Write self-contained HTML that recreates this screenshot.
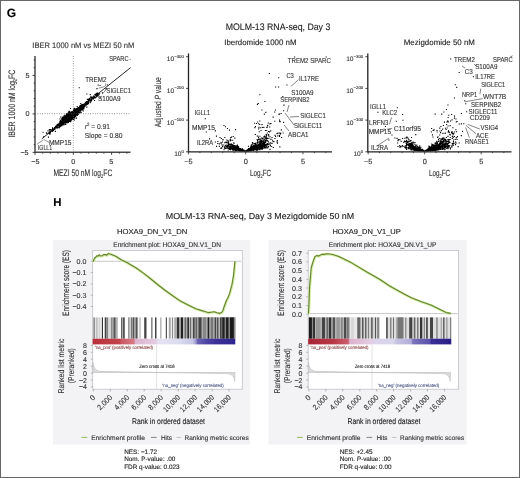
<!DOCTYPE html><html><head><meta charset="utf-8"><style>html,body{margin:0;padding:0;background:#fff;}svg{display:block;will-change:transform;text-rendering:geometricPrecision;font-family:"Liberation Sans",sans-serif;}</style></head><body><svg width="520" height="478" viewBox="0 0 520 478">
<rect x="0" y="0" width="520" height="478" fill="#fff"/>
<text x="6.70" y="16.90" font-size="12" fill="#000" font-weight="bold"  stroke="#000" stroke-width="0.12">G</text>
<text x="32.30" y="48.20" font-size="8" fill="#333" textLength="102.00" lengthAdjust="spacingAndGlyphs"  stroke="#333" stroke-width="0.12">IBER 1000 nM vs MEZI 50 nM</text>
<path d="M71.0 116.3h1.1v1.1h-1.1zM72.1 113.7h1.1v1.1h-1.1zM65.9 113.1h1.1v1.1h-1.1zM65.3 119.3h1.1v1.1h-1.1zM66.6 116.0h1.1v1.1h-1.1zM64.3 119.3h1.1v1.1h-1.1zM72.3 117.2h1.1v1.1h-1.1zM78.1 107.3h1.1v1.1h-1.1zM66.4 116.2h1.1v1.1h-1.1zM68.3 120.0h1.1v1.1h-1.1zM73.6 113.0h1.1v1.1h-1.1zM74.2 115.6h1.1v1.1h-1.1zM71.3 115.3h1.1v1.1h-1.1zM64.3 118.5h1.1v1.1h-1.1zM70.0 115.4h1.1v1.1h-1.1zM76.0 113.3h1.1v1.1h-1.1zM63.6 122.4h1.1v1.1h-1.1zM67.7 117.4h1.1v1.1h-1.1zM59.8 123.9h1.1v1.1h-1.1zM63.0 121.0h1.1v1.1h-1.1zM59.7 123.0h1.1v1.1h-1.1zM71.0 119.1h1.1v1.1h-1.1zM63.3 121.0h1.1v1.1h-1.1zM70.8 112.5h1.1v1.1h-1.1zM70.8 113.9h1.1v1.1h-1.1zM70.0 117.2h1.1v1.1h-1.1zM56.7 127.0h1.1v1.1h-1.1zM67.1 117.6h1.1v1.1h-1.1zM69.3 114.7h1.1v1.1h-1.1zM71.0 114.9h1.1v1.1h-1.1zM60.4 120.5h1.1v1.1h-1.1zM66.2 115.8h1.1v1.1h-1.1zM65.6 120.7h1.1v1.1h-1.1zM65.3 118.4h1.1v1.1h-1.1zM77.5 110.3h1.1v1.1h-1.1zM67.0 120.5h1.1v1.1h-1.1zM70.8 116.4h1.1v1.1h-1.1zM76.0 110.8h1.1v1.1h-1.1zM69.2 120.8h1.1v1.1h-1.1zM70.4 116.8h1.1v1.1h-1.1zM70.6 114.4h1.1v1.1h-1.1zM71.5 116.1h1.1v1.1h-1.1zM63.8 121.3h1.1v1.1h-1.1zM69.8 113.8h1.1v1.1h-1.1zM79.1 108.4h1.1v1.1h-1.1zM61.6 122.1h1.1v1.1h-1.1zM74.0 108.6h1.1v1.1h-1.1zM70.8 114.6h1.1v1.1h-1.1zM66.4 117.9h1.1v1.1h-1.1zM83.0 104.7h1.1v1.1h-1.1zM73.6 109.4h1.1v1.1h-1.1zM63.3 120.3h1.1v1.1h-1.1zM70.7 115.0h1.1v1.1h-1.1zM74.1 112.5h1.1v1.1h-1.1zM68.0 114.7h1.1v1.1h-1.1zM75.3 112.6h1.1v1.1h-1.1zM68.6 114.0h1.1v1.1h-1.1zM74.4 111.7h1.1v1.1h-1.1zM80.6 109.2h1.1v1.1h-1.1zM65.8 117.5h1.1v1.1h-1.1zM71.0 113.7h1.1v1.1h-1.1zM68.8 118.9h1.1v1.1h-1.1zM70.7 114.2h1.1v1.1h-1.1zM63.4 120.3h1.1v1.1h-1.1zM67.3 118.3h1.1v1.1h-1.1zM70.3 117.7h1.1v1.1h-1.1zM74.0 108.2h1.1v1.1h-1.1zM77.0 108.6h1.1v1.1h-1.1zM62.1 120.2h1.1v1.1h-1.1zM64.8 117.6h1.1v1.1h-1.1zM73.6 111.0h1.1v1.1h-1.1zM58.7 123.5h1.1v1.1h-1.1zM68.0 117.9h1.1v1.1h-1.1zM68.7 114.6h1.1v1.1h-1.1zM78.5 109.0h1.1v1.1h-1.1zM75.1 112.3h1.1v1.1h-1.1zM67.7 115.9h1.1v1.1h-1.1zM68.4 117.2h1.1v1.1h-1.1zM70.6 118.7h1.1v1.1h-1.1zM80.4 107.8h1.1v1.1h-1.1zM67.2 116.5h1.1v1.1h-1.1zM68.5 116.7h1.1v1.1h-1.1zM71.6 112.4h1.1v1.1h-1.1zM69.9 116.3h1.1v1.1h-1.1zM70.1 117.4h1.1v1.1h-1.1zM63.3 119.4h1.1v1.1h-1.1zM70.0 115.2h1.1v1.1h-1.1zM69.0 118.8h1.1v1.1h-1.1zM77.4 108.8h1.1v1.1h-1.1zM74.7 112.2h1.1v1.1h-1.1zM69.0 114.1h1.1v1.1h-1.1zM73.8 110.9h1.1v1.1h-1.1zM67.8 116.2h1.1v1.1h-1.1zM79.0 112.3h1.1v1.1h-1.1zM69.8 114.9h1.1v1.1h-1.1zM73.5 111.7h1.1v1.1h-1.1zM62.6 120.5h1.1v1.1h-1.1zM72.3 113.4h1.1v1.1h-1.1zM61.4 123.5h1.1v1.1h-1.1zM59.1 124.6h1.1v1.1h-1.1zM70.7 119.5h1.1v1.1h-1.1zM65.5 119.6h1.1v1.1h-1.1zM72.8 116.5h1.1v1.1h-1.1zM85.0 103.9h1.1v1.1h-1.1zM66.2 119.8h1.1v1.1h-1.1zM65.3 116.4h1.1v1.1h-1.1zM71.5 114.2h1.1v1.1h-1.1zM73.4 112.8h1.1v1.1h-1.1zM69.0 115.9h1.1v1.1h-1.1zM66.8 113.5h1.1v1.1h-1.1zM75.7 112.8h1.1v1.1h-1.1zM73.2 112.2h1.1v1.1h-1.1zM64.1 119.5h1.1v1.1h-1.1zM69.5 115.4h1.1v1.1h-1.1zM70.2 114.9h1.1v1.1h-1.1zM64.8 120.5h1.1v1.1h-1.1zM70.6 112.4h1.1v1.1h-1.1zM64.6 118.1h1.1v1.1h-1.1zM76.8 110.7h1.1v1.1h-1.1zM71.7 114.6h1.1v1.1h-1.1zM70.4 114.4h1.1v1.1h-1.1zM66.4 117.3h1.1v1.1h-1.1zM68.7 114.8h1.1v1.1h-1.1zM59.2 124.2h1.1v1.1h-1.1zM65.1 121.7h1.1v1.1h-1.1zM71.5 112.2h1.1v1.1h-1.1zM59.4 126.0h1.1v1.1h-1.1zM76.5 112.0h1.1v1.1h-1.1zM60.3 122.7h1.1v1.1h-1.1zM75.9 112.4h1.1v1.1h-1.1zM64.2 117.4h1.1v1.1h-1.1zM73.7 109.3h1.1v1.1h-1.1zM69.7 113.0h1.1v1.1h-1.1zM61.4 121.8h1.1v1.1h-1.1zM78.1 108.6h1.1v1.1h-1.1zM79.2 107.4h1.1v1.1h-1.1zM70.0 115.8h1.1v1.1h-1.1zM66.5 113.8h1.1v1.1h-1.1zM69.9 116.8h1.1v1.1h-1.1zM63.5 118.1h1.1v1.1h-1.1zM76.8 109.0h1.1v1.1h-1.1zM66.8 117.3h1.1v1.1h-1.1zM68.7 114.1h1.1v1.1h-1.1zM64.5 117.2h1.1v1.1h-1.1zM65.8 116.9h1.1v1.1h-1.1zM63.2 121.0h1.1v1.1h-1.1zM78.9 109.5h1.1v1.1h-1.1zM70.0 116.8h1.1v1.1h-1.1zM75.6 109.3h1.1v1.1h-1.1zM69.5 114.3h1.1v1.1h-1.1zM65.5 117.3h1.1v1.1h-1.1zM68.9 117.4h1.1v1.1h-1.1zM65.1 115.3h1.1v1.1h-1.1zM71.6 117.0h1.1v1.1h-1.1zM67.7 116.4h1.1v1.1h-1.1zM67.8 115.7h1.1v1.1h-1.1zM62.9 121.9h1.1v1.1h-1.1zM66.8 120.2h1.1v1.1h-1.1zM81.2 107.1h1.1v1.1h-1.1zM67.6 119.7h1.1v1.1h-1.1zM64.5 120.2h1.1v1.1h-1.1zM73.7 115.3h1.1v1.1h-1.1zM80.3 109.3h1.1v1.1h-1.1zM62.1 121.7h1.1v1.1h-1.1zM70.6 118.2h1.1v1.1h-1.1zM66.9 118.4h1.1v1.1h-1.1zM60.6 123.3h1.1v1.1h-1.1zM74.1 110.5h1.1v1.1h-1.1zM69.8 115.1h1.1v1.1h-1.1zM71.5 116.1h1.1v1.1h-1.1zM64.8 117.1h1.1v1.1h-1.1zM73.9 113.9h1.1v1.1h-1.1zM67.6 118.2h1.1v1.1h-1.1zM69.8 116.4h1.1v1.1h-1.1zM62.1 117.8h1.1v1.1h-1.1zM63.4 120.7h1.1v1.1h-1.1zM79.4 109.1h1.1v1.1h-1.1zM66.7 116.7h1.1v1.1h-1.1zM72.2 114.0h1.1v1.1h-1.1zM67.5 112.4h1.1v1.1h-1.1zM68.5 118.2h1.1v1.1h-1.1zM66.8 116.8h1.1v1.1h-1.1zM75.2 113.2h1.1v1.1h-1.1zM66.6 114.3h1.1v1.1h-1.1zM70.1 117.0h1.1v1.1h-1.1zM70.1 115.0h1.1v1.1h-1.1zM78.6 110.1h1.1v1.1h-1.1zM73.8 110.7h1.1v1.1h-1.1zM72.1 112.6h1.1v1.1h-1.1zM69.4 120.8h1.1v1.1h-1.1zM61.9 120.7h1.1v1.1h-1.1zM75.8 109.7h1.1v1.1h-1.1zM76.3 110.1h1.1v1.1h-1.1zM68.4 114.7h1.1v1.1h-1.1zM75.0 114.1h1.1v1.1h-1.1zM77.0 113.4h1.1v1.1h-1.1zM75.0 110.3h1.1v1.1h-1.1zM74.7 108.7h1.1v1.1h-1.1zM68.9 118.9h1.1v1.1h-1.1zM80.9 108.5h1.1v1.1h-1.1zM64.1 121.8h1.1v1.1h-1.1zM76.9 112.3h1.1v1.1h-1.1zM72.6 111.7h1.1v1.1h-1.1zM75.8 110.7h1.1v1.1h-1.1zM81.7 104.6h1.1v1.1h-1.1zM78.9 106.4h1.1v1.1h-1.1zM64.8 121.6h1.1v1.1h-1.1zM60.4 122.3h1.1v1.1h-1.1zM77.7 113.8h1.1v1.1h-1.1zM64.7 120.0h1.1v1.1h-1.1zM69.5 114.6h1.1v1.1h-1.1zM76.5 112.0h1.1v1.1h-1.1zM62.5 124.4h1.1v1.1h-1.1zM58.9 125.1h1.1v1.1h-1.1zM70.7 112.5h1.1v1.1h-1.1zM70.9 115.7h1.1v1.1h-1.1zM70.3 118.3h1.1v1.1h-1.1zM70.0 114.6h1.1v1.1h-1.1zM64.8 118.3h1.1v1.1h-1.1zM62.7 123.1h1.1v1.1h-1.1zM69.5 116.3h1.1v1.1h-1.1zM63.9 118.4h1.1v1.1h-1.1zM60.9 122.3h1.1v1.1h-1.1zM72.8 111.8h1.1v1.1h-1.1zM70.2 116.1h1.1v1.1h-1.1zM73.0 113.4h1.1v1.1h-1.1zM65.9 121.1h1.1v1.1h-1.1zM67.3 119.2h1.1v1.1h-1.1zM63.3 118.0h1.1v1.1h-1.1zM65.7 119.8h1.1v1.1h-1.1zM72.5 115.6h1.1v1.1h-1.1zM66.4 119.4h1.1v1.1h-1.1zM73.6 114.9h1.1v1.1h-1.1zM71.9 112.9h1.1v1.1h-1.1zM82.9 104.2h1.1v1.1h-1.1zM63.3 122.5h1.1v1.1h-1.1zM75.0 109.6h1.1v1.1h-1.1zM67.5 112.9h1.1v1.1h-1.1zM71.3 116.8h1.1v1.1h-1.1zM61.7 121.1h1.1v1.1h-1.1zM67.4 117.0h1.1v1.1h-1.1zM73.7 109.9h1.1v1.1h-1.1zM68.4 114.0h1.1v1.1h-1.1zM69.5 113.5h1.1v1.1h-1.1zM68.3 116.2h1.1v1.1h-1.1zM78.1 109.8h1.1v1.1h-1.1zM67.7 112.5h1.1v1.1h-1.1zM58.5 125.7h1.1v1.1h-1.1zM65.3 117.0h1.1v1.1h-1.1zM58.7 123.2h1.1v1.1h-1.1zM52.5 130.1h1.1v1.1h-1.1zM67.2 117.7h1.1v1.1h-1.1zM77.7 107.0h1.1v1.1h-1.1zM72.5 117.6h1.1v1.1h-1.1zM63.0 119.6h1.1v1.1h-1.1zM65.3 119.9h1.1v1.1h-1.1zM77.8 109.7h1.1v1.1h-1.1zM72.8 116.5h1.1v1.1h-1.1zM70.1 114.6h1.1v1.1h-1.1zM71.0 117.0h1.1v1.1h-1.1zM69.7 114.2h1.1v1.1h-1.1zM76.5 112.5h1.1v1.1h-1.1zM73.1 111.6h1.1v1.1h-1.1zM71.3 113.8h1.1v1.1h-1.1zM66.2 122.2h1.1v1.1h-1.1zM73.9 113.2h1.1v1.1h-1.1zM66.6 118.6h1.1v1.1h-1.1zM79.3 112.1h1.1v1.1h-1.1zM63.5 121.4h1.1v1.1h-1.1zM68.6 114.9h1.1v1.1h-1.1zM71.0 116.4h1.1v1.1h-1.1zM61.9 120.0h1.1v1.1h-1.1zM82.2 107.4h1.1v1.1h-1.1zM80.6 108.9h1.1v1.1h-1.1zM67.1 116.7h1.1v1.1h-1.1zM74.7 110.7h1.1v1.1h-1.1zM72.9 113.7h1.1v1.1h-1.1zM55.8 127.0h1.1v1.1h-1.1zM70.9 112.8h1.1v1.1h-1.1zM70.5 116.4h1.1v1.1h-1.1zM68.6 112.3h1.1v1.1h-1.1zM63.9 119.7h1.1v1.1h-1.1zM68.3 116.1h1.1v1.1h-1.1zM69.0 115.8h1.1v1.1h-1.1zM78.2 109.5h1.1v1.1h-1.1zM71.1 112.1h1.1v1.1h-1.1zM70.8 116.2h1.1v1.1h-1.1zM80.1 107.3h1.1v1.1h-1.1zM66.5 117.0h1.1v1.1h-1.1zM66.7 115.4h1.1v1.1h-1.1zM59.4 122.4h1.1v1.1h-1.1zM80.7 107.6h1.1v1.1h-1.1zM75.7 109.3h1.1v1.1h-1.1zM76.3 110.7h1.1v1.1h-1.1zM75.6 113.2h1.1v1.1h-1.1zM72.1 116.2h1.1v1.1h-1.1zM73.3 116.3h1.1v1.1h-1.1zM68.5 116.1h1.1v1.1h-1.1zM68.0 114.9h1.1v1.1h-1.1zM71.7 116.5h1.1v1.1h-1.1zM80.3 107.8h1.1v1.1h-1.1zM75.0 113.9h1.1v1.1h-1.1zM69.9 115.7h1.1v1.1h-1.1zM68.3 119.5h1.1v1.1h-1.1zM67.6 119.3h1.1v1.1h-1.1zM81.2 107.7h1.1v1.1h-1.1zM74.1 113.4h1.1v1.1h-1.1zM71.1 115.6h1.1v1.1h-1.1zM68.6 117.2h1.1v1.1h-1.1zM64.3 120.6h1.1v1.1h-1.1zM70.9 117.0h1.1v1.1h-1.1zM75.5 110.3h1.1v1.1h-1.1zM69.9 119.4h1.1v1.1h-1.1zM68.9 116.3h1.1v1.1h-1.1zM70.1 117.7h1.1v1.1h-1.1zM70.9 114.7h1.1v1.1h-1.1zM61.3 122.2h1.1v1.1h-1.1zM71.1 119.1h1.1v1.1h-1.1zM65.2 118.8h1.1v1.1h-1.1zM74.8 109.3h1.1v1.1h-1.1zM65.3 117.9h1.1v1.1h-1.1zM73.7 112.0h1.1v1.1h-1.1zM81.7 109.4h1.1v1.1h-1.1zM68.7 117.1h1.1v1.1h-1.1zM67.9 119.2h1.1v1.1h-1.1zM70.4 113.1h1.1v1.1h-1.1zM70.6 115.9h1.1v1.1h-1.1zM65.4 120.6h1.1v1.1h-1.1zM75.1 115.3h1.1v1.1h-1.1zM83.0 104.5h1.1v1.1h-1.1zM69.5 117.3h1.1v1.1h-1.1zM69.4 116.7h1.1v1.1h-1.1zM63.5 118.9h1.1v1.1h-1.1zM72.3 113.7h1.1v1.1h-1.1zM63.1 120.6h1.1v1.1h-1.1zM62.0 117.7h1.1v1.1h-1.1zM79.0 109.3h1.1v1.1h-1.1zM65.8 120.1h1.1v1.1h-1.1zM76.9 109.3h1.1v1.1h-1.1zM79.2 106.3h1.1v1.1h-1.1zM73.5 116.0h1.1v1.1h-1.1zM74.1 112.9h1.1v1.1h-1.1zM83.5 106.0h1.1v1.1h-1.1zM70.7 118.1h1.1v1.1h-1.1zM66.4 117.4h1.1v1.1h-1.1zM63.5 122.2h1.1v1.1h-1.1zM70.3 114.9h1.1v1.1h-1.1zM79.8 107.7h1.1v1.1h-1.1zM76.4 110.3h1.1v1.1h-1.1zM65.0 119.6h1.1v1.1h-1.1zM66.6 120.5h1.1v1.1h-1.1zM67.6 117.8h1.1v1.1h-1.1zM72.0 113.7h1.1v1.1h-1.1zM68.8 116.0h1.1v1.1h-1.1zM72.0 114.7h1.1v1.1h-1.1zM71.2 112.7h1.1v1.1h-1.1zM68.1 116.1h1.1v1.1h-1.1zM70.0 115.5h1.1v1.1h-1.1zM71.0 113.6h1.1v1.1h-1.1zM69.7 115.6h1.1v1.1h-1.1zM72.9 112.0h1.1v1.1h-1.1zM83.6 107.2h1.1v1.1h-1.1zM75.4 114.0h1.1v1.1h-1.1zM71.1 115.7h1.1v1.1h-1.1zM60.9 122.8h1.1v1.1h-1.1zM75.0 116.2h1.1v1.1h-1.1zM59.7 124.3h1.1v1.1h-1.1zM62.4 121.5h1.1v1.1h-1.1zM76.1 111.3h1.1v1.1h-1.1zM75.1 112.1h1.1v1.1h-1.1zM70.9 117.9h1.1v1.1h-1.1zM60.8 123.0h1.1v1.1h-1.1zM70.4 119.8h1.1v1.1h-1.1zM65.6 117.3h1.1v1.1h-1.1zM75.1 113.0h1.1v1.1h-1.1zM84.4 103.1h1.1v1.1h-1.1zM73.6 116.7h1.1v1.1h-1.1zM65.6 118.5h1.1v1.1h-1.1zM63.7 120.5h1.1v1.1h-1.1zM70.9 116.9h1.1v1.1h-1.1zM70.6 117.9h1.1v1.1h-1.1zM62.9 119.3h1.1v1.1h-1.1zM70.6 114.3h1.1v1.1h-1.1zM62.7 118.9h1.1v1.1h-1.1zM77.6 109.8h1.1v1.1h-1.1zM77.1 109.8h1.1v1.1h-1.1zM77.0 109.4h1.1v1.1h-1.1zM66.9 116.6h1.1v1.1h-1.1zM73.2 112.2h1.1v1.1h-1.1zM68.7 115.0h1.1v1.1h-1.1zM68.7 117.8h1.1v1.1h-1.1zM70.0 118.9h1.1v1.1h-1.1zM61.4 119.1h1.1v1.1h-1.1zM62.2 121.7h1.1v1.1h-1.1zM75.0 110.8h1.1v1.1h-1.1zM69.7 116.9h1.1v1.1h-1.1zM70.7 113.0h1.1v1.1h-1.1zM76.6 110.0h1.1v1.1h-1.1zM59.9 122.1h1.1v1.1h-1.1zM66.6 119.7h1.1v1.1h-1.1zM71.5 114.6h1.1v1.1h-1.1zM72.6 113.2h1.1v1.1h-1.1zM68.6 117.6h1.1v1.1h-1.1zM76.7 109.8h1.1v1.1h-1.1zM70.0 112.3h1.1v1.1h-1.1zM64.1 121.4h1.1v1.1h-1.1zM65.4 119.9h1.1v1.1h-1.1zM75.3 111.0h1.1v1.1h-1.1zM74.3 114.3h1.1v1.1h-1.1zM60.6 124.8h1.1v1.1h-1.1zM78.2 107.4h1.1v1.1h-1.1zM73.4 111.3h1.1v1.1h-1.1zM80.2 109.9h1.1v1.1h-1.1zM69.6 119.0h1.1v1.1h-1.1zM67.8 115.7h1.1v1.1h-1.1zM63.0 119.1h1.1v1.1h-1.1zM86.5 101.9h1.1v1.1h-1.1zM68.8 115.5h1.1v1.1h-1.1zM79.5 105.8h1.1v1.1h-1.1zM66.7 118.3h1.1v1.1h-1.1zM70.0 112.9h1.1v1.1h-1.1zM60.1 121.7h1.1v1.1h-1.1zM69.1 118.3h1.1v1.1h-1.1zM76.0 109.5h1.1v1.1h-1.1zM63.3 120.9h1.1v1.1h-1.1zM77.8 110.5h1.1v1.1h-1.1zM73.3 114.7h1.1v1.1h-1.1zM64.2 119.6h1.1v1.1h-1.1zM67.5 117.7h1.1v1.1h-1.1zM66.9 116.4h1.1v1.1h-1.1zM71.8 117.9h1.1v1.1h-1.1zM68.0 118.6h1.1v1.1h-1.1zM64.6 117.7h1.1v1.1h-1.1zM68.6 116.8h1.1v1.1h-1.1zM65.2 120.8h1.1v1.1h-1.1zM63.5 121.6h1.1v1.1h-1.1zM71.9 118.1h1.1v1.1h-1.1zM77.2 112.4h1.1v1.1h-1.1zM61.4 121.6h1.1v1.1h-1.1zM70.2 115.3h1.1v1.1h-1.1zM65.4 116.7h1.1v1.1h-1.1zM65.1 120.0h1.1v1.1h-1.1zM75.9 111.1h1.1v1.1h-1.1zM70.2 121.2h1.1v1.1h-1.1zM80.1 107.7h1.1v1.1h-1.1zM63.9 116.3h1.1v1.1h-1.1zM72.1 112.5h1.1v1.1h-1.1zM69.1 116.6h1.1v1.1h-1.1zM64.8 117.2h1.1v1.1h-1.1zM73.2 111.3h1.1v1.1h-1.1zM69.0 115.6h1.1v1.1h-1.1zM74.5 112.7h1.1v1.1h-1.1zM69.8 115.4h1.1v1.1h-1.1zM63.4 119.2h1.1v1.1h-1.1zM70.5 116.9h1.1v1.1h-1.1zM70.0 114.4h1.1v1.1h-1.1zM76.0 109.9h1.1v1.1h-1.1zM63.9 117.8h1.1v1.1h-1.1zM69.2 114.5h1.1v1.1h-1.1zM61.2 123.6h1.1v1.1h-1.1zM72.9 110.0h1.1v1.1h-1.1zM64.2 120.1h1.1v1.1h-1.1zM60.8 124.0h1.1v1.1h-1.1zM69.5 115.2h1.1v1.1h-1.1zM77.6 109.9h1.1v1.1h-1.1zM61.0 121.1h1.1v1.1h-1.1zM65.4 121.7h1.1v1.1h-1.1zM67.2 120.1h1.1v1.1h-1.1zM64.2 120.7h1.1v1.1h-1.1zM70.9 111.2h1.1v1.1h-1.1zM64.8 117.7h1.1v1.1h-1.1zM67.2 119.8h1.1v1.1h-1.1zM75.7 114.5h1.1v1.1h-1.1zM66.4 119.1h1.1v1.1h-1.1zM74.3 114.8h1.1v1.1h-1.1zM64.3 119.0h1.1v1.1h-1.1zM63.4 120.6h1.1v1.1h-1.1zM60.1 123.5h1.1v1.1h-1.1zM82.6 106.0h1.1v1.1h-1.1zM66.9 114.8h1.1v1.1h-1.1zM72.8 115.4h1.1v1.1h-1.1zM71.5 117.3h1.1v1.1h-1.1zM70.1 113.1h1.1v1.1h-1.1zM69.1 113.4h1.1v1.1h-1.1zM82.9 105.7h1.1v1.1h-1.1zM63.9 119.3h1.1v1.1h-1.1zM59.8 120.0h1.1v1.1h-1.1zM65.4 120.8h1.1v1.1h-1.1zM63.0 121.5h1.1v1.1h-1.1zM74.6 111.0h1.1v1.1h-1.1zM77.6 113.6h1.1v1.1h-1.1zM65.1 119.8h1.1v1.1h-1.1zM61.9 120.8h1.1v1.1h-1.1zM68.4 117.1h1.1v1.1h-1.1zM78.5 107.2h1.1v1.1h-1.1zM54.3 127.5h1.1v1.1h-1.1zM74.1 113.2h1.1v1.1h-1.1zM63.8 119.5h1.1v1.1h-1.1zM76.6 109.5h1.1v1.1h-1.1zM65.8 122.1h1.1v1.1h-1.1zM69.6 117.8h1.1v1.1h-1.1zM62.6 122.9h1.1v1.1h-1.1zM65.3 120.3h1.1v1.1h-1.1zM79.6 108.7h1.1v1.1h-1.1zM76.9 112.8h1.1v1.1h-1.1zM68.0 117.2h1.1v1.1h-1.1zM67.2 121.5h1.1v1.1h-1.1zM59.1 123.0h1.1v1.1h-1.1zM67.8 116.8h1.1v1.1h-1.1zM68.6 113.7h1.1v1.1h-1.1zM69.4 115.3h1.1v1.1h-1.1zM70.3 116.5h1.1v1.1h-1.1zM65.4 122.0h1.1v1.1h-1.1zM69.2 114.8h1.1v1.1h-1.1zM70.0 115.6h1.1v1.1h-1.1zM78.4 108.3h1.1v1.1h-1.1zM81.9 105.2h1.1v1.1h-1.1zM68.2 114.4h1.1v1.1h-1.1zM66.1 118.9h1.1v1.1h-1.1zM68.1 113.4h1.1v1.1h-1.1zM67.0 118.2h1.1v1.1h-1.1zM66.2 118.7h1.1v1.1h-1.1zM69.2 114.8h1.1v1.1h-1.1zM63.6 118.9h1.1v1.1h-1.1zM72.8 110.5h1.1v1.1h-1.1zM71.7 118.4h1.1v1.1h-1.1zM70.5 112.3h1.1v1.1h-1.1zM70.9 118.3h1.1v1.1h-1.1zM66.8 119.4h1.1v1.1h-1.1zM64.7 119.2h1.1v1.1h-1.1zM67.7 114.9h1.1v1.1h-1.1zM68.3 119.2h1.1v1.1h-1.1zM73.6 116.5h1.1v1.1h-1.1zM69.2 114.2h1.1v1.1h-1.1zM62.5 121.1h1.1v1.1h-1.1zM71.8 116.5h1.1v1.1h-1.1zM63.1 121.7h1.1v1.1h-1.1zM68.9 120.7h1.1v1.1h-1.1zM68.0 116.0h1.1v1.1h-1.1zM59.1 125.0h1.1v1.1h-1.1zM69.5 113.3h1.1v1.1h-1.1zM73.4 117.4h1.1v1.1h-1.1zM68.6 115.1h1.1v1.1h-1.1zM65.6 114.4h1.1v1.1h-1.1zM68.1 116.9h1.1v1.1h-1.1zM64.7 119.6h1.1v1.1h-1.1zM70.8 119.1h1.1v1.1h-1.1zM66.9 117.4h1.1v1.1h-1.1zM70.8 114.9h1.1v1.1h-1.1zM64.1 121.4h1.1v1.1h-1.1zM73.4 116.3h1.1v1.1h-1.1zM71.1 114.6h1.1v1.1h-1.1zM70.6 117.4h1.1v1.1h-1.1zM68.4 118.0h1.1v1.1h-1.1zM73.5 112.2h1.1v1.1h-1.1zM61.1 122.8h1.1v1.1h-1.1zM73.3 113.1h1.1v1.1h-1.1zM70.9 112.9h1.1v1.1h-1.1zM73.4 115.5h1.1v1.1h-1.1zM71.3 111.6h1.1v1.1h-1.1zM67.8 119.8h1.1v1.1h-1.1zM69.8 117.8h1.1v1.1h-1.1zM74.3 112.0h1.1v1.1h-1.1zM72.3 112.2h1.1v1.1h-1.1zM71.4 114.0h1.1v1.1h-1.1zM62.3 122.6h1.1v1.1h-1.1zM74.5 113.5h1.1v1.1h-1.1zM78.1 109.6h1.1v1.1h-1.1zM77.7 111.3h1.1v1.1h-1.1zM71.2 113.5h1.1v1.1h-1.1zM61.8 122.5h1.1v1.1h-1.1zM75.0 108.7h1.1v1.1h-1.1zM70.2 117.1h1.1v1.1h-1.1zM56.3 126.7h1.1v1.1h-1.1zM72.3 112.9h1.1v1.1h-1.1zM62.9 123.2h1.1v1.1h-1.1zM63.7 121.9h1.1v1.1h-1.1zM63.9 114.7h1.1v1.1h-1.1zM78.6 108.8h1.1v1.1h-1.1zM66.7 115.2h1.1v1.1h-1.1zM73.1 115.4h1.1v1.1h-1.1zM83.2 108.3h1.1v1.1h-1.1zM80.3 106.7h1.1v1.1h-1.1zM69.8 116.0h1.1v1.1h-1.1zM68.7 116.1h1.1v1.1h-1.1zM63.6 121.4h1.1v1.1h-1.1zM67.1 119.3h1.1v1.1h-1.1zM74.3 114.8h1.1v1.1h-1.1zM71.8 112.1h1.1v1.1h-1.1zM72.6 116.9h1.1v1.1h-1.1zM75.9 109.2h1.1v1.1h-1.1zM66.3 119.2h1.1v1.1h-1.1zM71.2 117.2h1.1v1.1h-1.1zM75.7 112.5h1.1v1.1h-1.1zM73.1 111.2h1.1v1.1h-1.1zM76.6 109.1h1.1v1.1h-1.1zM72.4 112.7h1.1v1.1h-1.1zM68.5 116.7h1.1v1.1h-1.1zM73.8 115.0h1.1v1.1h-1.1zM63.5 118.3h1.1v1.1h-1.1zM61.5 123.1h1.1v1.1h-1.1zM74.6 113.2h1.1v1.1h-1.1zM70.5 116.4h1.1v1.1h-1.1zM72.7 114.4h1.1v1.1h-1.1zM62.0 124.3h1.1v1.1h-1.1zM68.7 117.7h1.1v1.1h-1.1zM67.8 119.1h1.1v1.1h-1.1zM66.0 119.9h1.1v1.1h-1.1zM58.8 126.7h1.1v1.1h-1.1zM66.4 114.4h1.1v1.1h-1.1zM77.3 112.2h1.1v1.1h-1.1zM72.5 113.1h1.1v1.1h-1.1zM66.6 117.7h1.1v1.1h-1.1zM69.1 114.2h1.1v1.1h-1.1zM73.4 109.2h1.1v1.1h-1.1zM54.8 127.4h1.1v1.1h-1.1zM68.8 115.0h1.1v1.1h-1.1zM74.3 113.2h1.1v1.1h-1.1zM73.3 110.1h1.1v1.1h-1.1zM82.2 107.7h1.1v1.1h-1.1zM77.9 109.8h1.1v1.1h-1.1zM72.0 113.5h1.1v1.1h-1.1zM71.5 112.9h1.1v1.1h-1.1zM74.6 110.4h1.1v1.1h-1.1zM66.1 116.4h1.1v1.1h-1.1zM69.4 114.9h1.1v1.1h-1.1zM76.1 110.7h1.1v1.1h-1.1zM82.9 105.1h1.1v1.1h-1.1zM67.9 114.2h1.1v1.1h-1.1zM69.7 115.3h1.1v1.1h-1.1zM70.6 113.2h1.1v1.1h-1.1zM79.1 108.6h1.1v1.1h-1.1zM72.1 118.0h1.1v1.1h-1.1zM80.3 108.3h1.1v1.1h-1.1zM64.6 119.3h1.1v1.1h-1.1zM67.5 114.1h1.1v1.1h-1.1zM67.7 114.4h1.1v1.1h-1.1zM73.8 109.3h1.1v1.1h-1.1zM77.7 110.8h1.1v1.1h-1.1zM61.3 121.3h1.1v1.1h-1.1zM65.3 119.5h1.1v1.1h-1.1zM71.8 112.9h1.1v1.1h-1.1zM66.7 118.4h1.1v1.1h-1.1zM62.9 123.5h1.1v1.1h-1.1zM76.4 109.3h1.1v1.1h-1.1zM73.1 112.4h1.1v1.1h-1.1zM72.6 111.8h1.1v1.1h-1.1zM68.5 118.6h1.1v1.1h-1.1zM76.0 108.9h1.1v1.1h-1.1zM67.7 115.0h1.1v1.1h-1.1zM76.2 108.2h1.1v1.1h-1.1zM63.9 117.8h1.1v1.1h-1.1zM66.0 119.8h1.1v1.1h-1.1zM74.3 117.7h1.1v1.1h-1.1zM65.4 117.3h1.1v1.1h-1.1zM75.6 113.1h1.1v1.1h-1.1zM72.2 114.4h1.1v1.1h-1.1zM64.1 118.2h1.1v1.1h-1.1zM70.4 114.7h1.1v1.1h-1.1zM68.1 116.7h1.1v1.1h-1.1zM75.6 109.9h1.1v1.1h-1.1zM68.7 120.6h1.1v1.1h-1.1zM65.9 114.9h1.1v1.1h-1.1zM78.4 109.5h1.1v1.1h-1.1zM85.0 104.0h1.1v1.1h-1.1zM82.9 104.6h1.1v1.1h-1.1zM70.8 115.3h1.1v1.1h-1.1zM72.6 115.4h1.1v1.1h-1.1zM80.3 107.6h1.1v1.1h-1.1zM70.0 116.5h1.1v1.1h-1.1zM65.5 120.5h1.1v1.1h-1.1zM68.9 112.1h1.1v1.1h-1.1zM74.7 115.0h1.1v1.1h-1.1zM67.9 121.8h1.1v1.1h-1.1zM61.9 123.6h1.1v1.1h-1.1zM63.1 122.8h1.1v1.1h-1.1zM73.2 110.2h1.1v1.1h-1.1zM65.9 118.6h1.1v1.1h-1.1zM68.6 115.0h1.1v1.1h-1.1zM71.0 113.5h1.1v1.1h-1.1zM75.2 113.4h1.1v1.1h-1.1zM67.6 115.8h1.1v1.1h-1.1zM73.4 112.7h1.1v1.1h-1.1zM63.5 117.1h1.1v1.1h-1.1zM68.1 116.8h1.1v1.1h-1.1zM64.7 120.0h1.1v1.1h-1.1zM77.0 108.8h1.1v1.1h-1.1zM69.3 114.6h1.1v1.1h-1.1zM68.0 121.0h1.1v1.1h-1.1zM67.0 115.4h1.1v1.1h-1.1zM67.9 115.0h1.1v1.1h-1.1zM74.0 110.8h1.1v1.1h-1.1zM62.3 123.6h1.1v1.1h-1.1zM66.5 122.4h1.1v1.1h-1.1zM68.5 117.5h1.1v1.1h-1.1zM86.4 101.9h1.1v1.1h-1.1zM76.1 110.0h1.1v1.1h-1.1zM70.8 117.3h1.1v1.1h-1.1zM74.0 110.6h1.1v1.1h-1.1zM84.4 105.7h1.1v1.1h-1.1zM70.5 118.3h1.1v1.1h-1.1zM68.3 117.1h1.1v1.1h-1.1zM78.7 109.8h1.1v1.1h-1.1zM74.2 113.8h1.1v1.1h-1.1zM76.1 113.8h1.1v1.1h-1.1zM66.4 116.3h1.1v1.1h-1.1zM83.4 106.2h1.1v1.1h-1.1zM81.1 106.2h1.1v1.1h-1.1zM73.2 111.5h1.1v1.1h-1.1zM74.8 112.0h1.1v1.1h-1.1zM58.9 124.2h1.1v1.1h-1.1zM73.4 110.9h1.1v1.1h-1.1zM67.5 114.2h1.1v1.1h-1.1zM72.1 111.9h1.1v1.1h-1.1zM76.1 113.6h1.1v1.1h-1.1zM70.4 119.5h1.1v1.1h-1.1zM61.4 123.5h1.1v1.1h-1.1zM73.9 115.0h1.1v1.1h-1.1zM65.6 118.1h1.1v1.1h-1.1zM68.3 116.8h1.1v1.1h-1.1zM67.2 118.4h1.1v1.1h-1.1zM67.2 115.5h1.1v1.1h-1.1zM56.9 124.9h1.1v1.1h-1.1zM78.2 109.2h1.1v1.1h-1.1zM71.6 113.7h1.1v1.1h-1.1zM76.6 108.5h1.1v1.1h-1.1zM83.3 105.4h1.1v1.1h-1.1zM70.1 114.9h1.1v1.1h-1.1zM61.0 124.3h1.1v1.1h-1.1zM65.3 119.4h1.1v1.1h-1.1zM63.3 120.4h1.1v1.1h-1.1zM67.6 117.8h1.1v1.1h-1.1zM70.6 114.8h1.1v1.1h-1.1zM58.8 123.7h1.1v1.1h-1.1zM72.1 113.1h1.1v1.1h-1.1zM62.5 122.8h1.1v1.1h-1.1zM72.9 114.7h1.1v1.1h-1.1zM71.0 117.6h1.1v1.1h-1.1zM66.7 114.6h1.1v1.1h-1.1zM69.4 115.2h1.1v1.1h-1.1zM66.8 117.3h1.1v1.1h-1.1zM67.0 118.3h1.1v1.1h-1.1zM60.6 122.4h1.1v1.1h-1.1zM69.5 114.9h1.1v1.1h-1.1zM82.7 106.4h1.1v1.1h-1.1zM83.2 105.2h1.1v1.1h-1.1zM77.9 107.4h1.1v1.1h-1.1zM76.1 113.4h1.1v1.1h-1.1zM67.5 119.6h1.1v1.1h-1.1zM79.2 107.4h1.1v1.1h-1.1zM70.8 116.8h1.1v1.1h-1.1zM69.1 114.7h1.1v1.1h-1.1zM69.8 118.2h1.1v1.1h-1.1zM70.6 114.6h1.1v1.1h-1.1zM67.0 116.3h1.1v1.1h-1.1zM69.4 115.3h1.1v1.1h-1.1zM63.6 119.3h1.1v1.1h-1.1zM68.4 117.3h1.1v1.1h-1.1zM85.2 103.7h1.1v1.1h-1.1zM69.9 115.8h1.1v1.1h-1.1zM68.3 115.7h1.1v1.1h-1.1zM70.0 108.0h1.1v1.1h-1.1zM74.9 111.8h1.1v1.1h-1.1zM62.4 118.2h1.1v1.1h-1.1zM69.4 116.6h1.1v1.1h-1.1zM77.2 111.9h1.1v1.1h-1.1zM72.3 114.4h1.1v1.1h-1.1zM70.6 114.3h1.1v1.1h-1.1zM80.2 107.2h1.1v1.1h-1.1zM66.4 118.2h1.1v1.1h-1.1zM70.2 114.3h1.1v1.1h-1.1zM66.8 117.0h1.1v1.1h-1.1zM79.3 106.8h1.1v1.1h-1.1zM60.2 125.0h1.1v1.1h-1.1zM66.5 118.4h1.1v1.1h-1.1zM68.3 119.0h1.1v1.1h-1.1zM74.3 111.7h1.1v1.1h-1.1zM74.3 112.3h1.1v1.1h-1.1zM79.2 108.0h1.1v1.1h-1.1zM61.9 122.8h1.1v1.1h-1.1zM75.9 112.5h1.1v1.1h-1.1zM68.9 117.0h1.1v1.1h-1.1zM65.9 117.5h1.1v1.1h-1.1zM73.0 111.6h1.1v1.1h-1.1zM66.7 121.4h1.1v1.1h-1.1zM58.6 124.4h1.1v1.1h-1.1zM67.9 116.7h1.1v1.1h-1.1zM63.1 123.5h1.1v1.1h-1.1zM67.8 119.6h1.1v1.1h-1.1zM73.2 114.2h1.1v1.1h-1.1zM71.9 113.3h1.1v1.1h-1.1zM82.2 109.2h1.1v1.1h-1.1zM69.6 116.8h1.1v1.1h-1.1zM62.2 122.7h1.1v1.1h-1.1zM65.9 118.5h1.1v1.1h-1.1zM63.8 117.8h1.1v1.1h-1.1zM62.4 119.3h1.1v1.1h-1.1zM73.5 113.7h1.1v1.1h-1.1zM67.1 118.8h1.1v1.1h-1.1zM59.2 124.0h1.1v1.1h-1.1zM73.6 110.4h1.1v1.1h-1.1zM68.1 114.0h1.1v1.1h-1.1zM72.2 113.1h1.1v1.1h-1.1zM69.4 112.9h1.1v1.1h-1.1zM75.2 113.2h1.1v1.1h-1.1zM71.7 116.7h1.1v1.1h-1.1zM80.6 111.8h1.1v1.1h-1.1zM73.9 114.3h1.1v1.1h-1.1zM72.2 112.6h1.1v1.1h-1.1zM72.0 112.2h1.1v1.1h-1.1zM59.4 118.4h1.1v1.1h-1.1zM68.7 115.4h1.1v1.1h-1.1zM68.6 116.3h1.1v1.1h-1.1zM72.6 115.6h1.1v1.1h-1.1zM63.3 122.1h1.1v1.1h-1.1zM81.3 107.4h1.1v1.1h-1.1zM71.2 115.2h1.1v1.1h-1.1zM64.1 121.5h1.1v1.1h-1.1zM61.9 124.3h1.1v1.1h-1.1zM67.6 115.3h1.1v1.1h-1.1zM69.3 115.2h1.1v1.1h-1.1zM64.9 116.9h1.1v1.1h-1.1zM72.6 117.1h1.1v1.1h-1.1zM68.0 119.9h1.1v1.1h-1.1zM74.6 113.5h1.1v1.1h-1.1zM65.1 117.1h1.1v1.1h-1.1zM70.2 115.8h1.1v1.1h-1.1zM76.4 110.1h1.1v1.1h-1.1zM87.0 102.1h1.1v1.1h-1.1zM64.5 119.6h1.1v1.1h-1.1zM68.2 118.1h1.1v1.1h-1.1zM65.2 118.6h1.1v1.1h-1.1zM76.2 112.3h1.1v1.1h-1.1zM64.1 120.8h1.1v1.1h-1.1zM67.3 117.2h1.1v1.1h-1.1zM70.0 115.4h1.1v1.1h-1.1zM64.4 119.2h1.1v1.1h-1.1zM65.7 120.6h1.1v1.1h-1.1zM67.3 117.2h1.1v1.1h-1.1zM58.8 124.9h1.1v1.1h-1.1zM61.9 121.4h1.1v1.1h-1.1zM66.4 115.3h1.1v1.1h-1.1zM72.2 115.8h1.1v1.1h-1.1zM68.1 114.8h1.1v1.1h-1.1zM60.9 123.9h1.1v1.1h-1.1zM68.1 118.0h1.1v1.1h-1.1zM73.9 109.3h1.1v1.1h-1.1zM72.9 111.3h1.1v1.1h-1.1zM69.3 115.1h1.1v1.1h-1.1zM64.6 118.4h1.1v1.1h-1.1zM73.2 110.7h1.1v1.1h-1.1zM67.8 118.9h1.1v1.1h-1.1zM63.6 120.3h1.1v1.1h-1.1zM66.2 119.4h1.1v1.1h-1.1zM79.3 107.5h1.1v1.1h-1.1zM72.0 114.7h1.1v1.1h-1.1zM77.2 108.6h1.1v1.1h-1.1zM67.6 117.5h1.1v1.1h-1.1zM76.9 111.2h1.1v1.1h-1.1zM67.0 118.1h1.1v1.1h-1.1zM68.9 115.5h1.1v1.1h-1.1zM86.0 101.9h1.1v1.1h-1.1zM75.4 111.6h1.1v1.1h-1.1zM67.8 118.1h1.1v1.1h-1.1zM69.5 115.4h1.1v1.1h-1.1zM71.6 112.7h1.1v1.1h-1.1zM78.6 109.7h1.1v1.1h-1.1zM70.1 120.8h1.1v1.1h-1.1zM60.4 122.8h1.1v1.1h-1.1zM69.1 117.1h1.1v1.1h-1.1zM70.8 115.8h1.1v1.1h-1.1zM68.2 111.4h1.1v1.1h-1.1zM78.9 108.7h1.1v1.1h-1.1zM71.6 112.8h1.1v1.1h-1.1zM76.8 112.8h1.1v1.1h-1.1zM63.9 120.0h1.1v1.1h-1.1zM75.2 110.0h1.1v1.1h-1.1zM83.8 104.4h1.1v1.1h-1.1zM75.4 111.6h1.1v1.1h-1.1zM71.3 113.4h1.1v1.1h-1.1zM71.2 114.5h1.1v1.1h-1.1zM81.0 105.1h1.1v1.1h-1.1zM64.9 119.2h1.1v1.1h-1.1zM70.5 116.9h1.1v1.1h-1.1zM75.3 115.5h1.1v1.1h-1.1zM75.8 112.4h1.1v1.1h-1.1zM68.1 117.7h1.1v1.1h-1.1zM73.5 115.4h1.1v1.1h-1.1zM69.8 118.0h1.1v1.1h-1.1zM72.8 117.0h1.1v1.1h-1.1zM70.7 117.4h1.1v1.1h-1.1zM63.8 120.3h1.1v1.1h-1.1zM70.4 115.8h1.1v1.1h-1.1zM76.1 111.1h1.1v1.1h-1.1zM65.2 120.0h1.1v1.1h-1.1zM69.1 116.7h1.1v1.1h-1.1zM73.8 111.0h1.1v1.1h-1.1zM62.4 117.7h1.1v1.1h-1.1zM70.7 113.6h1.1v1.1h-1.1zM62.5 117.8h1.1v1.1h-1.1zM77.7 109.6h1.1v1.1h-1.1zM85.3 103.4h1.1v1.1h-1.1zM82.5 103.8h1.1v1.1h-1.1zM69.8 117.3h1.1v1.1h-1.1zM75.9 112.6h1.1v1.1h-1.1zM71.1 114.9h1.1v1.1h-1.1zM72.7 117.1h1.1v1.1h-1.1zM81.6 109.0h1.1v1.1h-1.1zM61.9 120.0h1.1v1.1h-1.1zM78.0 111.0h1.1v1.1h-1.1zM70.4 116.2h1.1v1.1h-1.1zM79.7 108.5h1.1v1.1h-1.1zM72.5 115.7h1.1v1.1h-1.1zM65.8 117.5h1.1v1.1h-1.1zM71.4 113.2h1.1v1.1h-1.1zM74.2 110.6h1.1v1.1h-1.1zM69.7 114.2h1.1v1.1h-1.1zM73.3 112.7h1.1v1.1h-1.1zM65.9 115.9h1.1v1.1h-1.1zM57.8 124.0h1.1v1.1h-1.1zM76.6 111.4h1.1v1.1h-1.1zM74.7 111.7h1.1v1.1h-1.1zM71.6 115.1h1.1v1.1h-1.1zM68.7 112.5h1.1v1.1h-1.1zM76.3 109.2h1.1v1.1h-1.1zM67.2 116.7h1.1v1.1h-1.1zM66.4 118.6h1.1v1.1h-1.1zM68.6 115.5h1.1v1.1h-1.1zM78.7 110.2h1.1v1.1h-1.1zM62.5 121.5h1.1v1.1h-1.1zM78.0 109.2h1.1v1.1h-1.1zM66.7 118.3h1.1v1.1h-1.1zM64.8 121.1h1.1v1.1h-1.1zM78.1 108.4h1.1v1.1h-1.1zM70.9 117.3h1.1v1.1h-1.1zM63.5 121.6h1.1v1.1h-1.1zM68.4 117.2h1.1v1.1h-1.1zM76.3 110.6h1.1v1.1h-1.1zM78.4 109.7h1.1v1.1h-1.1zM68.9 118.6h1.1v1.1h-1.1zM73.9 114.5h1.1v1.1h-1.1zM75.3 112.2h1.1v1.1h-1.1zM67.6 119.4h1.1v1.1h-1.1zM72.7 113.7h1.1v1.1h-1.1zM71.4 117.2h1.1v1.1h-1.1zM67.3 117.7h1.1v1.1h-1.1zM65.4 114.9h1.1v1.1h-1.1zM72.1 116.8h1.1v1.1h-1.1zM70.6 115.4h1.1v1.1h-1.1zM65.9 116.4h1.1v1.1h-1.1zM67.7 117.0h1.1v1.1h-1.1zM76.7 108.7h1.1v1.1h-1.1zM73.9 117.1h1.1v1.1h-1.1zM76.5 111.4h1.1v1.1h-1.1zM76.8 107.6h1.1v1.1h-1.1zM74.6 113.0h1.1v1.1h-1.1zM84.8 103.4h1.1v1.1h-1.1zM67.5 121.4h1.1v1.1h-1.1zM74.5 110.0h1.1v1.1h-1.1zM66.1 113.9h1.1v1.1h-1.1zM82.4 105.8h1.1v1.1h-1.1zM81.1 106.3h1.1v1.1h-1.1zM59.2 123.7h1.1v1.1h-1.1zM62.9 117.2h1.1v1.1h-1.1zM75.0 112.5h1.1v1.1h-1.1zM77.0 113.3h1.1v1.1h-1.1zM73.2 109.3h1.1v1.1h-1.1zM71.1 117.3h1.1v1.1h-1.1zM72.6 112.3h1.1v1.1h-1.1zM76.8 114.9h1.1v1.1h-1.1zM70.3 116.3h1.1v1.1h-1.1zM76.8 109.9h1.1v1.1h-1.1zM58.4 126.2h1.1v1.1h-1.1zM74.9 112.8h1.1v1.1h-1.1zM64.0 119.3h1.1v1.1h-1.1zM77.1 111.2h1.1v1.1h-1.1zM68.4 115.7h1.1v1.1h-1.1zM63.6 117.2h1.1v1.1h-1.1zM74.8 116.1h1.1v1.1h-1.1zM64.9 119.0h1.1v1.1h-1.1zM64.6 118.7h1.1v1.1h-1.1zM61.9 122.7h1.1v1.1h-1.1zM68.4 113.5h1.1v1.1h-1.1zM72.1 111.1h1.1v1.1h-1.1zM76.5 109.5h1.1v1.1h-1.1zM68.9 115.3h1.1v1.1h-1.1zM77.1 110.0h1.1v1.1h-1.1zM71.6 116.8h1.1v1.1h-1.1zM69.2 115.2h1.1v1.1h-1.1zM74.5 113.0h1.1v1.1h-1.1zM77.6 110.6h1.1v1.1h-1.1zM67.2 115.5h1.1v1.1h-1.1zM69.1 116.8h1.1v1.1h-1.1zM68.4 114.9h1.1v1.1h-1.1zM71.9 116.4h1.1v1.1h-1.1zM65.7 119.9h1.1v1.1h-1.1zM76.9 110.1h1.1v1.1h-1.1zM66.6 115.4h1.1v1.1h-1.1zM73.4 113.2h1.1v1.1h-1.1zM64.9 118.1h1.1v1.1h-1.1zM73.3 114.5h1.1v1.1h-1.1zM72.7 113.2h1.1v1.1h-1.1zM67.1 116.2h1.1v1.1h-1.1zM83.9 105.5h1.1v1.1h-1.1zM73.4 114.4h1.1v1.1h-1.1zM81.4 105.7h1.1v1.1h-1.1zM77.5 111.7h1.1v1.1h-1.1zM66.3 118.0h1.1v1.1h-1.1zM67.8 116.7h1.1v1.1h-1.1zM73.2 113.3h1.1v1.1h-1.1zM69.8 114.1h1.1v1.1h-1.1zM70.1 114.6h1.1v1.1h-1.1zM68.5 116.5h1.1v1.1h-1.1zM61.3 124.7h1.1v1.1h-1.1zM70.6 118.4h1.1v1.1h-1.1zM57.8 125.0h1.1v1.1h-1.1zM74.3 115.6h1.1v1.1h-1.1zM66.2 118.6h1.1v1.1h-1.1zM66.7 119.0h1.1v1.1h-1.1zM70.0 117.5h1.1v1.1h-1.1zM72.3 114.4h1.1v1.1h-1.1zM64.3 124.2h1.1v1.1h-1.1zM60.8 123.4h1.1v1.1h-1.1zM63.3 118.8h1.1v1.1h-1.1zM59.8 125.5h1.1v1.1h-1.1zM64.5 119.2h1.1v1.1h-1.1zM80.4 106.9h1.1v1.1h-1.1zM61.7 116.7h1.1v1.1h-1.1zM75.5 113.2h1.1v1.1h-1.1zM63.3 122.3h1.1v1.1h-1.1zM73.0 114.9h1.1v1.1h-1.1zM69.5 118.1h1.1v1.1h-1.1zM71.7 117.9h1.1v1.1h-1.1zM73.9 112.4h1.1v1.1h-1.1zM82.3 107.0h1.1v1.1h-1.1zM70.7 113.4h1.1v1.1h-1.1zM70.7 114.3h1.1v1.1h-1.1zM65.9 120.9h1.1v1.1h-1.1zM74.4 112.9h1.1v1.1h-1.1zM67.5 114.7h1.1v1.1h-1.1zM76.0 111.5h1.1v1.1h-1.1zM69.8 115.4h1.1v1.1h-1.1zM81.0 105.7h1.1v1.1h-1.1zM59.6 124.5h1.1v1.1h-1.1zM68.2 116.2h1.1v1.1h-1.1zM74.5 109.0h1.1v1.1h-1.1zM67.2 115.5h1.1v1.1h-1.1zM67.6 121.1h1.1v1.1h-1.1zM67.2 114.6h1.1v1.1h-1.1zM62.8 121.7h1.1v1.1h-1.1zM71.7 115.6h1.1v1.1h-1.1zM86.4 103.1h1.1v1.1h-1.1zM76.7 108.2h1.1v1.1h-1.1zM63.8 119.9h1.1v1.1h-1.1zM65.6 119.4h1.1v1.1h-1.1zM68.8 118.2h1.1v1.1h-1.1zM76.2 109.5h1.1v1.1h-1.1zM64.6 117.6h1.1v1.1h-1.1zM67.4 119.7h1.1v1.1h-1.1zM77.0 112.1h1.1v1.1h-1.1zM76.2 111.3h1.1v1.1h-1.1zM67.6 116.3h1.1v1.1h-1.1zM64.4 120.8h1.1v1.1h-1.1zM61.8 122.4h1.1v1.1h-1.1zM67.2 119.5h1.1v1.1h-1.1zM57.2 124.4h1.1v1.1h-1.1zM75.2 111.6h1.1v1.1h-1.1zM66.6 118.0h1.1v1.1h-1.1zM72.3 111.5h1.1v1.1h-1.1zM82.5 105.9h1.1v1.1h-1.1zM77.9 109.3h1.1v1.1h-1.1zM63.5 120.0h1.1v1.1h-1.1zM76.3 111.3h1.1v1.1h-1.1zM76.6 107.9h1.1v1.1h-1.1zM66.1 118.6h1.1v1.1h-1.1zM65.4 120.1h1.1v1.1h-1.1zM69.9 116.3h1.1v1.1h-1.1zM62.2 123.5h1.1v1.1h-1.1zM78.9 106.7h1.1v1.1h-1.1zM56.2 125.0h1.1v1.1h-1.1zM64.4 120.6h1.1v1.1h-1.1zM69.2 117.2h1.1v1.1h-1.1zM71.2 119.2h1.1v1.1h-1.1zM72.0 115.4h1.1v1.1h-1.1zM71.1 112.9h1.1v1.1h-1.1zM69.9 117.4h1.1v1.1h-1.1zM76.9 108.6h1.1v1.1h-1.1zM57.5 123.7h1.1v1.1h-1.1zM73.0 118.9h1.1v1.1h-1.1zM66.6 119.0h1.1v1.1h-1.1zM71.9 115.7h1.1v1.1h-1.1zM72.3 115.0h1.1v1.1h-1.1zM66.9 121.6h1.1v1.1h-1.1zM67.0 118.6h1.1v1.1h-1.1zM76.6 112.7h1.1v1.1h-1.1zM71.5 112.3h1.1v1.1h-1.1zM65.1 116.7h1.1v1.1h-1.1zM84.3 105.8h1.1v1.1h-1.1zM85.9 104.3h1.1v1.1h-1.1zM62.6 122.4h1.1v1.1h-1.1zM72.4 114.1h1.1v1.1h-1.1zM86.6 102.5h1.1v1.1h-1.1zM74.7 110.5h1.1v1.1h-1.1zM73.3 116.3h1.1v1.1h-1.1zM69.8 117.2h1.1v1.1h-1.1zM67.8 118.4h1.1v1.1h-1.1zM69.5 116.8h1.1v1.1h-1.1zM68.3 119.2h1.1v1.1h-1.1zM75.6 112.1h1.1v1.1h-1.1zM68.8 118.1h1.1v1.1h-1.1zM66.6 115.8h1.1v1.1h-1.1zM64.1 121.3h1.1v1.1h-1.1zM72.3 118.5h1.1v1.1h-1.1zM64.8 118.7h1.1v1.1h-1.1zM69.1 116.0h1.1v1.1h-1.1zM77.8 111.0h1.1v1.1h-1.1zM73.6 114.7h1.1v1.1h-1.1zM74.2 113.6h1.1v1.1h-1.1zM70.9 111.5h1.1v1.1h-1.1zM71.2 115.8h1.1v1.1h-1.1zM68.3 114.4h1.1v1.1h-1.1zM67.7 115.7h1.1v1.1h-1.1zM75.7 112.1h1.1v1.1h-1.1zM64.0 119.9h1.1v1.1h-1.1zM79.6 109.2h1.1v1.1h-1.1zM73.8 119.4h1.1v1.1h-1.1zM66.9 119.7h1.1v1.1h-1.1zM68.3 118.5h1.1v1.1h-1.1zM65.6 117.3h1.1v1.1h-1.1zM70.6 113.7h1.1v1.1h-1.1zM65.2 117.3h1.1v1.1h-1.1zM77.2 108.9h1.1v1.1h-1.1zM64.9 117.5h1.1v1.1h-1.1zM57.3 125.0h1.1v1.1h-1.1zM66.0 118.4h1.1v1.1h-1.1zM58.5 123.5h1.1v1.1h-1.1zM68.5 113.7h1.1v1.1h-1.1zM76.0 108.4h1.1v1.1h-1.1zM74.9 112.6h1.1v1.1h-1.1zM62.9 121.4h1.1v1.1h-1.1zM67.0 120.0h1.1v1.1h-1.1zM82.5 107.0h1.1v1.1h-1.1zM72.0 113.3h1.1v1.1h-1.1zM71.0 116.3h1.1v1.1h-1.1zM75.9 108.4h1.1v1.1h-1.1zM87.2 103.9h1.1v1.1h-1.1zM79.6 109.8h1.1v1.1h-1.1zM70.9 114.4h1.1v1.1h-1.1zM71.3 112.1h1.1v1.1h-1.1zM74.6 112.7h1.1v1.1h-1.1zM65.0 115.8h1.1v1.1h-1.1zM63.7 119.2h1.1v1.1h-1.1zM71.4 116.1h1.1v1.1h-1.1zM65.1 119.7h1.1v1.1h-1.1zM69.4 115.0h1.1v1.1h-1.1zM71.9 116.2h1.1v1.1h-1.1zM85.0 102.6h1.1v1.1h-1.1zM65.8 119.5h1.1v1.1h-1.1zM69.0 115.3h1.1v1.1h-1.1zM68.4 115.0h1.1v1.1h-1.1zM73.6 113.7h1.1v1.1h-1.1zM76.2 108.9h1.1v1.1h-1.1zM69.5 120.0h1.1v1.1h-1.1zM65.1 118.3h1.1v1.1h-1.1zM62.7 124.5h1.1v1.1h-1.1zM64.1 118.2h1.1v1.1h-1.1zM74.3 113.4h1.1v1.1h-1.1zM69.3 113.6h1.1v1.1h-1.1zM63.4 118.3h1.1v1.1h-1.1zM68.4 117.3h1.1v1.1h-1.1zM71.2 116.1h1.1v1.1h-1.1zM72.2 111.2h1.1v1.1h-1.1zM68.2 119.5h1.1v1.1h-1.1zM68.0 115.5h1.1v1.1h-1.1zM60.3 123.6h1.1v1.1h-1.1zM64.2 120.9h1.1v1.1h-1.1zM81.2 107.5h1.1v1.1h-1.1zM57.1 123.8h1.1v1.1h-1.1zM70.1 119.0h1.1v1.1h-1.1zM72.3 115.0h1.1v1.1h-1.1zM67.7 116.5h1.1v1.1h-1.1zM64.8 117.7h1.1v1.1h-1.1zM68.1 113.4h1.1v1.1h-1.1zM68.8 113.6h1.1v1.1h-1.1zM70.4 116.5h1.1v1.1h-1.1zM59.6 123.4h1.1v1.1h-1.1zM68.2 114.6h1.1v1.1h-1.1zM65.0 118.6h1.1v1.1h-1.1zM68.8 119.8h1.1v1.1h-1.1zM71.4 113.8h1.1v1.1h-1.1zM73.8 111.4h1.1v1.1h-1.1zM77.3 112.3h1.1v1.1h-1.1zM68.0 118.2h1.1v1.1h-1.1zM76.3 110.7h1.1v1.1h-1.1zM77.4 108.7h1.1v1.1h-1.1zM76.3 107.9h1.1v1.1h-1.1zM78.4 107.1h1.1v1.1h-1.1zM68.9 115.4h1.1v1.1h-1.1zM69.1 115.9h1.1v1.1h-1.1zM75.9 111.5h1.1v1.1h-1.1zM63.2 122.0h1.1v1.1h-1.1zM71.8 114.6h1.1v1.1h-1.1zM67.5 118.0h1.1v1.1h-1.1zM67.2 115.7h1.1v1.1h-1.1zM59.1 121.2h1.1v1.1h-1.1zM64.8 118.7h1.1v1.1h-1.1zM69.1 114.2h1.1v1.1h-1.1zM75.4 110.0h1.1v1.1h-1.1zM76.4 110.0h1.1v1.1h-1.1zM68.5 114.1h1.1v1.1h-1.1zM68.0 114.8h1.1v1.1h-1.1zM65.6 119.0h1.1v1.1h-1.1zM73.0 113.5h1.1v1.1h-1.1zM68.2 115.6h1.1v1.1h-1.1zM74.7 112.9h1.1v1.1h-1.1zM81.5 106.1h1.1v1.1h-1.1zM69.0 114.2h1.1v1.1h-1.1zM62.0 122.1h1.1v1.1h-1.1zM67.3 121.5h1.1v1.1h-1.1zM61.7 121.2h1.1v1.1h-1.1zM64.7 122.0h1.1v1.1h-1.1zM79.8 110.0h1.1v1.1h-1.1zM73.3 116.2h1.1v1.1h-1.1zM61.2 121.3h1.1v1.1h-1.1zM76.5 114.5h1.1v1.1h-1.1zM78.5 109.0h1.1v1.1h-1.1zM68.0 116.7h1.1v1.1h-1.1zM66.3 118.1h1.1v1.1h-1.1zM69.0 117.7h1.1v1.1h-1.1zM72.2 114.0h1.1v1.1h-1.1zM74.2 111.9h1.1v1.1h-1.1zM79.0 110.6h1.1v1.1h-1.1zM77.5 108.4h1.1v1.1h-1.1zM77.1 108.2h1.1v1.1h-1.1zM79.7 109.1h1.1v1.1h-1.1zM75.2 112.8h1.1v1.1h-1.1zM62.6 123.2h1.1v1.1h-1.1zM68.4 114.6h1.1v1.1h-1.1zM73.4 115.2h1.1v1.1h-1.1zM68.6 117.7h1.1v1.1h-1.1zM77.8 112.7h1.1v1.1h-1.1zM67.0 115.4h1.1v1.1h-1.1zM65.3 119.8h1.1v1.1h-1.1zM79.4 107.6h1.1v1.1h-1.1zM73.0 110.0h1.1v1.1h-1.1zM70.9 113.3h1.1v1.1h-1.1zM77.3 111.9h1.1v1.1h-1.1zM76.8 109.4h1.1v1.1h-1.1zM71.7 112.7h1.1v1.1h-1.1zM57.1 126.8h1.1v1.1h-1.1zM67.5 119.6h1.1v1.1h-1.1zM68.7 118.7h1.1v1.1h-1.1zM64.1 118.8h1.1v1.1h-1.1zM71.5 114.3h1.1v1.1h-1.1zM78.8 110.3h1.1v1.1h-1.1zM66.9 116.7h1.1v1.1h-1.1zM63.3 119.6h1.1v1.1h-1.1zM83.9 105.4h1.1v1.1h-1.1zM69.4 119.4h1.1v1.1h-1.1zM62.4 119.6h1.1v1.1h-1.1zM69.1 110.8h1.1v1.1h-1.1zM71.5 111.3h1.1v1.1h-1.1zM65.3 117.3h1.1v1.1h-1.1zM75.3 111.1h1.1v1.1h-1.1zM68.2 118.4h1.1v1.1h-1.1zM65.0 119.3h1.1v1.1h-1.1zM70.7 113.6h1.1v1.1h-1.1zM75.4 111.6h1.1v1.1h-1.1zM65.8 117.0h1.1v1.1h-1.1zM72.4 113.6h1.1v1.1h-1.1zM69.1 115.0h1.1v1.1h-1.1zM89.6 101.9h1.1v1.1h-1.1zM67.1 119.6h1.1v1.1h-1.1zM78.6 107.4h1.1v1.1h-1.1zM68.9 114.3h1.1v1.1h-1.1zM69.1 115.4h1.1v1.1h-1.1zM73.4 109.7h1.1v1.1h-1.1zM75.4 109.9h1.1v1.1h-1.1zM77.9 108.1h1.1v1.1h-1.1zM73.3 114.9h1.1v1.1h-1.1zM66.5 117.5h1.1v1.1h-1.1zM66.5 116.8h1.1v1.1h-1.1zM72.2 111.1h1.1v1.1h-1.1zM72.9 110.9h1.1v1.1h-1.1zM79.3 108.1h1.1v1.1h-1.1zM72.7 113.0h1.1v1.1h-1.1zM78.1 111.1h1.1v1.1h-1.1zM79.7 107.0h1.1v1.1h-1.1zM72.4 116.0h1.1v1.1h-1.1zM62.2 122.2h1.1v1.1h-1.1zM63.7 120.6h1.1v1.1h-1.1zM60.7 119.7h1.1v1.1h-1.1zM79.7 106.0h1.1v1.1h-1.1zM66.3 120.0h1.1v1.1h-1.1zM79.4 110.4h1.1v1.1h-1.1zM74.3 112.6h1.1v1.1h-1.1zM81.9 107.1h1.1v1.1h-1.1zM76.4 109.7h1.1v1.1h-1.1zM69.3 115.4h1.1v1.1h-1.1zM68.4 115.4h1.1v1.1h-1.1zM71.8 116.3h1.1v1.1h-1.1zM71.8 115.0h1.1v1.1h-1.1zM67.1 117.5h1.1v1.1h-1.1zM69.7 115.1h1.1v1.1h-1.1zM81.1 107.5h1.1v1.1h-1.1zM61.1 123.2h1.1v1.1h-1.1zM71.1 113.0h1.1v1.1h-1.1zM66.9 121.5h1.1v1.1h-1.1zM71.7 114.8h1.1v1.1h-1.1zM75.7 111.1h1.1v1.1h-1.1zM71.5 117.6h1.1v1.1h-1.1zM76.2 112.6h1.1v1.1h-1.1zM61.4 122.4h1.1v1.1h-1.1zM77.9 110.2h1.1v1.1h-1.1zM65.8 116.7h1.1v1.1h-1.1zM73.7 111.4h1.1v1.1h-1.1zM69.0 111.5h1.1v1.1h-1.1zM56.6 127.6h1.1v1.1h-1.1zM64.2 116.4h1.1v1.1h-1.1zM72.4 115.2h1.1v1.1h-1.1zM79.8 106.6h1.1v1.1h-1.1zM71.1 112.6h1.1v1.1h-1.1zM71.7 113.8h1.1v1.1h-1.1zM62.7 121.9h1.1v1.1h-1.1zM80.0 108.5h1.1v1.1h-1.1zM83.1 107.4h1.1v1.1h-1.1zM70.8 115.7h1.1v1.1h-1.1zM70.0 117.5h1.1v1.1h-1.1zM60.9 122.0h1.1v1.1h-1.1zM76.6 111.6h1.1v1.1h-1.1zM87.9 101.4h1.1v1.1h-1.1zM74.5 111.1h1.1v1.1h-1.1zM78.4 108.7h1.1v1.1h-1.1zM73.7 112.5h1.1v1.1h-1.1zM65.0 120.0h1.1v1.1h-1.1zM79.2 108.8h1.1v1.1h-1.1zM63.0 120.3h1.1v1.1h-1.1zM68.3 115.4h1.1v1.1h-1.1zM72.8 114.9h1.1v1.1h-1.1zM74.4 108.9h1.1v1.1h-1.1zM72.3 112.5h1.1v1.1h-1.1zM74.4 115.4h1.1v1.1h-1.1zM63.4 115.5h1.1v1.1h-1.1zM62.5 120.4h1.1v1.1h-1.1zM71.4 116.0h1.1v1.1h-1.1zM64.7 116.5h1.1v1.1h-1.1zM65.2 123.9h1.1v1.1h-1.1zM61.0 118.2h1.1v1.1h-1.1zM69.0 119.4h1.1v1.1h-1.1zM61.1 124.9h1.1v1.1h-1.1zM63.6 122.3h1.1v1.1h-1.1zM61.0 122.4h1.1v1.1h-1.1zM71.8 114.9h1.1v1.1h-1.1zM72.0 112.1h1.1v1.1h-1.1zM83.7 105.5h1.1v1.1h-1.1zM61.1 120.9h1.1v1.1h-1.1zM66.2 118.1h1.1v1.1h-1.1zM77.1 111.8h1.1v1.1h-1.1zM67.9 114.9h1.1v1.1h-1.1zM68.1 116.4h1.1v1.1h-1.1zM81.5 106.7h1.1v1.1h-1.1zM67.0 115.2h1.1v1.1h-1.1zM64.9 121.8h1.1v1.1h-1.1zM63.3 121.6h1.1v1.1h-1.1zM70.9 111.7h1.1v1.1h-1.1zM72.2 113.8h1.1v1.1h-1.1zM62.0 120.7h1.1v1.1h-1.1zM64.2 119.0h1.1v1.1h-1.1zM73.8 112.7h1.1v1.1h-1.1zM73.3 111.5h1.1v1.1h-1.1zM67.7 119.5h1.1v1.1h-1.1zM73.6 111.3h1.1v1.1h-1.1zM74.9 113.7h1.1v1.1h-1.1zM60.4 123.3h1.1v1.1h-1.1zM69.4 117.9h1.1v1.1h-1.1zM72.4 112.6h1.1v1.1h-1.1zM66.6 117.3h1.1v1.1h-1.1zM57.7 124.0h1.1v1.1h-1.1zM69.3 117.4h1.1v1.1h-1.1zM76.0 112.6h1.1v1.1h-1.1zM82.0 109.0h1.1v1.1h-1.1zM58.9 126.0h1.1v1.1h-1.1zM87.3 101.9h1.1v1.1h-1.1zM63.8 120.2h1.1v1.1h-1.1zM76.8 110.9h1.1v1.1h-1.1zM78.2 109.0h1.1v1.1h-1.1zM77.9 111.9h1.1v1.1h-1.1zM72.2 115.9h1.1v1.1h-1.1zM63.1 119.6h1.1v1.1h-1.1zM73.6 111.3h1.1v1.1h-1.1zM67.7 120.3h1.1v1.1h-1.1zM56.5 126.8h1.1v1.1h-1.1zM88.6 100.6h1.1v1.1h-1.1zM76.0 113.2h1.1v1.1h-1.1zM81.8 105.7h1.1v1.1h-1.1zM64.9 119.1h1.1v1.1h-1.1zM79.5 107.4h1.1v1.1h-1.1zM79.2 105.5h1.1v1.1h-1.1zM81.0 108.1h1.1v1.1h-1.1zM68.8 113.9h1.1v1.1h-1.1zM63.1 120.1h1.1v1.1h-1.1zM68.5 115.2h1.1v1.1h-1.1zM58.5 125.7h1.1v1.1h-1.1zM60.8 122.9h1.1v1.1h-1.1zM70.9 115.0h1.1v1.1h-1.1zM63.2 117.8h1.1v1.1h-1.1zM69.2 116.0h1.1v1.1h-1.1zM68.1 113.9h1.1v1.1h-1.1zM83.0 105.6h1.1v1.1h-1.1zM79.0 109.0h1.1v1.1h-1.1zM70.0 115.6h1.1v1.1h-1.1zM79.8 111.2h1.1v1.1h-1.1zM66.5 119.5h1.1v1.1h-1.1zM69.0 117.7h1.1v1.1h-1.1zM76.3 110.8h1.1v1.1h-1.1zM63.2 120.7h1.1v1.1h-1.1zM69.7 117.9h1.1v1.1h-1.1zM63.9 122.4h1.1v1.1h-1.1zM69.6 113.1h1.1v1.1h-1.1zM81.6 107.8h1.1v1.1h-1.1zM66.6 119.4h1.1v1.1h-1.1zM72.7 115.5h1.1v1.1h-1.1zM65.7 119.9h1.1v1.1h-1.1zM62.8 119.1h1.1v1.1h-1.1zM62.4 119.6h1.1v1.1h-1.1zM81.0 109.5h1.1v1.1h-1.1zM85.7 103.3h1.1v1.1h-1.1zM71.9 111.1h1.1v1.1h-1.1zM66.6 119.0h1.1v1.1h-1.1zM74.5 111.3h1.1v1.1h-1.1zM66.5 114.5h1.1v1.1h-1.1zM73.3 108.5h1.1v1.1h-1.1zM70.5 111.8h1.1v1.1h-1.1zM72.4 114.3h1.1v1.1h-1.1zM74.1 112.2h1.1v1.1h-1.1zM66.8 117.7h1.1v1.1h-1.1zM68.3 117.6h1.1v1.1h-1.1zM61.2 123.6h1.1v1.1h-1.1zM65.6 114.6h1.1v1.1h-1.1zM62.1 121.4h1.1v1.1h-1.1zM68.6 115.0h1.1v1.1h-1.1zM63.8 118.2h1.1v1.1h-1.1zM70.3 114.2h1.1v1.1h-1.1zM73.1 112.9h1.1v1.1h-1.1zM62.2 121.4h1.1v1.1h-1.1zM64.3 117.2h1.1v1.1h-1.1zM64.6 119.0h1.1v1.1h-1.1zM77.0 113.9h1.1v1.1h-1.1zM80.7 105.7h1.1v1.1h-1.1zM74.2 109.0h1.1v1.1h-1.1zM68.6 117.3h1.1v1.1h-1.1zM80.2 108.3h1.1v1.1h-1.1zM62.2 122.6h1.1v1.1h-1.1zM79.2 106.6h1.1v1.1h-1.1zM67.6 119.6h1.1v1.1h-1.1zM54.5 127.3h1.1v1.1h-1.1zM87.0 101.1h1.1v1.1h-1.1zM80.1 106.7h1.1v1.1h-1.1zM64.4 119.8h1.1v1.1h-1.1zM72.1 115.5h1.1v1.1h-1.1zM69.7 117.2h1.1v1.1h-1.1zM70.9 114.8h1.1v1.1h-1.1zM62.8 122.9h1.1v1.1h-1.1zM66.6 118.5h1.1v1.1h-1.1zM74.2 114.1h1.1v1.1h-1.1zM70.2 112.4h1.1v1.1h-1.1zM76.8 107.6h1.1v1.1h-1.1zM71.6 116.0h1.1v1.1h-1.1zM84.9 102.4h1.1v1.1h-1.1zM66.0 118.2h1.1v1.1h-1.1zM71.8 113.9h1.1v1.1h-1.1zM59.3 123.5h1.1v1.1h-1.1zM62.9 120.5h1.1v1.1h-1.1zM80.0 109.8h1.1v1.1h-1.1zM62.7 116.6h1.1v1.1h-1.1zM74.6 113.8h1.1v1.1h-1.1zM72.3 118.7h1.1v1.1h-1.1zM64.5 120.1h1.1v1.1h-1.1zM68.3 116.9h1.1v1.1h-1.1zM68.2 118.6h1.1v1.1h-1.1zM69.4 119.9h1.1v1.1h-1.1zM74.0 110.1h1.1v1.1h-1.1zM74.6 112.1h1.1v1.1h-1.1zM66.9 117.7h1.1v1.1h-1.1zM65.8 120.1h1.1v1.1h-1.1zM72.3 114.2h1.1v1.1h-1.1zM70.4 116.7h1.1v1.1h-1.1zM76.6 109.6h1.1v1.1h-1.1zM87.5 101.6h1.1v1.1h-1.1zM75.1 110.2h1.1v1.1h-1.1zM69.4 114.7h1.1v1.1h-1.1zM69.1 116.0h1.1v1.1h-1.1zM65.4 119.0h1.1v1.1h-1.1zM64.1 118.0h1.1v1.1h-1.1zM66.2 121.7h1.1v1.1h-1.1zM67.9 117.0h1.1v1.1h-1.1zM66.5 115.5h1.1v1.1h-1.1zM76.1 112.9h1.1v1.1h-1.1zM67.3 116.2h1.1v1.1h-1.1zM69.7 117.0h1.1v1.1h-1.1zM63.5 120.8h1.1v1.1h-1.1zM81.1 107.1h1.1v1.1h-1.1zM73.7 113.0h1.1v1.1h-1.1zM81.5 105.7h1.1v1.1h-1.1zM75.5 111.3h1.1v1.1h-1.1zM81.4 109.5h1.1v1.1h-1.1zM66.5 113.6h1.1v1.1h-1.1zM75.0 111.8h1.1v1.1h-1.1zM88.0 101.5h1.1v1.1h-1.1zM62.6 119.7h1.1v1.1h-1.1zM76.8 107.9h1.1v1.1h-1.1zM82.7 108.3h1.1v1.1h-1.1zM72.6 112.7h1.1v1.1h-1.1zM77.2 113.9h1.1v1.1h-1.1zM79.0 109.3h1.1v1.1h-1.1zM66.6 118.5h1.1v1.1h-1.1zM73.5 113.9h1.1v1.1h-1.1zM65.9 120.1h1.1v1.1h-1.1zM67.6 119.9h1.1v1.1h-1.1zM67.2 118.7h1.1v1.1h-1.1zM69.6 116.2h1.1v1.1h-1.1zM71.4 114.9h1.1v1.1h-1.1zM74.6 114.7h1.1v1.1h-1.1zM62.9 122.6h1.1v1.1h-1.1zM82.9 104.2h1.1v1.1h-1.1zM77.4 108.6h1.1v1.1h-1.1zM75.4 111.9h1.1v1.1h-1.1zM67.6 116.2h1.1v1.1h-1.1zM69.3 115.3h1.1v1.1h-1.1zM72.9 111.3h1.1v1.1h-1.1zM72.7 112.9h1.1v1.1h-1.1zM61.0 123.4h1.1v1.1h-1.1zM76.1 112.6h1.1v1.1h-1.1zM89.7 99.9h1.1v1.1h-1.1zM61.2 125.5h1.1v1.1h-1.1zM76.8 110.0h1.1v1.1h-1.1zM76.0 117.6h1.1v1.1h-1.1zM70.7 117.2h1.1v1.1h-1.1zM79.8 108.6h1.1v1.1h-1.1zM63.1 120.2h1.1v1.1h-1.1zM68.4 110.8h1.1v1.1h-1.1zM79.9 107.5h1.1v1.1h-1.1zM69.3 116.5h1.1v1.1h-1.1zM69.9 119.8h1.1v1.1h-1.1zM69.6 113.0h1.1v1.1h-1.1zM69.7 119.9h1.1v1.1h-1.1zM80.4 106.9h1.1v1.1h-1.1zM65.8 120.4h1.1v1.1h-1.1zM73.8 107.8h1.1v1.1h-1.1zM63.3 121.2h1.1v1.1h-1.1zM62.4 122.1h1.1v1.1h-1.1zM91.7 96.5h1.1v1.1h-1.1zM98.5 93.2h1.1v1.1h-1.1zM91.2 99.5h1.1v1.1h-1.1zM59.1 123.9h1.1v1.1h-1.1zM88.8 98.6h1.1v1.1h-1.1zM58.9 124.9h1.1v1.1h-1.1zM54.9 126.8h1.1v1.1h-1.1zM73.4 112.5h1.1v1.1h-1.1zM50.6 129.9h1.1v1.1h-1.1zM54.2 128.1h1.1v1.1h-1.1zM56.8 124.3h1.1v1.1h-1.1zM66.8 117.5h1.1v1.1h-1.1zM82.0 106.5h1.1v1.1h-1.1zM87.8 100.7h1.1v1.1h-1.1zM67.0 117.3h1.1v1.1h-1.1zM64.1 121.4h1.1v1.1h-1.1zM89.8 102.2h1.1v1.1h-1.1zM91.3 98.0h1.1v1.1h-1.1zM82.4 105.0h1.1v1.1h-1.1zM59.8 122.3h1.1v1.1h-1.1zM94.1 96.4h1.1v1.1h-1.1zM93.8 97.3h1.1v1.1h-1.1zM88.7 100.6h1.1v1.1h-1.1zM86.3 101.7h1.1v1.1h-1.1zM81.3 106.8h1.1v1.1h-1.1zM96.6 94.0h1.1v1.1h-1.1zM56.3 125.8h1.1v1.1h-1.1zM88.9 99.0h1.1v1.1h-1.1zM76.8 110.3h1.1v1.1h-1.1zM79.2 107.9h1.1v1.1h-1.1zM85.1 104.6h1.1v1.1h-1.1zM75.6 110.0h1.1v1.1h-1.1zM48.9 132.2h1.1v1.1h-1.1zM66.5 118.6h1.1v1.1h-1.1zM59.8 122.8h1.1v1.1h-1.1zM96.2 94.0h1.1v1.1h-1.1zM80.4 106.6h1.1v1.1h-1.1zM82.1 106.0h1.1v1.1h-1.1zM49.2 133.7h1.1v1.1h-1.1zM56.6 126.5h1.1v1.1h-1.1zM72.9 111.2h1.1v1.1h-1.1zM85.6 101.8h1.1v1.1h-1.1zM95.5 94.8h1.1v1.1h-1.1zM90.9 99.4h1.1v1.1h-1.1zM51.9 129.9h1.1v1.1h-1.1zM80.6 107.5h1.1v1.1h-1.1zM69.9 114.5h1.1v1.1h-1.1zM58.6 127.3h1.1v1.1h-1.1zM60.8 122.2h1.1v1.1h-1.1zM56.4 124.4h1.1v1.1h-1.1zM91.3 98.2h1.1v1.1h-1.1zM87.9 103.0h1.1v1.1h-1.1zM71.0 113.3h1.1v1.1h-1.1zM90.1 99.8h1.1v1.1h-1.1zM93.8 96.7h1.1v1.1h-1.1zM49.4 133.5h1.1v1.1h-1.1zM63.5 120.8h1.1v1.1h-1.1zM72.7 114.1h1.1v1.1h-1.1zM93.8 96.5h1.1v1.1h-1.1zM65.8 119.1h1.1v1.1h-1.1zM80.5 105.8h1.1v1.1h-1.1zM67.7 115.9h1.1v1.1h-1.1zM48.7 132.6h1.1v1.1h-1.1zM85.0 103.3h1.1v1.1h-1.1zM75.3 111.1h1.1v1.1h-1.1zM90.0 100.7h1.1v1.1h-1.1zM62.9 119.5h1.1v1.1h-1.1zM78.6 108.3h1.1v1.1h-1.1zM73.4 113.8h1.1v1.1h-1.1zM63.6 118.9h1.1v1.1h-1.1zM96.6 92.9h1.1v1.1h-1.1zM88.6 98.3h1.1v1.1h-1.1zM68.3 117.3h1.1v1.1h-1.1zM92.7 97.6h1.1v1.1h-1.1zM58.4 122.8h1.1v1.1h-1.1zM69.9 116.6h1.1v1.1h-1.1zM72.3 112.9h1.1v1.1h-1.1zM63.6 120.0h1.1v1.1h-1.1zM66.6 118.5h1.1v1.1h-1.1zM90.9 99.4h1.1v1.1h-1.1zM84.8 102.3h1.1v1.1h-1.1zM84.8 103.7h1.1v1.1h-1.1zM55.0 127.2h1.1v1.1h-1.1zM96.3 95.8h1.1v1.1h-1.1zM80.1 106.3h1.1v1.1h-1.1zM57.8 126.6h1.1v1.1h-1.1zM88.3 98.6h1.1v1.1h-1.1zM54.3 128.5h1.1v1.1h-1.1zM80.4 108.7h1.1v1.1h-1.1zM96.8 94.5h1.1v1.1h-1.1zM94.8 96.9h1.1v1.1h-1.1zM86.6 103.1h1.1v1.1h-1.1zM49.2 130.2h1.1v1.1h-1.1zM57.3 124.7h1.1v1.1h-1.1zM60.6 124.1h1.1v1.1h-1.1zM65.0 119.5h1.1v1.1h-1.1zM82.1 105.4h1.1v1.1h-1.1zM92.7 98.7h1.1v1.1h-1.1zM83.0 105.4h1.1v1.1h-1.1zM52.0 127.3h1.1v1.1h-1.1zM93.0 95.6h1.1v1.1h-1.1zM74.1 112.0h1.1v1.1h-1.1zM84.5 103.1h1.1v1.1h-1.1zM65.9 117.4h1.1v1.1h-1.1zM66.6 117.7h1.1v1.1h-1.1zM88.0 100.3h1.1v1.1h-1.1zM90.9 100.5h1.1v1.1h-1.1zM97.7 93.0h1.1v1.1h-1.1zM67.1 117.5h1.1v1.1h-1.1zM49.3 131.3h1.1v1.1h-1.1zM71.2 113.7h1.1v1.1h-1.1zM92.6 97.1h1.1v1.1h-1.1zM74.0 111.8h1.1v1.1h-1.1zM53.0 128.8h1.1v1.1h-1.1zM74.4 111.6h1.1v1.1h-1.1zM91.0 97.5h1.1v1.1h-1.1zM91.0 98.6h1.1v1.1h-1.1zM74.6 110.3h1.1v1.1h-1.1zM55.8 127.2h1.1v1.1h-1.1zM97.1 95.5h1.1v1.1h-1.1zM48.3 132.4h1.1v1.1h-1.1zM81.8 105.8h1.1v1.1h-1.1zM59.6 126.1h1.1v1.1h-1.1zM88.7 100.2h1.1v1.1h-1.1zM50.9 129.2h1.1v1.1h-1.1zM80.7 107.1h1.1v1.1h-1.1zM85.1 102.1h1.1v1.1h-1.1zM48.8 133.0h1.1v1.1h-1.1zM91.6 96.6h1.1v1.1h-1.1zM86.7 101.9h1.1v1.1h-1.1zM60.8 122.9h1.1v1.1h-1.1zM69.9 116.6h1.1v1.1h-1.1zM83.4 105.0h1.1v1.1h-1.1zM82.3 104.1h1.1v1.1h-1.1zM73.8 112.4h1.1v1.1h-1.1zM68.1 116.8h1.1v1.1h-1.1zM94.6 97.3h1.1v1.1h-1.1zM83.9 103.6h1.1v1.1h-1.1zM50.4 130.6h1.1v1.1h-1.1zM95.6 95.2h1.1v1.1h-1.1zM79.6 107.3h1.1v1.1h-1.1zM67.4 116.2h1.1v1.1h-1.1zM65.9 117.7h1.1v1.1h-1.1zM94.0 96.2h1.1v1.1h-1.1zM82.6 105.1h1.1v1.1h-1.1zM56.5 125.0h1.1v1.1h-1.1zM72.2 113.2h1.1v1.1h-1.1zM86.6 102.0h1.1v1.1h-1.1zM49.9 128.9h1.1v1.1h-1.1zM75.2 109.3h1.1v1.1h-1.1zM64.8 117.1h1.1v1.1h-1.1zM75.2 109.2h1.1v1.1h-1.1zM60.8 122.8h1.1v1.1h-1.1zM59.0 124.1h1.1v1.1h-1.1zM77.1 107.4h1.1v1.1h-1.1zM63.3 121.4h1.1v1.1h-1.1zM56.2 127.3h1.1v1.1h-1.1zM86.8 101.8h1.1v1.1h-1.1zM75.2 111.4h1.1v1.1h-1.1zM53.8 128.6h1.1v1.1h-1.1zM61.5 121.3h1.1v1.1h-1.1zM98.4 94.2h1.1v1.1h-1.1zM64.9 118.2h1.1v1.1h-1.1zM68.3 116.1h1.1v1.1h-1.1zM90.2 96.3h1.1v1.1h-1.1zM69.3 116.6h1.1v1.1h-1.1zM96.4 93.4h1.1v1.1h-1.1zM69.7 117.3h1.1v1.1h-1.1zM89.8 97.6h1.1v1.1h-1.1zM97.6 94.9h1.1v1.1h-1.1zM79.9 104.7h1.1v1.1h-1.1zM58.9 123.9h1.1v1.1h-1.1zM95.3 94.9h1.1v1.1h-1.1zM93.6 95.8h1.1v1.1h-1.1zM65.5 120.4h1.1v1.1h-1.1zM97.1 92.4h1.1v1.1h-1.1zM91.1 97.9h1.1v1.1h-1.1zM95.9 94.5h1.1v1.1h-1.1zM61.4 122.0h1.1v1.1h-1.1zM56.1 125.9h1.1v1.1h-1.1zM49.8 131.8h1.1v1.1h-1.1zM77.8 108.7h1.1v1.1h-1.1zM49.6 133.0h1.1v1.1h-1.1zM54.0 127.1h1.1v1.1h-1.1zM49.5 131.5h1.1v1.1h-1.1zM68.6 116.8h1.1v1.1h-1.1zM64.7 120.0h1.1v1.1h-1.1zM65.6 120.3h1.1v1.1h-1.1zM61.6 121.3h1.1v1.1h-1.1zM52.9 129.9h1.1v1.1h-1.1zM69.2 115.7h1.1v1.1h-1.1zM89.2 97.7h1.1v1.1h-1.1zM69.7 116.3h1.1v1.1h-1.1zM89.0 98.5h1.1v1.1h-1.1zM89.4 99.1h1.1v1.1h-1.1zM61.8 122.3h1.1v1.1h-1.1zM87.4 100.6h1.1v1.1h-1.1zM59.1 122.9h1.1v1.1h-1.1zM79.2 108.4h1.1v1.1h-1.1zM92.8 98.0h1.1v1.1h-1.1zM69.8 114.6h1.1v1.1h-1.1zM81.0 105.9h1.1v1.1h-1.1zM82.8 105.3h1.1v1.1h-1.1zM83.3 104.6h1.1v1.1h-1.1zM60.7 122.3h1.1v1.1h-1.1zM95.8 96.5h1.1v1.1h-1.1zM78.3 108.2h1.1v1.1h-1.1zM54.0 127.0h1.1v1.1h-1.1zM67.5 116.7h1.1v1.1h-1.1zM52.9 129.2h1.1v1.1h-1.1zM87.5 100.4h1.1v1.1h-1.1zM63.2 119.6h1.1v1.1h-1.1zM74.5 109.9h1.1v1.1h-1.1zM69.9 117.6h1.1v1.1h-1.1zM68.1 117.3h1.1v1.1h-1.1zM85.9 101.1h1.1v1.1h-1.1zM92.3 97.8h1.1v1.1h-1.1zM58.3 125.0h1.1v1.1h-1.1zM97.2 94.7h1.1v1.1h-1.1zM78.9 107.0h1.1v1.1h-1.1zM98.4 93.7h1.1v1.1h-1.1zM76.6 110.7h1.1v1.1h-1.1zM88.1 99.4h1.1v1.1h-1.1zM67.6 117.2h1.1v1.1h-1.1zM97.3 93.5h1.1v1.1h-1.1zM62.5 121.5h1.1v1.1h-1.1zM87.2 99.0h1.1v1.1h-1.1zM76.8 109.9h1.1v1.1h-1.1zM81.0 105.9h1.1v1.1h-1.1zM77.6 110.0h1.1v1.1h-1.1zM92.4 97.4h1.1v1.1h-1.1zM72.2 112.7h1.1v1.1h-1.1zM82.5 104.0h1.1v1.1h-1.1zM96.2 93.9h1.1v1.1h-1.1zM54.0 128.2h1.1v1.1h-1.1zM89.5 99.4h1.1v1.1h-1.1zM60.8 121.0h1.1v1.1h-1.1zM67.1 119.2h1.1v1.1h-1.1zM87.8 101.8h1.1v1.1h-1.1zM69.2 115.8h1.1v1.1h-1.1zM55.0 127.4h1.1v1.1h-1.1zM77.4 109.8h1.1v1.1h-1.1zM81.7 106.0h1.1v1.1h-1.1zM76.9 109.4h1.1v1.1h-1.1zM96.8 94.9h1.1v1.1h-1.1zM65.4 118.6h1.1v1.1h-1.1zM79.0 107.6h1.1v1.1h-1.1zM70.3 115.0h1.1v1.1h-1.1zM71.0 114.2h1.1v1.1h-1.1zM68.8 116.3h1.1v1.1h-1.1zM64.6 123.1h1.1v1.1h-1.1zM73.6 111.7h1.1v1.1h-1.1zM83.9 104.5h1.1v1.1h-1.1zM81.1 107.2h1.1v1.1h-1.1zM94.3 94.1h1.1v1.1h-1.1zM88.4 100.2h1.1v1.1h-1.1zM67.3 115.7h1.1v1.1h-1.1zM80.6 105.9h1.1v1.1h-1.1zM91.3 96.5h1.1v1.1h-1.1zM73.5 112.6h1.1v1.1h-1.1zM52.0 128.9h1.1v1.1h-1.1zM98.4 93.5h1.1v1.1h-1.1zM53.9 127.7h1.1v1.1h-1.1zM65.2 118.5h1.1v1.1h-1.1zM69.5 114.9h1.1v1.1h-1.1zM73.6 111.3h1.1v1.1h-1.1zM54.2 128.9h1.1v1.1h-1.1zM95.1 93.6h1.1v1.1h-1.1zM96.2 95.5h1.1v1.1h-1.1zM80.1 106.8h1.1v1.1h-1.1zM52.0 128.1h1.1v1.1h-1.1zM70.3 115.0h1.1v1.1h-1.1zM62.7 120.3h1.1v1.1h-1.1zM63.5 119.6h1.1v1.1h-1.1zM64.5 121.0h1.1v1.1h-1.1zM72.8 113.5h1.1v1.1h-1.1zM48.8 129.0h1.1v1.1h-1.1zM69.6 115.2h1.1v1.1h-1.1zM48.5 132.1h1.1v1.1h-1.1zM52.9 128.3h1.1v1.1h-1.1zM69.6 117.1h1.1v1.1h-1.1zM82.5 104.2h1.1v1.1h-1.1zM65.8 117.5h1.1v1.1h-1.1zM70.9 114.5h1.1v1.1h-1.1zM53.0 130.0h1.1v1.1h-1.1zM71.3 112.5h1.1v1.1h-1.1zM83.0 104.5h1.1v1.1h-1.1zM83.7 103.8h1.1v1.1h-1.1zM72.4 113.8h1.1v1.1h-1.1zM59.6 126.0h1.1v1.1h-1.1zM77.5 110.0h1.1v1.1h-1.1zM86.7 101.2h1.1v1.1h-1.1zM55.7 125.7h1.1v1.1h-1.1zM47.5 130.3h1.1v1.1h-1.1zM61.4 122.0h1.1v1.1h-1.1zM73.4 113.4h1.1v1.1h-1.1zM70.4 115.5h1.1v1.1h-1.1zM95.4 94.2h1.1v1.1h-1.1zM60.9 124.1h1.1v1.1h-1.1zM68.1 115.4h1.1v1.1h-1.1zM74.0 113.1h1.1v1.1h-1.1zM93.9 96.5h1.1v1.1h-1.1zM88.9 99.4h1.1v1.1h-1.1zM93.0 97.9h1.1v1.1h-1.1zM56.3 124.8h1.1v1.1h-1.1zM60.1 122.1h1.1v1.1h-1.1zM83.1 105.0h1.1v1.1h-1.1zM82.6 107.2h1.1v1.1h-1.1zM51.7 130.8h1.1v1.1h-1.1zM57.6 124.3h1.1v1.1h-1.1zM70.3 116.7h1.1v1.1h-1.1zM59.7 126.2h1.1v1.1h-1.1zM68.5 116.7h1.1v1.1h-1.1zM71.6 113.9h1.1v1.1h-1.1zM85.6 101.5h1.1v1.1h-1.1zM65.5 117.5h1.1v1.1h-1.1zM62.1 119.9h1.1v1.1h-1.1zM65.7 117.4h1.1v1.1h-1.1zM71.0 112.6h1.1v1.1h-1.1zM91.5 97.6h1.1v1.1h-1.1zM52.6 128.2h1.1v1.1h-1.1zM60.7 122.1h1.1v1.1h-1.1zM72.5 113.6h1.1v1.1h-1.1zM55.2 125.8h1.1v1.1h-1.1zM69.3 114.9h1.1v1.1h-1.1zM71.8 113.8h1.1v1.1h-1.1zM70.9 117.2h1.1v1.1h-1.1zM65.8 119.4h1.1v1.1h-1.1zM59.5 121.4h1.1v1.1h-1.1zM64.9 121.1h1.1v1.1h-1.1zM99.1 93.2h1.1v1.1h-1.1zM66.0 117.2h1.1v1.1h-1.1zM97.7 84.4h1.1v1.1h-1.1zM86.8 98.8h1.1v1.1h-1.1zM68.0 117.6h1.1v1.1h-1.1zM82.8 110.5h1.1v1.1h-1.1zM66.5 120.7h1.1v1.1h-1.1zM106.9 84.4h1.1v1.1h-1.1zM46.5 132.7h1.1v1.1h-1.1zM105.6 88.1h1.1v1.1h-1.1zM85.1 104.3h1.1v1.1h-1.1zM78.9 112.2h1.1v1.1h-1.1zM86.3 93.4h1.1v1.1h-1.1zM86.0 102.3h1.1v1.1h-1.1zM46.5 133.0h1.1v1.1h-1.1zM60.1 121.0h1.1v1.1h-1.1zM54.9 125.8h1.1v1.1h-1.1zM71.2 111.9h1.1v1.1h-1.1zM75.3 108.3h1.1v1.1h-1.1zM89.7 94.1h1.1v1.1h-1.1zM81.2 104.0h1.1v1.1h-1.1zM72.7 114.3h1.1v1.1h-1.1zM82.6 108.5h1.1v1.1h-1.1zM78.1 108.2h1.1v1.1h-1.1zM99.6 96.9h1.1v1.1h-1.1zM86.3 106.6h1.1v1.1h-1.1zM60.2 116.5h1.1v1.1h-1.1zM63.9 120.4h1.1v1.1h-1.1zM59.1 124.1h1.1v1.1h-1.1zM87.2 103.1h1.1v1.1h-1.1zM54.8 130.8h1.1v1.1h-1.1zM96.1 92.8h1.1v1.1h-1.1zM73.2 115.6h1.1v1.1h-1.1zM96.4 88.1h1.1v1.1h-1.1zM76.4 111.9h1.1v1.1h-1.1zM76.6 106.0h1.1v1.1h-1.1zM80.2 103.0h1.1v1.1h-1.1zM101.9 92.3h1.1v1.1h-1.1zM45.8 132.3h1.1v1.1h-1.1zM105.5 88.6h1.1v1.1h-1.1zM43.1 136.3h1.1v1.1h-1.1zM80.7 107.3h1.1v1.1h-1.1zM79.6 106.1h1.1v1.1h-1.1zM42.5 131.7h1.1v1.1h-1.1zM94.0 100.0h1.1v1.1h-1.1zM78.7 87.2h1.1v1.1h-1.1zM99.5 85.0h1.1v1.1h-1.1zM47.9 136.6h1.1v1.1h-1.1z" fill="#000"/>
<g stroke="#222" stroke-width="1" fill="none">
<path d="M35 56V152.3H130.5" stroke-width="1.5" stroke="#4a4a4a"/>
<path d="M35 152.4h-2.5M35 144.7h-1.3M35 137.0h-1.3M35 129.3h-1.3M35 121.6h-1.3M35 113.9h-2.5M35 106.2h-1.3M35 98.5h-1.3M35 90.8h-1.3M35 83.1h-1.3M35 75.4h-2.5M35 67.7h-1.3M35 60.0h-1.3M35.0 152.4v2.5M42.7 152.4v1.3M50.3 152.4v1.3M58.0 152.4v1.3M65.6 152.4v1.3M73.3 152.4v2.5M81.0 152.4v1.3M88.6 152.4v1.3M96.3 152.4v1.3M103.9 152.4v1.3M111.6 152.4v2.5M119.3 152.4v1.3M126.9 152.4v1.3" stroke-width="0.8"/>
</g>
<path d="M73.3 56V152M35 113.7H130.5" stroke="#666" stroke-width="0.8" stroke-dasharray="0.8 1.6" fill="none"/>
<path d="M41.8 138.8L130.6 67.6" stroke="#111" stroke-width="0.9"/>
<text x="27.50" y="78.20" font-size="7.2" fill="#333" text-anchor="middle"  stroke="#333" stroke-width="0.12">5</text>
<text x="27.50" y="116.40" font-size="7.2" fill="#333" text-anchor="middle"  stroke="#333" stroke-width="0.12">0</text>
<text x="24.50" y="155.00" font-size="7.2" fill="#333" text-anchor="middle"  stroke="#333" stroke-width="0.12">−5</text>
<text x="35.40" y="164.00" font-size="7.2" fill="#333" text-anchor="middle"  stroke="#333" stroke-width="0.12">−5</text>
<text x="73.30" y="164.00" font-size="7.2" fill="#333" text-anchor="middle"  stroke="#333" stroke-width="0.12">0</text>
<text x="111.20" y="164.00" font-size="7.2" fill="#333" text-anchor="middle"  stroke="#333" stroke-width="0.12">5</text>
<text x="53.50" y="176.00" font-size="9.3" fill="#333" textLength="58.80" lengthAdjust="spacingAndGlyphs"  stroke="#333" stroke-width="0.12">MEZI 50 nM log<tspan font-size="5.5" dy="2">2</tspan><tspan dy="-2">FC</tspan></text>
<text transform="translate(15.0 137.6) rotate(-90)" font-size="9.3" fill="#333" textLength="68" lengthAdjust="spacingAndGlyphs" stroke="#333" stroke-width="0.12">IBER 1000 nM log<tspan font-size="5.5" dy="2">2</tspan><tspan dy="-2">FC</tspan></text>
<text x="109.30" y="61.40" font-size="7.2" fill="#333" textLength="19.30" lengthAdjust="spacingAndGlyphs"  stroke="#333" stroke-width="0.12">SPARC</text>
<text x="85.20" y="81.80" font-size="7.2" fill="#333" textLength="21.20" lengthAdjust="spacingAndGlyphs"  stroke="#333" stroke-width="0.12">TREM2</text>
<text x="106.60" y="93.40" font-size="7.2" fill="#333" textLength="24.40" lengthAdjust="spacingAndGlyphs"  stroke="#333" stroke-width="0.12">SIGLEC1</text>
<text x="98.00" y="101.40" font-size="7.2" fill="#333" textLength="22.60" lengthAdjust="spacingAndGlyphs"  stroke="#333" stroke-width="0.12">S100A9</text>
<text x="84.70" y="129.40" font-size="7.2" fill="#333" textLength="25.30" lengthAdjust="spacingAndGlyphs"  stroke="#333" stroke-width="0.12"><tspan font-style="italic">r</tspan><tspan font-size="4.8" dy="-3">2</tspan><tspan dy="3"> = 0.91</tspan></text>
<text x="84.70" y="137.60" font-size="7.2" fill="#333" textLength="37.90" lengthAdjust="spacingAndGlyphs"  stroke="#333" stroke-width="0.12">Slope = 0.80</text>
<text x="48.90" y="145.40" font-size="7.2" fill="#333" textLength="22.60" lengthAdjust="spacingAndGlyphs"  stroke="#333" stroke-width="0.12">MMP15</text>
<text x="37.80" y="149.70" font-size="7.2" fill="#333" textLength="14.50" lengthAdjust="spacingAndGlyphs"  stroke="#333" stroke-width="0.12">IGLL1</text>
<path d="M129.6 59.3h1.2M105.7 83.4Q106.4 86 104 86.8L98.5 88.2M102.8 93.6L106 89.6M36.9 144.4L43.6 139.6M44.1 139.6L49.4 142.5" stroke="#444" stroke-width="0.6" fill="none"/>
<text x="225.70" y="30.30" font-size="9.5" fill="#222" textLength="104.60" lengthAdjust="spacingAndGlyphs"  stroke="#222" stroke-width="0.12">MOLM-13 RNA-seq, Day 3</text>
<text x="224.30" y="44.60" font-size="8" fill="#222" textLength="72.20" lengthAdjust="spacingAndGlyphs"  stroke="#222" stroke-width="0.12">Iberdomide 1000 nM</text>
<path d="M244.8 150.4h1.1v1.1h-1.1zM231.6 147.5h1.1v1.1h-1.1zM232.9 142.5h1.1v1.1h-1.1zM240.0 149.5h1.1v1.1h-1.1zM242.2 150.2h1.1v1.1h-1.1zM239.9 149.1h1.1v1.1h-1.1zM239.5 149.8h1.1v1.1h-1.1zM244.6 150.4h1.1v1.1h-1.1zM237.7 148.7h1.1v1.1h-1.1zM226.7 145.9h1.1v1.1h-1.1zM229.5 147.8h1.1v1.1h-1.1zM244.2 150.4h1.1v1.1h-1.1zM238.3 149.5h1.1v1.1h-1.1zM243.8 150.2h1.1v1.1h-1.1zM241.4 150.0h1.1v1.1h-1.1zM240.5 149.8h1.1v1.1h-1.1zM236.9 145.7h1.1v1.1h-1.1zM243.1 150.2h1.1v1.1h-1.1zM243.6 150.0h1.1v1.1h-1.1zM238.3 147.9h1.1v1.1h-1.1zM236.4 148.8h1.1v1.1h-1.1zM230.0 148.6h1.1v1.1h-1.1zM241.2 149.6h1.1v1.1h-1.1zM238.4 148.6h1.1v1.1h-1.1zM225.9 142.1h1.1v1.1h-1.1zM237.0 148.7h1.1v1.1h-1.1zM240.5 149.0h1.1v1.1h-1.1zM233.2 144.9h1.1v1.1h-1.1zM230.2 148.3h1.1v1.1h-1.1zM244.8 150.4h1.1v1.1h-1.1zM236.2 148.4h1.1v1.1h-1.1zM242.8 150.2h1.1v1.1h-1.1zM237.7 149.2h1.1v1.1h-1.1zM241.3 148.8h1.1v1.1h-1.1zM238.0 148.1h1.1v1.1h-1.1zM242.1 150.3h1.1v1.1h-1.1zM239.7 149.4h1.1v1.1h-1.1zM234.7 148.3h1.1v1.1h-1.1zM243.1 150.2h1.1v1.1h-1.1zM237.0 149.2h1.1v1.1h-1.1zM241.7 150.2h1.1v1.1h-1.1zM242.7 149.9h1.1v1.1h-1.1zM234.2 148.9h1.1v1.1h-1.1zM232.3 147.9h1.1v1.1h-1.1zM238.5 149.5h1.1v1.1h-1.1zM236.8 149.2h1.1v1.1h-1.1zM227.8 143.9h1.1v1.1h-1.1zM243.9 150.3h1.1v1.1h-1.1zM239.9 149.8h1.1v1.1h-1.1zM237.8 149.5h1.1v1.1h-1.1zM231.3 147.8h1.1v1.1h-1.1zM236.9 147.7h1.1v1.1h-1.1zM238.9 149.2h1.1v1.1h-1.1zM241.1 149.7h1.1v1.1h-1.1zM235.6 148.7h1.1v1.1h-1.1zM231.8 147.6h1.1v1.1h-1.1zM239.0 149.2h1.1v1.1h-1.1zM239.1 150.0h1.1v1.1h-1.1zM227.5 140.1h1.1v1.1h-1.1zM241.7 150.1h1.1v1.1h-1.1zM242.6 150.2h1.1v1.1h-1.1zM237.3 147.3h1.1v1.1h-1.1zM240.8 149.6h1.1v1.1h-1.1zM245.0 150.4h1.1v1.1h-1.1zM241.7 150.0h1.1v1.1h-1.1zM236.4 149.6h1.1v1.1h-1.1zM239.2 149.2h1.1v1.1h-1.1zM244.1 150.2h1.1v1.1h-1.1zM240.2 149.9h1.1v1.1h-1.1zM239.9 148.6h1.1v1.1h-1.1zM234.3 149.1h1.1v1.1h-1.1zM239.1 149.7h1.1v1.1h-1.1zM243.4 150.2h1.1v1.1h-1.1zM238.8 149.2h1.1v1.1h-1.1zM232.6 146.3h1.1v1.1h-1.1zM227.2 147.2h1.1v1.1h-1.1zM229.4 148.1h1.1v1.1h-1.1zM236.3 149.7h1.1v1.1h-1.1zM240.5 150.0h1.1v1.1h-1.1zM244.2 150.4h1.1v1.1h-1.1zM235.1 149.4h1.1v1.1h-1.1zM232.6 147.0h1.1v1.1h-1.1zM232.5 148.3h1.1v1.1h-1.1zM239.5 150.1h1.1v1.1h-1.1zM232.1 139.7h1.1v1.1h-1.1zM229.2 147.8h1.1v1.1h-1.1zM242.1 150.2h1.1v1.1h-1.1zM232.1 144.7h1.1v1.1h-1.1zM242.7 149.8h1.1v1.1h-1.1zM230.0 148.3h1.1v1.1h-1.1zM224.9 147.8h1.1v1.1h-1.1zM227.4 147.6h1.1v1.1h-1.1zM239.4 148.6h1.1v1.1h-1.1zM238.1 149.3h1.1v1.1h-1.1zM229.4 147.8h1.1v1.1h-1.1zM240.9 149.7h1.1v1.1h-1.1zM237.7 147.7h1.1v1.1h-1.1zM242.2 150.2h1.1v1.1h-1.1zM245.0 150.4h1.1v1.1h-1.1zM243.1 150.3h1.1v1.1h-1.1zM237.8 146.1h1.1v1.1h-1.1zM241.3 148.9h1.1v1.1h-1.1zM242.1 149.7h1.1v1.1h-1.1zM244.2 150.4h1.1v1.1h-1.1zM242.9 150.0h1.1v1.1h-1.1zM232.3 149.4h1.1v1.1h-1.1zM240.3 149.5h1.1v1.1h-1.1zM233.1 149.0h1.1v1.1h-1.1zM243.2 150.3h1.1v1.1h-1.1zM230.8 148.0h1.1v1.1h-1.1zM231.8 147.8h1.1v1.1h-1.1zM239.8 149.2h1.1v1.1h-1.1zM224.1 142.2h1.1v1.1h-1.1zM244.5 150.4h1.1v1.1h-1.1zM240.5 149.9h1.1v1.1h-1.1zM230.7 145.5h1.1v1.1h-1.1zM231.9 147.5h1.1v1.1h-1.1zM219.5 136.9h1.1v1.1h-1.1zM236.9 149.4h1.1v1.1h-1.1zM238.7 150.1h1.1v1.1h-1.1zM239.2 149.6h1.1v1.1h-1.1zM236.8 145.4h1.1v1.1h-1.1zM242.4 149.9h1.1v1.1h-1.1zM241.7 149.9h1.1v1.1h-1.1zM243.2 150.1h1.1v1.1h-1.1zM234.2 147.3h1.1v1.1h-1.1zM244.9 150.4h1.1v1.1h-1.1zM236.0 148.9h1.1v1.1h-1.1zM241.0 149.7h1.1v1.1h-1.1zM241.9 149.9h1.1v1.1h-1.1zM223.8 146.2h1.1v1.1h-1.1zM230.7 148.4h1.1v1.1h-1.1zM237.2 148.7h1.1v1.1h-1.1zM239.2 148.7h1.1v1.1h-1.1zM239.4 149.0h1.1v1.1h-1.1zM239.7 149.2h1.1v1.1h-1.1zM231.9 146.4h1.1v1.1h-1.1zM237.0 144.4h1.1v1.1h-1.1zM235.0 147.9h1.1v1.1h-1.1zM244.0 150.2h1.1v1.1h-1.1zM238.2 146.8h1.1v1.1h-1.1zM237.8 148.9h1.1v1.1h-1.1zM240.3 149.5h1.1v1.1h-1.1zM233.9 146.1h1.1v1.1h-1.1zM239.7 148.1h1.1v1.1h-1.1zM244.2 150.3h1.1v1.1h-1.1zM242.6 150.0h1.1v1.1h-1.1zM241.8 149.9h1.1v1.1h-1.1zM225.9 147.6h1.1v1.1h-1.1zM244.4 150.3h1.1v1.1h-1.1zM242.9 150.2h1.1v1.1h-1.1zM234.3 149.4h1.1v1.1h-1.1zM239.4 149.4h1.1v1.1h-1.1zM238.7 149.9h1.1v1.1h-1.1zM237.9 149.6h1.1v1.1h-1.1zM225.0 145.0h1.1v1.1h-1.1zM237.6 149.5h1.1v1.1h-1.1zM226.8 142.2h1.1v1.1h-1.1zM223.9 147.6h1.1v1.1h-1.1zM237.0 148.5h1.1v1.1h-1.1zM241.3 149.6h1.1v1.1h-1.1zM240.6 148.8h1.1v1.1h-1.1zM239.6 148.8h1.1v1.1h-1.1zM239.7 149.3h1.1v1.1h-1.1zM243.1 150.2h1.1v1.1h-1.1zM243.4 150.2h1.1v1.1h-1.1zM230.1 143.8h1.1v1.1h-1.1zM243.5 150.3h1.1v1.1h-1.1zM237.7 148.5h1.1v1.1h-1.1zM243.9 150.3h1.1v1.1h-1.1zM240.5 149.5h1.1v1.1h-1.1zM239.0 149.4h1.1v1.1h-1.1zM237.0 145.5h1.1v1.1h-1.1zM242.1 150.1h1.1v1.1h-1.1zM242.0 149.9h1.1v1.1h-1.1zM244.2 150.3h1.1v1.1h-1.1zM240.7 149.4h1.1v1.1h-1.1zM243.5 150.2h1.1v1.1h-1.1zM240.2 149.4h1.1v1.1h-1.1zM241.3 149.4h1.1v1.1h-1.1zM245.0 150.4h1.1v1.1h-1.1zM239.3 149.4h1.1v1.1h-1.1zM231.9 148.7h1.1v1.1h-1.1zM236.3 148.3h1.1v1.1h-1.1zM237.5 149.6h1.1v1.1h-1.1zM237.8 149.5h1.1v1.1h-1.1zM243.2 150.2h1.1v1.1h-1.1zM239.5 148.3h1.1v1.1h-1.1zM242.2 149.9h1.1v1.1h-1.1zM239.4 149.2h1.1v1.1h-1.1zM234.5 145.6h1.1v1.1h-1.1zM236.7 149.3h1.1v1.1h-1.1zM232.0 149.3h1.1v1.1h-1.1zM244.7 150.4h1.1v1.1h-1.1zM233.5 148.1h1.1v1.1h-1.1zM245.1 150.4h1.1v1.1h-1.1zM229.6 139.0h1.1v1.1h-1.1zM227.3 148.0h1.1v1.1h-1.1zM229.9 137.3h1.1v1.1h-1.1zM240.4 148.6h1.1v1.1h-1.1zM239.7 148.9h1.1v1.1h-1.1zM230.6 146.1h1.1v1.1h-1.1zM242.1 148.9h1.1v1.1h-1.1zM235.2 148.2h1.1v1.1h-1.1zM240.5 149.8h1.1v1.1h-1.1zM242.5 150.0h1.1v1.1h-1.1zM235.7 149.4h1.1v1.1h-1.1zM243.5 150.2h1.1v1.1h-1.1zM241.8 149.9h1.1v1.1h-1.1zM243.9 150.3h1.1v1.1h-1.1zM238.8 149.0h1.1v1.1h-1.1zM235.7 149.2h1.1v1.1h-1.1zM237.2 147.3h1.1v1.1h-1.1zM240.1 149.9h1.1v1.1h-1.1zM234.2 146.6h1.1v1.1h-1.1zM241.5 150.2h1.1v1.1h-1.1zM228.2 145.2h1.1v1.1h-1.1zM235.5 149.1h1.1v1.1h-1.1zM240.0 149.5h1.1v1.1h-1.1zM238.2 149.4h1.1v1.1h-1.1zM240.6 150.2h1.1v1.1h-1.1zM243.9 150.4h1.1v1.1h-1.1zM244.3 150.4h1.1v1.1h-1.1zM222.0 141.4h1.1v1.1h-1.1zM243.2 150.3h1.1v1.1h-1.1zM234.9 149.7h1.1v1.1h-1.1zM238.2 149.6h1.1v1.1h-1.1zM230.4 147.2h1.1v1.1h-1.1zM230.0 147.7h1.1v1.1h-1.1zM235.7 149.1h1.1v1.1h-1.1zM236.9 147.8h1.1v1.1h-1.1zM228.5 143.5h1.1v1.1h-1.1zM244.9 150.4h1.1v1.1h-1.1zM234.2 148.9h1.1v1.1h-1.1zM242.5 150.0h1.1v1.1h-1.1zM226.0 145.8h1.1v1.1h-1.1zM243.7 150.4h1.1v1.1h-1.1zM240.7 149.2h1.1v1.1h-1.1zM240.9 149.7h1.1v1.1h-1.1zM242.1 150.1h1.1v1.1h-1.1zM239.4 148.3h1.1v1.1h-1.1zM236.5 147.8h1.1v1.1h-1.1zM230.4 144.8h1.1v1.1h-1.1zM242.9 149.9h1.1v1.1h-1.1zM243.0 150.0h1.1v1.1h-1.1zM241.6 150.1h1.1v1.1h-1.1zM235.3 148.7h1.1v1.1h-1.1zM227.9 143.0h1.1v1.1h-1.1zM241.0 150.0h1.1v1.1h-1.1zM238.2 149.0h1.1v1.1h-1.1zM235.7 148.0h1.1v1.1h-1.1zM238.0 147.5h1.1v1.1h-1.1zM234.7 146.0h1.1v1.1h-1.1zM241.3 149.4h1.1v1.1h-1.1zM237.8 149.1h1.1v1.1h-1.1zM224.9 141.7h1.1v1.1h-1.1zM237.1 148.3h1.1v1.1h-1.1zM239.0 149.4h1.1v1.1h-1.1zM239.1 148.2h1.1v1.1h-1.1zM232.5 146.6h1.1v1.1h-1.1zM241.5 150.0h1.1v1.1h-1.1zM239.5 148.5h1.1v1.1h-1.1zM229.7 147.0h1.1v1.1h-1.1zM232.7 146.5h1.1v1.1h-1.1zM240.1 150.0h1.1v1.1h-1.1zM245.0 150.4h1.1v1.1h-1.1zM233.2 148.7h1.1v1.1h-1.1zM233.0 148.7h1.1v1.1h-1.1zM241.7 150.2h1.1v1.1h-1.1zM233.5 142.6h1.1v1.1h-1.1zM239.1 149.4h1.1v1.1h-1.1zM240.8 149.6h1.1v1.1h-1.1zM226.1 141.6h1.1v1.1h-1.1zM238.3 149.2h1.1v1.1h-1.1zM242.5 149.9h1.1v1.1h-1.1zM238.8 149.8h1.1v1.1h-1.1zM243.5 150.2h1.1v1.1h-1.1zM244.7 150.4h1.1v1.1h-1.1zM240.5 149.4h1.1v1.1h-1.1zM243.0 150.1h1.1v1.1h-1.1zM233.4 149.1h1.1v1.1h-1.1zM243.7 150.4h1.1v1.1h-1.1zM242.2 150.2h1.1v1.1h-1.1zM239.7 149.0h1.1v1.1h-1.1zM234.6 147.5h1.1v1.1h-1.1zM238.1 148.7h1.1v1.1h-1.1zM229.9 149.1h1.1v1.1h-1.1zM241.8 150.3h1.1v1.1h-1.1zM242.3 150.1h1.1v1.1h-1.1zM241.7 150.0h1.1v1.1h-1.1zM240.3 149.8h1.1v1.1h-1.1zM242.4 150.0h1.1v1.1h-1.1zM238.5 149.3h1.1v1.1h-1.1zM242.4 150.2h1.1v1.1h-1.1zM229.4 147.9h1.1v1.1h-1.1zM231.8 147.0h1.1v1.1h-1.1zM240.0 149.5h1.1v1.1h-1.1zM229.3 146.6h1.1v1.1h-1.1zM242.9 149.5h1.1v1.1h-1.1zM241.4 149.9h1.1v1.1h-1.1zM243.6 150.2h1.1v1.1h-1.1zM233.7 148.9h1.1v1.1h-1.1zM241.2 149.9h1.1v1.1h-1.1zM232.4 146.5h1.1v1.1h-1.1zM241.8 149.7h1.1v1.1h-1.1zM242.0 150.0h1.1v1.1h-1.1zM243.2 150.1h1.1v1.1h-1.1zM227.0 145.6h1.1v1.1h-1.1zM233.6 149.4h1.1v1.1h-1.1zM240.6 150.3h1.1v1.1h-1.1zM244.8 150.3h1.1v1.1h-1.1zM228.8 144.1h1.1v1.1h-1.1zM238.1 149.1h1.1v1.1h-1.1zM243.4 150.4h1.1v1.1h-1.1zM216.0 145.8h1.1v1.1h-1.1zM237.5 147.4h1.1v1.1h-1.1zM236.1 150.0h1.1v1.1h-1.1zM244.8 150.4h1.1v1.1h-1.1zM244.7 150.4h1.1v1.1h-1.1zM236.7 148.6h1.1v1.1h-1.1zM243.9 150.2h1.1v1.1h-1.1zM237.6 149.0h1.1v1.1h-1.1zM243.0 149.5h1.1v1.1h-1.1zM218.8 145.8h1.1v1.1h-1.1zM232.4 148.9h1.1v1.1h-1.1zM217.3 140.9h1.1v1.1h-1.1zM243.7 150.1h1.1v1.1h-1.1zM236.4 148.7h1.1v1.1h-1.1zM238.9 148.4h1.1v1.1h-1.1zM243.4 150.3h1.1v1.1h-1.1zM225.8 147.6h1.1v1.1h-1.1zM235.8 146.4h1.1v1.1h-1.1zM236.2 146.3h1.1v1.1h-1.1zM243.3 149.9h1.1v1.1h-1.1zM244.7 150.4h1.1v1.1h-1.1zM241.7 150.1h1.1v1.1h-1.1zM232.2 148.7h1.1v1.1h-1.1zM239.8 149.6h1.1v1.1h-1.1zM241.6 149.7h1.1v1.1h-1.1zM232.4 146.6h1.1v1.1h-1.1zM243.2 150.3h1.1v1.1h-1.1zM244.4 150.4h1.1v1.1h-1.1zM237.2 148.8h1.1v1.1h-1.1zM239.5 149.4h1.1v1.1h-1.1zM238.8 149.2h1.1v1.1h-1.1zM217.2 142.9h1.1v1.1h-1.1zM235.0 147.4h1.1v1.1h-1.1zM239.5 149.3h1.1v1.1h-1.1zM243.0 150.1h1.1v1.1h-1.1zM234.7 148.8h1.1v1.1h-1.1zM240.8 149.5h1.1v1.1h-1.1zM241.4 149.9h1.1v1.1h-1.1zM220.4 148.0h1.1v1.1h-1.1zM242.8 150.0h1.1v1.1h-1.1zM239.8 149.6h1.1v1.1h-1.1zM229.1 144.0h1.1v1.1h-1.1zM226.7 146.0h1.1v1.1h-1.1zM230.9 147.1h1.1v1.1h-1.1zM233.5 147.5h1.1v1.1h-1.1zM223.2 144.4h1.1v1.1h-1.1zM239.4 149.6h1.1v1.1h-1.1zM244.9 150.4h1.1v1.1h-1.1zM235.5 145.2h1.1v1.1h-1.1zM243.9 150.4h1.1v1.1h-1.1zM243.0 150.2h1.1v1.1h-1.1zM230.2 145.3h1.1v1.1h-1.1zM240.7 149.5h1.1v1.1h-1.1zM240.7 149.4h1.1v1.1h-1.1zM241.7 149.6h1.1v1.1h-1.1zM240.6 148.9h1.1v1.1h-1.1zM244.0 150.3h1.1v1.1h-1.1zM242.0 148.3h1.1v1.1h-1.1zM245.0 150.4h1.1v1.1h-1.1zM237.6 148.7h1.1v1.1h-1.1zM240.1 149.7h1.1v1.1h-1.1zM239.7 149.7h1.1v1.1h-1.1zM239.3 149.2h1.1v1.1h-1.1zM227.7 141.1h1.1v1.1h-1.1zM244.1 150.4h1.1v1.1h-1.1zM235.2 148.9h1.1v1.1h-1.1zM241.2 149.5h1.1v1.1h-1.1zM239.5 149.1h1.1v1.1h-1.1zM237.7 146.4h1.1v1.1h-1.1zM243.9 150.2h1.1v1.1h-1.1zM242.6 150.0h1.1v1.1h-1.1zM239.0 149.5h1.1v1.1h-1.1zM232.5 147.1h1.1v1.1h-1.1zM239.2 149.4h1.1v1.1h-1.1zM244.2 150.4h1.1v1.1h-1.1zM229.1 146.4h1.1v1.1h-1.1zM221.5 144.3h1.1v1.1h-1.1zM240.8 149.8h1.1v1.1h-1.1zM239.7 149.7h1.1v1.1h-1.1zM240.8 148.7h1.1v1.1h-1.1zM240.2 149.2h1.1v1.1h-1.1zM241.5 149.5h1.1v1.1h-1.1zM229.5 147.6h1.1v1.1h-1.1zM241.6 150.1h1.1v1.1h-1.1zM240.8 149.8h1.1v1.1h-1.1zM241.4 149.8h1.1v1.1h-1.1zM237.6 149.2h1.1v1.1h-1.1zM239.7 149.5h1.1v1.1h-1.1zM243.1 150.0h1.1v1.1h-1.1zM237.0 148.5h1.1v1.1h-1.1zM244.8 150.4h1.1v1.1h-1.1zM242.9 150.2h1.1v1.1h-1.1zM237.6 149.4h1.1v1.1h-1.1zM244.7 150.4h1.1v1.1h-1.1zM239.9 149.9h1.1v1.1h-1.1zM230.6 147.2h1.1v1.1h-1.1zM235.3 147.4h1.1v1.1h-1.1zM232.5 147.4h1.1v1.1h-1.1zM239.1 149.7h1.1v1.1h-1.1zM244.1 150.4h1.1v1.1h-1.1zM241.0 149.7h1.1v1.1h-1.1zM242.4 149.9h1.1v1.1h-1.1zM235.7 147.3h1.1v1.1h-1.1zM244.0 150.3h1.1v1.1h-1.1zM230.3 148.6h1.1v1.1h-1.1zM244.8 150.4h1.1v1.1h-1.1zM231.0 146.4h1.1v1.1h-1.1zM243.5 150.2h1.1v1.1h-1.1zM233.1 147.2h1.1v1.1h-1.1zM232.5 148.7h1.1v1.1h-1.1zM244.0 150.3h1.1v1.1h-1.1zM244.4 150.4h1.1v1.1h-1.1zM228.5 143.3h1.1v1.1h-1.1zM237.7 148.9h1.1v1.1h-1.1zM223.5 149.2h1.1v1.1h-1.1zM230.3 147.2h1.1v1.1h-1.1zM227.0 144.7h1.1v1.1h-1.1zM238.3 147.9h1.1v1.1h-1.1zM240.2 149.2h1.1v1.1h-1.1zM243.4 149.6h1.1v1.1h-1.1zM230.7 143.2h1.1v1.1h-1.1zM232.2 144.4h1.1v1.1h-1.1zM240.2 149.0h1.1v1.1h-1.1zM237.6 149.7h1.1v1.1h-1.1zM242.4 149.8h1.1v1.1h-1.1zM230.0 145.4h1.1v1.1h-1.1zM241.7 150.0h1.1v1.1h-1.1zM235.8 147.7h1.1v1.1h-1.1zM228.0 145.0h1.1v1.1h-1.1zM240.8 149.9h1.1v1.1h-1.1zM243.7 150.3h1.1v1.1h-1.1zM234.7 148.4h1.1v1.1h-1.1zM231.7 146.8h1.1v1.1h-1.1zM240.6 149.8h1.1v1.1h-1.1zM237.7 148.5h1.1v1.1h-1.1zM240.6 150.2h1.1v1.1h-1.1zM241.5 149.9h1.1v1.1h-1.1zM242.0 150.2h1.1v1.1h-1.1zM234.3 148.5h1.1v1.1h-1.1zM228.3 144.8h1.1v1.1h-1.1zM242.5 150.1h1.1v1.1h-1.1zM243.2 150.2h1.1v1.1h-1.1zM239.4 149.4h1.1v1.1h-1.1zM226.3 139.5h1.1v1.1h-1.1zM245.0 150.4h1.1v1.1h-1.1zM234.5 146.8h1.1v1.1h-1.1zM221.3 147.3h1.1v1.1h-1.1zM237.9 149.3h1.1v1.1h-1.1zM243.7 150.3h1.1v1.1h-1.1zM243.2 150.3h1.1v1.1h-1.1zM220.0 142.4h1.1v1.1h-1.1zM238.0 148.4h1.1v1.1h-1.1zM228.9 148.2h1.1v1.1h-1.1zM237.9 149.1h1.1v1.1h-1.1zM238.3 149.3h1.1v1.1h-1.1zM237.9 149.9h1.1v1.1h-1.1zM229.7 146.9h1.1v1.1h-1.1zM235.8 149.1h1.1v1.1h-1.1zM231.6 144.1h1.1v1.1h-1.1zM242.9 150.2h1.1v1.1h-1.1zM244.5 150.3h1.1v1.1h-1.1zM237.3 149.2h1.1v1.1h-1.1zM229.7 140.3h1.1v1.1h-1.1zM244.2 150.3h1.1v1.1h-1.1zM234.6 147.5h1.1v1.1h-1.1zM232.7 146.1h1.1v1.1h-1.1zM235.2 147.0h1.1v1.1h-1.1zM241.0 149.0h1.1v1.1h-1.1zM224.3 136.9h1.1v1.1h-1.1zM244.1 150.4h1.1v1.1h-1.1zM235.4 149.3h1.1v1.1h-1.1zM242.0 150.3h1.1v1.1h-1.1zM233.4 148.2h1.1v1.1h-1.1zM234.6 147.0h1.1v1.1h-1.1zM237.8 148.7h1.1v1.1h-1.1zM241.6 149.8h1.1v1.1h-1.1zM239.2 149.5h1.1v1.1h-1.1zM241.9 150.1h1.1v1.1h-1.1zM233.2 148.1h1.1v1.1h-1.1zM243.0 150.1h1.1v1.1h-1.1zM241.2 150.2h1.1v1.1h-1.1zM232.6 146.2h1.1v1.1h-1.1zM233.6 149.2h1.1v1.1h-1.1zM237.8 149.1h1.1v1.1h-1.1zM241.9 150.1h1.1v1.1h-1.1zM242.7 150.2h1.1v1.1h-1.1zM234.9 149.1h1.1v1.1h-1.1zM235.0 149.2h1.1v1.1h-1.1zM236.9 148.9h1.1v1.1h-1.1zM241.6 150.1h1.1v1.1h-1.1zM242.2 148.9h1.1v1.1h-1.1zM237.7 149.2h1.1v1.1h-1.1zM237.8 149.4h1.1v1.1h-1.1zM237.3 149.2h1.1v1.1h-1.1zM243.4 150.3h1.1v1.1h-1.1zM234.8 149.8h1.1v1.1h-1.1zM242.3 150.1h1.1v1.1h-1.1zM244.0 150.3h1.1v1.1h-1.1zM240.4 150.1h1.1v1.1h-1.1zM244.8 150.4h1.1v1.1h-1.1zM237.2 149.6h1.1v1.1h-1.1zM232.6 147.6h1.1v1.1h-1.1zM230.9 146.3h1.1v1.1h-1.1zM237.3 148.4h1.1v1.1h-1.1zM243.5 150.2h1.1v1.1h-1.1zM231.4 148.1h1.1v1.1h-1.1zM239.1 148.7h1.1v1.1h-1.1zM232.4 148.1h1.1v1.1h-1.1zM234.4 147.6h1.1v1.1h-1.1zM236.8 148.0h1.1v1.1h-1.1zM229.6 147.1h1.1v1.1h-1.1zM237.3 149.6h1.1v1.1h-1.1zM240.5 149.4h1.1v1.1h-1.1zM235.8 149.3h1.1v1.1h-1.1zM233.9 148.8h1.1v1.1h-1.1zM243.3 150.3h1.1v1.1h-1.1zM244.9 150.4h1.1v1.1h-1.1zM240.3 149.7h1.1v1.1h-1.1zM235.6 149.8h1.1v1.1h-1.1zM236.1 147.7h1.1v1.1h-1.1zM236.3 145.2h1.1v1.1h-1.1zM240.2 148.3h1.1v1.1h-1.1zM241.7 150.0h1.1v1.1h-1.1zM239.4 149.3h1.1v1.1h-1.1zM234.4 147.3h1.1v1.1h-1.1zM231.6 145.4h1.1v1.1h-1.1zM239.5 149.4h1.1v1.1h-1.1zM243.7 150.3h1.1v1.1h-1.1zM231.7 145.8h1.1v1.1h-1.1zM239.8 149.1h1.1v1.1h-1.1zM235.0 149.3h1.1v1.1h-1.1zM234.1 148.4h1.1v1.1h-1.1zM234.4 147.7h1.1v1.1h-1.1zM244.7 150.4h1.1v1.1h-1.1zM243.0 150.1h1.1v1.1h-1.1zM234.4 146.9h1.1v1.1h-1.1zM241.4 149.7h1.1v1.1h-1.1zM241.8 149.9h1.1v1.1h-1.1zM231.9 148.8h1.1v1.1h-1.1zM241.5 149.6h1.1v1.1h-1.1zM239.0 148.1h1.1v1.1h-1.1zM245.1 150.4h1.1v1.1h-1.1zM239.2 149.3h1.1v1.1h-1.1zM240.3 149.6h1.1v1.1h-1.1zM243.6 150.0h1.1v1.1h-1.1zM239.6 148.4h1.1v1.1h-1.1zM229.2 145.7h1.1v1.1h-1.1zM236.6 147.9h1.1v1.1h-1.1zM243.5 150.3h1.1v1.1h-1.1zM235.9 147.8h1.1v1.1h-1.1zM231.7 148.3h1.1v1.1h-1.1zM233.1 147.9h1.1v1.1h-1.1zM236.0 148.6h1.1v1.1h-1.1zM243.4 150.3h1.1v1.1h-1.1zM234.9 149.7h1.1v1.1h-1.1zM242.8 150.2h1.1v1.1h-1.1zM228.2 145.3h1.1v1.1h-1.1zM243.7 150.3h1.1v1.1h-1.1zM232.4 148.0h1.1v1.1h-1.1zM242.3 149.9h1.1v1.1h-1.1zM234.0 146.9h1.1v1.1h-1.1zM242.6 149.9h1.1v1.1h-1.1zM235.3 149.0h1.1v1.1h-1.1zM237.5 148.9h1.1v1.1h-1.1zM233.6 148.2h1.1v1.1h-1.1zM231.9 148.4h1.1v1.1h-1.1zM239.4 149.9h1.1v1.1h-1.1zM224.9 145.3h1.1v1.1h-1.1zM237.3 149.4h1.1v1.1h-1.1zM229.6 139.1h1.1v1.1h-1.1zM237.2 148.9h1.1v1.1h-1.1zM235.3 148.5h1.1v1.1h-1.1zM227.2 146.6h1.1v1.1h-1.1zM242.6 149.5h1.1v1.1h-1.1zM228.5 147.8h1.1v1.1h-1.1zM240.3 149.7h1.1v1.1h-1.1zM227.3 147.3h1.1v1.1h-1.1zM218.8 143.3h1.1v1.1h-1.1zM241.2 149.8h1.1v1.1h-1.1zM222.3 139.4h1.1v1.1h-1.1zM239.2 149.9h1.1v1.1h-1.1zM236.8 148.8h1.1v1.1h-1.1zM244.0 150.2h1.1v1.1h-1.1zM241.9 150.1h1.1v1.1h-1.1zM239.0 149.4h1.1v1.1h-1.1zM228.7 147.8h1.1v1.1h-1.1zM232.8 149.7h1.1v1.1h-1.1zM239.5 149.5h1.1v1.1h-1.1zM241.7 149.5h1.1v1.1h-1.1zM230.9 147.7h1.1v1.1h-1.1zM229.0 148.8h1.1v1.1h-1.1zM225.7 144.5h1.1v1.1h-1.1zM235.6 148.3h1.1v1.1h-1.1zM227.8 143.1h1.1v1.1h-1.1zM244.6 150.4h1.1v1.1h-1.1zM243.5 150.3h1.1v1.1h-1.1zM230.1 145.9h1.1v1.1h-1.1zM242.9 150.3h1.1v1.1h-1.1zM241.9 149.6h1.1v1.1h-1.1zM230.0 146.3h1.1v1.1h-1.1zM232.3 145.2h1.1v1.1h-1.1zM236.2 147.3h1.1v1.1h-1.1zM231.1 147.5h1.1v1.1h-1.1zM229.4 146.8h1.1v1.1h-1.1zM233.9 148.8h1.1v1.1h-1.1zM235.9 149.7h1.1v1.1h-1.1zM243.7 150.3h1.1v1.1h-1.1zM234.4 147.9h1.1v1.1h-1.1zM243.3 150.3h1.1v1.1h-1.1zM232.4 146.2h1.1v1.1h-1.1zM228.8 146.1h1.1v1.1h-1.1zM235.0 147.7h1.1v1.1h-1.1zM243.9 150.4h1.1v1.1h-1.1zM243.3 150.3h1.1v1.1h-1.1zM233.1 146.4h1.1v1.1h-1.1zM231.0 145.8h1.1v1.1h-1.1zM244.8 150.4h1.1v1.1h-1.1zM243.1 150.2h1.1v1.1h-1.1zM239.9 149.6h1.1v1.1h-1.1zM240.4 149.7h1.1v1.1h-1.1zM240.5 149.8h1.1v1.1h-1.1zM242.8 150.3h1.1v1.1h-1.1zM241.4 149.6h1.1v1.1h-1.1zM240.5 150.1h1.1v1.1h-1.1zM244.1 150.4h1.1v1.1h-1.1zM238.6 149.4h1.1v1.1h-1.1zM244.9 150.4h1.1v1.1h-1.1zM241.5 150.2h1.1v1.1h-1.1zM222.5 138.9h1.1v1.1h-1.1zM240.2 149.3h1.1v1.1h-1.1zM242.1 149.8h1.1v1.1h-1.1zM230.5 143.7h1.1v1.1h-1.1zM224.4 146.7h1.1v1.1h-1.1zM227.7 149.5h1.1v1.1h-1.1zM233.3 147.2h1.1v1.1h-1.1zM244.0 150.2h1.1v1.1h-1.1zM220.8 138.0h1.1v1.1h-1.1zM241.2 150.0h1.1v1.1h-1.1zM233.1 147.8h1.1v1.1h-1.1zM242.9 150.1h1.1v1.1h-1.1zM220.5 147.6h1.1v1.1h-1.1zM222.0 145.8h1.1v1.1h-1.1zM235.0 148.8h1.1v1.1h-1.1zM243.3 149.9h1.1v1.1h-1.1zM232.2 148.2h1.1v1.1h-1.1zM234.0 144.9h1.1v1.1h-1.1zM229.8 146.6h1.1v1.1h-1.1zM233.8 149.3h1.1v1.1h-1.1zM230.6 139.7h1.1v1.1h-1.1zM237.5 149.5h1.1v1.1h-1.1zM234.1 147.0h1.1v1.1h-1.1zM236.7 146.3h1.1v1.1h-1.1zM234.2 148.6h1.1v1.1h-1.1zM236.5 149.5h1.1v1.1h-1.1zM233.2 145.8h1.1v1.1h-1.1zM237.1 148.7h1.1v1.1h-1.1zM244.2 150.4h1.1v1.1h-1.1zM240.8 150.0h1.1v1.1h-1.1zM236.2 148.9h1.1v1.1h-1.1zM242.8 149.9h1.1v1.1h-1.1zM226.2 146.1h1.1v1.1h-1.1zM242.4 149.9h1.1v1.1h-1.1zM241.2 148.9h1.1v1.1h-1.1zM238.4 147.9h1.1v1.1h-1.1zM232.6 144.4h1.1v1.1h-1.1zM228.0 142.3h1.1v1.1h-1.1zM242.0 150.2h1.1v1.1h-1.1zM233.8 145.7h1.1v1.1h-1.1zM231.3 146.5h1.1v1.1h-1.1zM228.5 146.5h1.1v1.1h-1.1zM243.3 150.3h1.1v1.1h-1.1zM236.2 149.6h1.1v1.1h-1.1zM245.0 150.4h1.1v1.1h-1.1zM238.2 149.1h1.1v1.1h-1.1zM242.0 150.2h1.1v1.1h-1.1zM229.6 147.9h1.1v1.1h-1.1zM241.2 150.0h1.1v1.1h-1.1zM243.7 150.2h1.1v1.1h-1.1zM241.7 150.0h1.1v1.1h-1.1zM244.6 150.4h1.1v1.1h-1.1zM236.7 147.0h1.1v1.1h-1.1zM236.4 148.9h1.1v1.1h-1.1zM241.5 149.6h1.1v1.1h-1.1zM244.1 150.4h1.1v1.1h-1.1zM221.0 142.3h1.1v1.1h-1.1zM246.6 150.2h1.1v1.1h-1.1zM247.3 150.1h1.1v1.1h-1.1zM250.7 144.9h1.1v1.1h-1.1zM257.5 135.7h1.1v1.1h-1.1zM248.7 149.8h1.1v1.1h-1.1zM250.8 148.6h1.1v1.1h-1.1zM257.6 141.8h1.1v1.1h-1.1zM256.0 148.6h1.1v1.1h-1.1zM259.6 146.7h1.1v1.1h-1.1zM252.7 145.7h1.1v1.1h-1.1zM250.9 149.4h1.1v1.1h-1.1zM250.7 149.3h1.1v1.1h-1.1zM250.9 149.7h1.1v1.1h-1.1zM262.8 146.0h1.1v1.1h-1.1zM257.3 144.3h1.1v1.1h-1.1zM250.6 149.5h1.1v1.1h-1.1zM259.9 147.9h1.1v1.1h-1.1zM267.8 143.8h1.1v1.1h-1.1zM251.6 145.6h1.1v1.1h-1.1zM259.3 144.8h1.1v1.1h-1.1zM249.5 149.6h1.1v1.1h-1.1zM252.6 148.1h1.1v1.1h-1.1zM262.8 141.8h1.1v1.1h-1.1zM249.4 149.3h1.1v1.1h-1.1zM261.7 148.2h1.1v1.1h-1.1zM259.1 144.6h1.1v1.1h-1.1zM250.4 149.2h1.1v1.1h-1.1zM265.2 137.8h1.1v1.1h-1.1zM255.4 148.9h1.1v1.1h-1.1zM252.5 146.6h1.1v1.1h-1.1zM273.4 141.0h1.1v1.1h-1.1zM262.3 147.9h1.1v1.1h-1.1zM254.6 144.3h1.1v1.1h-1.1zM265.4 144.4h1.1v1.1h-1.1zM257.7 145.2h1.1v1.1h-1.1zM247.5 150.0h1.1v1.1h-1.1zM248.4 149.1h1.1v1.1h-1.1zM266.1 135.0h1.1v1.1h-1.1zM252.0 146.8h1.1v1.1h-1.1zM261.7 141.3h1.1v1.1h-1.1zM256.0 149.0h1.1v1.1h-1.1zM254.6 149.3h1.1v1.1h-1.1zM250.8 148.8h1.1v1.1h-1.1zM248.2 150.0h1.1v1.1h-1.1zM252.9 147.5h1.1v1.1h-1.1zM247.6 149.9h1.1v1.1h-1.1zM256.5 148.7h1.1v1.1h-1.1zM262.1 146.9h1.1v1.1h-1.1zM250.1 149.8h1.1v1.1h-1.1zM245.2 150.4h1.1v1.1h-1.1zM253.8 148.1h1.1v1.1h-1.1zM251.4 147.9h1.1v1.1h-1.1zM268.0 130.9h1.1v1.1h-1.1zM248.0 150.1h1.1v1.1h-1.1zM249.7 149.6h1.1v1.1h-1.1zM249.5 147.9h1.1v1.1h-1.1zM255.9 144.7h1.1v1.1h-1.1zM259.0 144.9h1.1v1.1h-1.1zM248.0 150.3h1.1v1.1h-1.1zM249.6 149.8h1.1v1.1h-1.1zM261.5 143.8h1.1v1.1h-1.1zM250.8 149.4h1.1v1.1h-1.1zM258.0 137.1h1.1v1.1h-1.1zM251.7 148.5h1.1v1.1h-1.1zM255.3 146.6h1.1v1.1h-1.1zM257.4 148.2h1.1v1.1h-1.1zM249.4 149.9h1.1v1.1h-1.1zM259.6 146.9h1.1v1.1h-1.1zM259.3 146.9h1.1v1.1h-1.1zM253.7 148.2h1.1v1.1h-1.1zM252.3 147.9h1.1v1.1h-1.1zM263.8 142.3h1.1v1.1h-1.1zM254.6 145.3h1.1v1.1h-1.1zM254.3 149.1h1.1v1.1h-1.1zM258.4 145.3h1.1v1.1h-1.1zM266.5 140.7h1.1v1.1h-1.1zM259.4 138.2h1.1v1.1h-1.1zM258.9 146.2h1.1v1.1h-1.1zM256.3 146.1h1.1v1.1h-1.1zM255.4 148.4h1.1v1.1h-1.1zM253.3 147.4h1.1v1.1h-1.1zM249.5 149.1h1.1v1.1h-1.1zM247.3 150.2h1.1v1.1h-1.1zM249.1 149.7h1.1v1.1h-1.1zM252.3 148.4h1.1v1.1h-1.1zM253.2 147.1h1.1v1.1h-1.1zM265.6 146.2h1.1v1.1h-1.1zM245.6 150.3h1.1v1.1h-1.1zM247.8 150.0h1.1v1.1h-1.1zM267.2 124.8h1.1v1.1h-1.1zM260.9 137.5h1.1v1.1h-1.1zM253.3 148.5h1.1v1.1h-1.1zM259.2 146.9h1.1v1.1h-1.1zM247.9 148.1h1.1v1.1h-1.1zM257.8 144.3h1.1v1.1h-1.1zM250.2 148.6h1.1v1.1h-1.1zM250.9 149.2h1.1v1.1h-1.1zM251.2 148.9h1.1v1.1h-1.1zM246.8 150.0h1.1v1.1h-1.1zM251.6 147.9h1.1v1.1h-1.1zM250.4 149.6h1.1v1.1h-1.1zM248.8 148.7h1.1v1.1h-1.1zM249.4 149.2h1.1v1.1h-1.1zM254.4 148.8h1.1v1.1h-1.1zM245.6 150.4h1.1v1.1h-1.1zM246.9 150.1h1.1v1.1h-1.1zM266.3 137.4h1.1v1.1h-1.1zM245.7 150.4h1.1v1.1h-1.1zM254.8 146.7h1.1v1.1h-1.1zM245.8 150.4h1.1v1.1h-1.1zM250.6 148.7h1.1v1.1h-1.1zM250.6 149.8h1.1v1.1h-1.1zM255.0 147.0h1.1v1.1h-1.1zM245.3 150.4h1.1v1.1h-1.1zM252.4 148.4h1.1v1.1h-1.1zM250.2 148.5h1.1v1.1h-1.1zM259.8 143.6h1.1v1.1h-1.1zM246.8 149.9h1.1v1.1h-1.1zM258.8 147.8h1.1v1.1h-1.1zM248.3 148.7h1.1v1.1h-1.1zM255.5 142.3h1.1v1.1h-1.1zM252.5 149.4h1.1v1.1h-1.1zM246.9 150.2h1.1v1.1h-1.1zM276.8 140.1h1.1v1.1h-1.1zM255.0 147.3h1.1v1.1h-1.1zM257.2 146.0h1.1v1.1h-1.1zM247.9 150.3h1.1v1.1h-1.1zM255.4 145.9h1.1v1.1h-1.1zM259.1 146.2h1.1v1.1h-1.1zM255.4 148.6h1.1v1.1h-1.1zM250.2 148.2h1.1v1.1h-1.1zM254.9 147.9h1.1v1.1h-1.1zM250.1 148.0h1.1v1.1h-1.1zM247.5 149.8h1.1v1.1h-1.1zM249.6 149.5h1.1v1.1h-1.1zM247.5 149.5h1.1v1.1h-1.1zM259.7 142.4h1.1v1.1h-1.1zM262.4 145.5h1.1v1.1h-1.1zM246.2 150.4h1.1v1.1h-1.1zM266.1 144.3h1.1v1.1h-1.1zM257.0 144.8h1.1v1.1h-1.1zM253.2 148.3h1.1v1.1h-1.1zM257.9 138.8h1.1v1.1h-1.1zM247.8 149.8h1.1v1.1h-1.1zM250.7 148.8h1.1v1.1h-1.1zM246.3 150.2h1.1v1.1h-1.1zM257.5 147.9h1.1v1.1h-1.1zM254.3 147.8h1.1v1.1h-1.1zM251.1 149.3h1.1v1.1h-1.1zM249.3 150.2h1.1v1.1h-1.1zM251.0 149.9h1.1v1.1h-1.1zM249.2 148.9h1.1v1.1h-1.1zM247.1 150.1h1.1v1.1h-1.1zM246.8 150.2h1.1v1.1h-1.1zM264.0 147.3h1.1v1.1h-1.1zM250.3 149.5h1.1v1.1h-1.1zM249.9 148.6h1.1v1.1h-1.1zM249.9 149.2h1.1v1.1h-1.1zM248.3 149.9h1.1v1.1h-1.1zM259.5 138.6h1.1v1.1h-1.1zM253.1 148.2h1.1v1.1h-1.1zM247.9 150.0h1.1v1.1h-1.1zM245.4 150.4h1.1v1.1h-1.1zM245.3 150.4h1.1v1.1h-1.1zM245.3 150.4h1.1v1.1h-1.1zM256.3 148.5h1.1v1.1h-1.1zM248.2 150.0h1.1v1.1h-1.1zM267.2 144.3h1.1v1.1h-1.1zM245.9 150.3h1.1v1.1h-1.1zM263.6 143.0h1.1v1.1h-1.1zM249.9 149.0h1.1v1.1h-1.1zM253.2 147.7h1.1v1.1h-1.1zM248.8 148.6h1.1v1.1h-1.1zM251.5 146.0h1.1v1.1h-1.1zM250.8 148.2h1.1v1.1h-1.1zM249.0 149.1h1.1v1.1h-1.1zM250.6 149.3h1.1v1.1h-1.1zM250.5 149.7h1.1v1.1h-1.1zM262.7 141.3h1.1v1.1h-1.1zM252.5 148.3h1.1v1.1h-1.1zM250.3 148.3h1.1v1.1h-1.1zM260.1 148.5h1.1v1.1h-1.1zM251.9 142.0h1.1v1.1h-1.1zM261.3 147.5h1.1v1.1h-1.1zM250.2 149.1h1.1v1.1h-1.1zM259.2 141.9h1.1v1.1h-1.1zM267.9 146.1h1.1v1.1h-1.1zM266.0 144.3h1.1v1.1h-1.1zM259.1 148.8h1.1v1.1h-1.1zM254.1 149.2h1.1v1.1h-1.1zM267.2 147.4h1.1v1.1h-1.1zM248.8 149.6h1.1v1.1h-1.1zM261.8 143.2h1.1v1.1h-1.1zM258.1 146.7h1.1v1.1h-1.1zM265.8 134.0h1.1v1.1h-1.1zM252.1 146.1h1.1v1.1h-1.1zM260.0 145.2h1.1v1.1h-1.1zM258.2 146.5h1.1v1.1h-1.1zM253.6 148.3h1.1v1.1h-1.1zM266.5 143.8h1.1v1.1h-1.1zM246.0 150.2h1.1v1.1h-1.1zM248.6 149.5h1.1v1.1h-1.1zM249.9 149.4h1.1v1.1h-1.1zM252.4 148.6h1.1v1.1h-1.1zM252.7 147.5h1.1v1.1h-1.1zM256.9 147.3h1.1v1.1h-1.1zM262.0 143.0h1.1v1.1h-1.1zM258.9 145.7h1.1v1.1h-1.1zM249.2 148.3h1.1v1.1h-1.1zM249.8 148.2h1.1v1.1h-1.1zM264.9 146.9h1.1v1.1h-1.1zM250.1 149.3h1.1v1.1h-1.1zM247.8 149.6h1.1v1.1h-1.1zM260.0 146.3h1.1v1.1h-1.1zM251.8 147.5h1.1v1.1h-1.1zM257.9 145.2h1.1v1.1h-1.1zM256.8 145.0h1.1v1.1h-1.1zM247.5 150.0h1.1v1.1h-1.1zM251.9 148.2h1.1v1.1h-1.1zM255.4 146.1h1.1v1.1h-1.1zM246.3 150.4h1.1v1.1h-1.1zM263.5 146.2h1.1v1.1h-1.1zM269.8 144.6h1.1v1.1h-1.1zM257.0 140.4h1.1v1.1h-1.1zM261.7 143.2h1.1v1.1h-1.1zM249.5 149.1h1.1v1.1h-1.1zM253.7 147.6h1.1v1.1h-1.1zM248.9 149.8h1.1v1.1h-1.1zM257.4 147.7h1.1v1.1h-1.1zM252.6 146.9h1.1v1.1h-1.1zM253.6 148.4h1.1v1.1h-1.1zM247.4 149.4h1.1v1.1h-1.1zM247.3 150.0h1.1v1.1h-1.1zM246.8 150.1h1.1v1.1h-1.1zM257.7 146.6h1.1v1.1h-1.1zM259.4 145.6h1.1v1.1h-1.1zM250.3 149.1h1.1v1.1h-1.1zM252.3 145.6h1.1v1.1h-1.1zM260.5 130.0h1.1v1.1h-1.1zM264.9 146.4h1.1v1.1h-1.1zM251.2 148.5h1.1v1.1h-1.1zM245.9 150.3h1.1v1.1h-1.1zM247.7 150.1h1.1v1.1h-1.1zM246.1 150.3h1.1v1.1h-1.1zM257.6 147.2h1.1v1.1h-1.1zM279.3 146.3h1.1v1.1h-1.1zM257.7 144.3h1.1v1.1h-1.1zM251.1 148.8h1.1v1.1h-1.1zM263.0 144.0h1.1v1.1h-1.1zM250.9 148.8h1.1v1.1h-1.1zM262.7 142.8h1.1v1.1h-1.1zM245.7 150.2h1.1v1.1h-1.1zM251.5 148.5h1.1v1.1h-1.1zM251.7 147.5h1.1v1.1h-1.1zM266.1 144.1h1.1v1.1h-1.1zM246.4 150.2h1.1v1.1h-1.1zM260.9 145.6h1.1v1.1h-1.1zM253.6 148.1h1.1v1.1h-1.1zM250.3 149.6h1.1v1.1h-1.1zM251.7 149.3h1.1v1.1h-1.1zM246.1 150.3h1.1v1.1h-1.1zM247.6 149.7h1.1v1.1h-1.1zM246.0 150.3h1.1v1.1h-1.1zM256.8 147.8h1.1v1.1h-1.1zM263.9 141.8h1.1v1.1h-1.1zM256.1 149.6h1.1v1.1h-1.1zM247.5 149.6h1.1v1.1h-1.1zM247.8 149.9h1.1v1.1h-1.1zM251.5 148.4h1.1v1.1h-1.1zM270.2 130.3h1.1v1.1h-1.1zM261.2 145.7h1.1v1.1h-1.1zM261.1 140.4h1.1v1.1h-1.1zM255.3 147.9h1.1v1.1h-1.1zM250.5 148.5h1.1v1.1h-1.1zM263.5 144.8h1.1v1.1h-1.1zM252.3 148.0h1.1v1.1h-1.1zM250.4 147.3h1.1v1.1h-1.1zM248.6 149.9h1.1v1.1h-1.1zM246.8 150.2h1.1v1.1h-1.1zM253.5 148.3h1.1v1.1h-1.1zM252.8 147.7h1.1v1.1h-1.1zM246.1 149.7h1.1v1.1h-1.1zM248.2 149.9h1.1v1.1h-1.1zM247.7 150.3h1.1v1.1h-1.1zM265.3 144.9h1.1v1.1h-1.1zM246.8 150.3h1.1v1.1h-1.1zM246.3 150.3h1.1v1.1h-1.1zM253.8 147.7h1.1v1.1h-1.1zM256.7 148.2h1.1v1.1h-1.1zM258.3 147.3h1.1v1.1h-1.1zM265.4 147.6h1.1v1.1h-1.1zM257.7 145.6h1.1v1.1h-1.1zM251.7 149.2h1.1v1.1h-1.1zM259.7 140.8h1.1v1.1h-1.1zM259.8 140.9h1.1v1.1h-1.1zM246.3 150.3h1.1v1.1h-1.1zM264.2 144.3h1.1v1.1h-1.1zM248.7 149.6h1.1v1.1h-1.1zM265.7 137.9h1.1v1.1h-1.1zM256.3 149.0h1.1v1.1h-1.1zM261.7 144.4h1.1v1.1h-1.1zM250.4 146.5h1.1v1.1h-1.1zM260.0 145.3h1.1v1.1h-1.1zM256.5 146.1h1.1v1.1h-1.1zM249.9 149.2h1.1v1.1h-1.1zM246.5 150.3h1.1v1.1h-1.1zM248.2 149.3h1.1v1.1h-1.1zM258.4 145.0h1.1v1.1h-1.1zM270.1 138.7h1.1v1.1h-1.1zM247.3 149.8h1.1v1.1h-1.1zM259.9 142.1h1.1v1.1h-1.1zM250.1 150.0h1.1v1.1h-1.1zM251.4 148.2h1.1v1.1h-1.1zM257.2 147.4h1.1v1.1h-1.1zM255.2 146.9h1.1v1.1h-1.1zM249.3 149.8h1.1v1.1h-1.1zM256.8 148.0h1.1v1.1h-1.1zM254.9 145.1h1.1v1.1h-1.1zM252.6 148.2h1.1v1.1h-1.1zM245.2 150.4h1.1v1.1h-1.1zM247.0 150.1h1.1v1.1h-1.1zM250.0 149.1h1.1v1.1h-1.1zM245.9 150.3h1.1v1.1h-1.1zM257.2 149.3h1.1v1.1h-1.1zM260.3 147.0h1.1v1.1h-1.1zM247.9 149.9h1.1v1.1h-1.1zM248.1 149.4h1.1v1.1h-1.1zM257.0 141.8h1.1v1.1h-1.1zM247.7 150.1h1.1v1.1h-1.1zM256.6 139.1h1.1v1.1h-1.1zM246.9 150.1h1.1v1.1h-1.1zM259.2 143.7h1.1v1.1h-1.1zM270.3 142.3h1.1v1.1h-1.1zM247.3 150.1h1.1v1.1h-1.1zM249.7 147.9h1.1v1.1h-1.1zM257.5 146.6h1.1v1.1h-1.1zM250.6 149.0h1.1v1.1h-1.1zM248.5 148.9h1.1v1.1h-1.1zM250.2 146.9h1.1v1.1h-1.1zM258.8 148.3h1.1v1.1h-1.1zM261.7 144.7h1.1v1.1h-1.1zM252.0 148.4h1.1v1.1h-1.1zM248.8 148.0h1.1v1.1h-1.1zM258.7 131.2h1.1v1.1h-1.1zM248.1 149.8h1.1v1.1h-1.1zM250.2 148.8h1.1v1.1h-1.1zM254.1 145.8h1.1v1.1h-1.1zM264.0 136.1h1.1v1.1h-1.1zM248.3 149.8h1.1v1.1h-1.1zM251.5 147.5h1.1v1.1h-1.1zM263.2 145.5h1.1v1.1h-1.1zM259.4 149.2h1.1v1.1h-1.1zM257.0 148.5h1.1v1.1h-1.1zM267.1 139.9h1.1v1.1h-1.1zM248.4 149.2h1.1v1.1h-1.1zM247.7 150.3h1.1v1.1h-1.1zM248.8 150.1h1.1v1.1h-1.1zM254.5 147.4h1.1v1.1h-1.1zM269.5 148.8h1.1v1.1h-1.1zM264.6 139.5h1.1v1.1h-1.1zM260.0 140.5h1.1v1.1h-1.1zM246.8 150.4h1.1v1.1h-1.1zM256.5 144.3h1.1v1.1h-1.1zM255.0 147.5h1.1v1.1h-1.1zM255.1 143.1h1.1v1.1h-1.1zM255.0 146.5h1.1v1.1h-1.1zM260.7 145.1h1.1v1.1h-1.1zM258.3 145.3h1.1v1.1h-1.1zM267.7 133.9h1.1v1.1h-1.1zM257.7 145.3h1.1v1.1h-1.1zM247.6 149.9h1.1v1.1h-1.1zM255.8 148.8h1.1v1.1h-1.1zM269.5 136.2h1.1v1.1h-1.1zM275.0 136.0h1.1v1.1h-1.1zM245.8 150.2h1.1v1.1h-1.1zM251.8 148.4h1.1v1.1h-1.1zM264.0 143.0h1.1v1.1h-1.1zM248.9 149.8h1.1v1.1h-1.1zM246.4 150.1h1.1v1.1h-1.1zM252.7 148.3h1.1v1.1h-1.1zM253.3 148.7h1.1v1.1h-1.1zM249.0 148.0h1.1v1.1h-1.1zM253.5 143.1h1.1v1.1h-1.1zM251.3 149.0h1.1v1.1h-1.1zM245.9 150.4h1.1v1.1h-1.1zM250.8 147.4h1.1v1.1h-1.1zM263.3 145.7h1.1v1.1h-1.1zM263.8 113.6h1.1v1.1h-1.1zM257.3 146.3h1.1v1.1h-1.1zM254.6 145.0h1.1v1.1h-1.1zM254.3 148.9h1.1v1.1h-1.1zM250.5 148.9h1.1v1.1h-1.1zM264.0 136.0h1.1v1.1h-1.1zM252.9 147.3h1.1v1.1h-1.1zM256.5 147.4h1.1v1.1h-1.1zM245.7 150.1h1.1v1.1h-1.1zM245.7 150.3h1.1v1.1h-1.1zM248.7 149.7h1.1v1.1h-1.1zM257.6 147.1h1.1v1.1h-1.1zM259.1 145.8h1.1v1.1h-1.1zM251.1 146.7h1.1v1.1h-1.1zM248.6 149.9h1.1v1.1h-1.1zM265.1 141.8h1.1v1.1h-1.1zM253.2 148.8h1.1v1.1h-1.1zM246.3 150.0h1.1v1.1h-1.1zM254.5 147.5h1.1v1.1h-1.1zM250.6 147.9h1.1v1.1h-1.1zM257.4 144.3h1.1v1.1h-1.1zM245.8 150.4h1.1v1.1h-1.1zM255.1 145.4h1.1v1.1h-1.1zM279.7 121.2h1.1v1.1h-1.1zM260.2 147.3h1.1v1.1h-1.1zM264.0 138.7h1.1v1.1h-1.1zM247.9 145.7h1.1v1.1h-1.1zM248.2 149.8h1.1v1.1h-1.1zM260.9 141.5h1.1v1.1h-1.1zM246.3 150.4h1.1v1.1h-1.1zM260.0 143.0h1.1v1.1h-1.1zM272.4 141.2h1.1v1.1h-1.1zM248.0 149.4h1.1v1.1h-1.1zM249.2 149.4h1.1v1.1h-1.1zM249.2 149.9h1.1v1.1h-1.1zM262.3 137.6h1.1v1.1h-1.1zM251.9 148.6h1.1v1.1h-1.1zM248.8 149.9h1.1v1.1h-1.1zM263.3 142.6h1.1v1.1h-1.1zM257.5 147.8h1.1v1.1h-1.1zM254.7 146.4h1.1v1.1h-1.1zM259.4 145.1h1.1v1.1h-1.1zM249.4 149.5h1.1v1.1h-1.1zM251.3 147.8h1.1v1.1h-1.1zM246.6 150.3h1.1v1.1h-1.1zM260.9 139.7h1.1v1.1h-1.1zM247.7 150.3h1.1v1.1h-1.1zM249.9 147.2h1.1v1.1h-1.1zM252.4 147.9h1.1v1.1h-1.1zM246.1 150.3h1.1v1.1h-1.1zM268.8 143.4h1.1v1.1h-1.1zM245.5 150.4h1.1v1.1h-1.1zM261.4 144.5h1.1v1.1h-1.1zM267.9 141.3h1.1v1.1h-1.1zM255.0 144.4h1.1v1.1h-1.1zM245.6 150.4h1.1v1.1h-1.1zM261.7 144.6h1.1v1.1h-1.1zM252.4 147.5h1.1v1.1h-1.1zM245.2 150.4h1.1v1.1h-1.1zM261.6 144.3h1.1v1.1h-1.1zM248.0 149.7h1.1v1.1h-1.1zM249.4 149.3h1.1v1.1h-1.1zM261.0 140.9h1.1v1.1h-1.1zM245.4 150.4h1.1v1.1h-1.1zM257.5 147.7h1.1v1.1h-1.1zM247.8 149.9h1.1v1.1h-1.1zM249.8 149.2h1.1v1.1h-1.1zM252.3 147.3h1.1v1.1h-1.1zM248.5 148.5h1.1v1.1h-1.1zM256.4 146.4h1.1v1.1h-1.1zM249.2 149.2h1.1v1.1h-1.1zM257.6 141.8h1.1v1.1h-1.1zM250.9 149.6h1.1v1.1h-1.1zM255.0 148.2h1.1v1.1h-1.1zM254.3 148.0h1.1v1.1h-1.1zM253.3 147.8h1.1v1.1h-1.1zM250.2 148.8h1.1v1.1h-1.1zM261.2 145.6h1.1v1.1h-1.1zM247.5 149.1h1.1v1.1h-1.1zM258.9 146.9h1.1v1.1h-1.1zM260.4 145.1h1.1v1.1h-1.1zM246.0 150.2h1.1v1.1h-1.1zM252.7 146.7h1.1v1.1h-1.1zM249.0 149.5h1.1v1.1h-1.1zM257.6 144.8h1.1v1.1h-1.1zM246.6 150.0h1.1v1.1h-1.1zM252.1 148.3h1.1v1.1h-1.1zM245.8 150.3h1.1v1.1h-1.1zM246.3 150.3h1.1v1.1h-1.1zM249.4 149.3h1.1v1.1h-1.1zM250.4 149.8h1.1v1.1h-1.1zM259.4 147.1h1.1v1.1h-1.1zM253.3 149.1h1.1v1.1h-1.1zM249.2 148.3h1.1v1.1h-1.1zM250.6 149.2h1.1v1.1h-1.1zM245.9 150.3h1.1v1.1h-1.1zM276.5 141.4h1.1v1.1h-1.1zM258.3 146.0h1.1v1.1h-1.1zM246.3 150.3h1.1v1.1h-1.1zM253.7 148.7h1.1v1.1h-1.1zM261.0 140.3h1.1v1.1h-1.1zM249.4 150.0h1.1v1.1h-1.1zM266.2 137.6h1.1v1.1h-1.1zM246.2 149.7h1.1v1.1h-1.1zM245.6 150.4h1.1v1.1h-1.1zM270.6 138.7h1.1v1.1h-1.1zM267.3 146.4h1.1v1.1h-1.1zM263.6 143.0h1.1v1.1h-1.1zM247.1 150.3h1.1v1.1h-1.1zM256.3 144.9h1.1v1.1h-1.1zM248.7 149.8h1.1v1.1h-1.1zM247.3 150.3h1.1v1.1h-1.1zM258.7 148.0h1.1v1.1h-1.1zM246.2 150.4h1.1v1.1h-1.1zM257.8 146.5h1.1v1.1h-1.1zM246.1 150.2h1.1v1.1h-1.1zM250.0 149.4h1.1v1.1h-1.1zM247.7 150.2h1.1v1.1h-1.1zM251.1 149.4h1.1v1.1h-1.1zM246.5 150.2h1.1v1.1h-1.1zM261.6 148.8h1.1v1.1h-1.1zM259.1 143.3h1.1v1.1h-1.1zM265.0 140.3h1.1v1.1h-1.1zM245.2 150.4h1.1v1.1h-1.1zM265.5 134.2h1.1v1.1h-1.1zM257.9 148.6h1.1v1.1h-1.1zM261.2 145.0h1.1v1.1h-1.1zM260.3 139.5h1.1v1.1h-1.1zM253.7 149.4h1.1v1.1h-1.1zM246.8 150.3h1.1v1.1h-1.1zM276.9 142.6h1.1v1.1h-1.1zM252.2 149.3h1.1v1.1h-1.1zM252.7 148.4h1.1v1.1h-1.1zM263.6 145.0h1.1v1.1h-1.1zM269.6 142.5h1.1v1.1h-1.1zM260.5 146.1h1.1v1.1h-1.1zM248.0 149.9h1.1v1.1h-1.1zM259.4 147.2h1.1v1.1h-1.1zM276.5 133.1h1.1v1.1h-1.1zM262.6 143.7h1.1v1.1h-1.1zM263.0 146.5h1.1v1.1h-1.1zM272.6 116.6h1.1v1.1h-1.1zM247.3 150.2h1.1v1.1h-1.1zM258.3 143.4h1.1v1.1h-1.1zM264.1 145.5h1.1v1.1h-1.1zM251.0 148.5h1.1v1.1h-1.1zM250.1 148.7h1.1v1.1h-1.1zM246.1 150.2h1.1v1.1h-1.1zM246.8 149.8h1.1v1.1h-1.1zM251.9 149.2h1.1v1.1h-1.1zM258.4 126.8h1.1v1.1h-1.1zM246.6 150.1h1.1v1.1h-1.1zM254.8 148.5h1.1v1.1h-1.1zM269.7 145.5h1.1v1.1h-1.1zM256.7 135.5h1.1v1.1h-1.1zM257.0 140.0h1.1v1.1h-1.1zM252.0 148.5h1.1v1.1h-1.1zM268.1 135.5h1.1v1.1h-1.1zM247.9 149.1h1.1v1.1h-1.1zM259.0 145.1h1.1v1.1h-1.1zM248.0 149.9h1.1v1.1h-1.1zM257.0 146.4h1.1v1.1h-1.1zM251.8 147.3h1.1v1.1h-1.1zM254.1 147.5h1.1v1.1h-1.1zM250.8 149.7h1.1v1.1h-1.1zM250.8 148.0h1.1v1.1h-1.1zM262.6 147.8h1.1v1.1h-1.1zM258.9 147.1h1.1v1.1h-1.1zM251.3 146.9h1.1v1.1h-1.1zM256.8 145.8h1.1v1.1h-1.1zM264.5 141.5h1.1v1.1h-1.1zM258.1 145.5h1.1v1.1h-1.1zM279.2 121.1h1.1v1.1h-1.1zM252.6 148.2h1.1v1.1h-1.1zM252.4 149.7h1.1v1.1h-1.1zM247.1 150.0h1.1v1.1h-1.1zM256.4 149.8h1.1v1.1h-1.1zM249.3 150.1h1.1v1.1h-1.1zM254.5 143.0h1.1v1.1h-1.1zM247.1 149.7h1.1v1.1h-1.1zM248.9 149.7h1.1v1.1h-1.1zM248.0 149.8h1.1v1.1h-1.1zM245.8 150.3h1.1v1.1h-1.1zM264.6 136.6h1.1v1.1h-1.1zM271.5 142.9h1.1v1.1h-1.1zM248.3 150.0h1.1v1.1h-1.1zM264.0 145.1h1.1v1.1h-1.1zM259.6 144.7h1.1v1.1h-1.1zM246.3 150.2h1.1v1.1h-1.1zM249.1 149.7h1.1v1.1h-1.1zM255.1 145.4h1.1v1.1h-1.1zM254.4 148.8h1.1v1.1h-1.1zM279.0 134.9h1.1v1.1h-1.1zM245.5 150.4h1.1v1.1h-1.1zM249.6 149.8h1.1v1.1h-1.1zM258.7 140.6h1.1v1.1h-1.1zM252.7 148.5h1.1v1.1h-1.1zM246.8 150.3h1.1v1.1h-1.1zM251.4 148.6h1.1v1.1h-1.1zM247.4 150.2h1.1v1.1h-1.1zM246.6 150.1h1.1v1.1h-1.1zM249.7 148.5h1.1v1.1h-1.1zM255.6 144.2h1.1v1.1h-1.1zM265.7 145.8h1.1v1.1h-1.1zM254.7 147.6h1.1v1.1h-1.1zM247.1 149.3h1.1v1.1h-1.1zM247.6 150.0h1.1v1.1h-1.1zM252.2 146.2h1.1v1.1h-1.1zM253.1 144.7h1.1v1.1h-1.1zM258.8 148.2h1.1v1.1h-1.1zM264.1 135.4h1.1v1.1h-1.1zM253.6 146.4h1.1v1.1h-1.1zM249.1 148.8h1.1v1.1h-1.1zM257.0 139.8h1.1v1.1h-1.1zM261.0 142.6h1.1v1.1h-1.1zM247.2 150.0h1.1v1.1h-1.1zM252.9 147.1h1.1v1.1h-1.1zM253.4 148.3h1.1v1.1h-1.1zM257.6 144.6h1.1v1.1h-1.1zM261.7 148.4h1.1v1.1h-1.1zM266.5 126.9h1.1v1.1h-1.1zM249.9 149.5h1.1v1.1h-1.1zM263.6 140.5h1.1v1.1h-1.1zM258.7 144.6h1.1v1.1h-1.1zM246.6 150.2h1.1v1.1h-1.1zM260.6 144.2h1.1v1.1h-1.1zM246.4 150.2h1.1v1.1h-1.1zM260.8 148.1h1.1v1.1h-1.1zM249.1 149.7h1.1v1.1h-1.1zM252.0 146.5h1.1v1.1h-1.1zM258.1 147.8h1.1v1.1h-1.1zM248.5 150.0h1.1v1.1h-1.1zM249.8 146.4h1.1v1.1h-1.1zM248.7 148.8h1.1v1.1h-1.1zM251.7 145.8h1.1v1.1h-1.1zM254.1 147.6h1.1v1.1h-1.1zM253.9 147.2h1.1v1.1h-1.1zM247.2 149.8h1.1v1.1h-1.1zM253.6 146.8h1.1v1.1h-1.1zM245.2 150.4h1.1v1.1h-1.1zM250.5 149.8h1.1v1.1h-1.1zM259.3 147.0h1.1v1.1h-1.1zM247.1 150.3h1.1v1.1h-1.1zM247.0 149.5h1.1v1.1h-1.1zM265.8 143.7h1.1v1.1h-1.1zM279.0 135.9h1.1v1.1h-1.1zM257.7 145.2h1.1v1.1h-1.1zM277.3 135.3h1.1v1.1h-1.1zM245.8 150.3h1.1v1.1h-1.1zM251.1 149.3h1.1v1.1h-1.1zM253.6 149.3h1.1v1.1h-1.1zM249.0 147.9h1.1v1.1h-1.1zM255.0 148.3h1.1v1.1h-1.1zM266.8 143.6h1.1v1.1h-1.1zM249.4 149.8h1.1v1.1h-1.1zM247.7 150.0h1.1v1.1h-1.1zM258.1 145.8h1.1v1.1h-1.1zM250.7 148.1h1.1v1.1h-1.1zM250.6 149.6h1.1v1.1h-1.1zM250.1 148.9h1.1v1.1h-1.1zM248.1 150.0h1.1v1.1h-1.1zM248.2 149.1h1.1v1.1h-1.1zM254.6 148.9h1.1v1.1h-1.1zM260.6 144.4h1.1v1.1h-1.1zM256.8 144.5h1.1v1.1h-1.1zM258.2 148.3h1.1v1.1h-1.1zM249.2 149.4h1.1v1.1h-1.1zM247.0 150.1h1.1v1.1h-1.1zM246.3 150.3h1.1v1.1h-1.1zM249.8 149.4h1.1v1.1h-1.1zM246.0 150.2h1.1v1.1h-1.1zM251.6 148.3h1.1v1.1h-1.1zM264.7 144.3h1.1v1.1h-1.1zM254.2 147.9h1.1v1.1h-1.1zM257.0 145.2h1.1v1.1h-1.1zM247.6 149.4h1.1v1.1h-1.1zM254.2 146.0h1.1v1.1h-1.1zM245.7 150.3h1.1v1.1h-1.1zM278.3 113.7h1.1v1.1h-1.1zM261.7 147.8h1.1v1.1h-1.1zM253.9 149.2h1.1v1.1h-1.1zM246.4 150.4h1.1v1.1h-1.1zM261.6 140.6h1.1v1.1h-1.1zM247.9 150.3h1.1v1.1h-1.1zM262.1 144.2h1.1v1.1h-1.1zM259.1 142.9h1.1v1.1h-1.1zM256.0 148.8h1.1v1.1h-1.1zM247.4 150.1h1.1v1.1h-1.1zM255.9 147.4h1.1v1.1h-1.1zM253.0 146.9h1.1v1.1h-1.1zM250.4 149.8h1.1v1.1h-1.1zM251.2 148.5h1.1v1.1h-1.1zM247.5 149.7h1.1v1.1h-1.1zM248.7 149.5h1.1v1.1h-1.1zM256.4 146.4h1.1v1.1h-1.1zM246.5 150.0h1.1v1.1h-1.1zM258.1 145.4h1.1v1.1h-1.1zM263.7 143.4h1.1v1.1h-1.1zM266.3 143.4h1.1v1.1h-1.1zM250.7 148.3h1.1v1.1h-1.1zM256.2 147.3h1.1v1.1h-1.1zM256.7 144.9h1.1v1.1h-1.1zM245.4 150.4h1.1v1.1h-1.1zM247.5 149.5h1.1v1.1h-1.1zM262.1 146.3h1.1v1.1h-1.1zM251.8 148.5h1.1v1.1h-1.1zM253.8 147.3h1.1v1.1h-1.1zM247.5 149.8h1.1v1.1h-1.1zM263.3 137.5h1.1v1.1h-1.1zM257.1 145.4h1.1v1.1h-1.1zM254.3 145.7h1.1v1.1h-1.1zM249.9 146.8h1.1v1.1h-1.1zM256.0 144.8h1.1v1.1h-1.1zM251.6 149.4h1.1v1.1h-1.1zM259.9 148.0h1.1v1.1h-1.1zM248.4 149.4h1.1v1.1h-1.1zM248.4 149.8h1.1v1.1h-1.1zM246.9 150.1h1.1v1.1h-1.1zM258.5 146.2h1.1v1.1h-1.1zM263.5 136.0h1.1v1.1h-1.1zM268.9 131.3h1.1v1.1h-1.1zM247.9 150.1h1.1v1.1h-1.1zM246.2 150.3h1.1v1.1h-1.1zM264.5 144.1h1.1v1.1h-1.1zM249.2 150.0h1.1v1.1h-1.1zM251.4 147.9h1.1v1.1h-1.1zM245.8 150.4h1.1v1.1h-1.1zM255.0 146.4h1.1v1.1h-1.1zM250.6 144.8h1.1v1.1h-1.1zM258.6 140.7h1.1v1.1h-1.1zM247.9 149.4h1.1v1.1h-1.1zM265.9 143.9h1.1v1.1h-1.1zM255.5 148.7h1.1v1.1h-1.1zM254.4 144.7h1.1v1.1h-1.1zM261.9 145.2h1.1v1.1h-1.1zM253.0 148.0h1.1v1.1h-1.1zM251.3 149.1h1.1v1.1h-1.1zM251.4 148.6h1.1v1.1h-1.1zM251.4 143.9h1.1v1.1h-1.1zM263.3 144.6h1.1v1.1h-1.1zM259.0 146.3h1.1v1.1h-1.1zM247.3 150.0h1.1v1.1h-1.1zM247.9 149.8h1.1v1.1h-1.1zM248.4 150.1h1.1v1.1h-1.1zM249.4 150.1h1.1v1.1h-1.1zM250.5 149.4h1.1v1.1h-1.1zM256.1 147.2h1.1v1.1h-1.1zM250.7 149.5h1.1v1.1h-1.1zM249.3 149.9h1.1v1.1h-1.1zM247.2 150.2h1.1v1.1h-1.1zM251.1 149.1h1.1v1.1h-1.1zM247.7 149.9h1.1v1.1h-1.1zM271.1 146.0h1.1v1.1h-1.1zM249.9 149.6h1.1v1.1h-1.1zM248.5 149.5h1.1v1.1h-1.1zM247.7 149.9h1.1v1.1h-1.1zM249.9 149.9h1.1v1.1h-1.1zM267.0 143.3h1.1v1.1h-1.1zM274.4 137.9h1.1v1.1h-1.1zM247.6 149.7h1.1v1.1h-1.1zM247.9 150.2h1.1v1.1h-1.1zM265.8 138.6h1.1v1.1h-1.1zM253.5 148.5h1.1v1.1h-1.1zM251.0 148.7h1.1v1.1h-1.1zM248.4 149.4h1.1v1.1h-1.1zM249.3 149.8h1.1v1.1h-1.1zM261.8 146.5h1.1v1.1h-1.1zM247.8 149.9h1.1v1.1h-1.1zM254.5 146.1h1.1v1.1h-1.1zM262.7 145.6h1.1v1.1h-1.1zM250.0 149.9h1.1v1.1h-1.1zM245.6 150.4h1.1v1.1h-1.1zM274.5 134.8h1.1v1.1h-1.1zM248.8 148.9h1.1v1.1h-1.1zM245.5 150.4h1.1v1.1h-1.1zM250.1 149.4h1.1v1.1h-1.1zM248.2 149.8h1.1v1.1h-1.1zM249.5 149.5h1.1v1.1h-1.1zM248.7 150.0h1.1v1.1h-1.1zM251.3 149.2h1.1v1.1h-1.1zM246.5 150.2h1.1v1.1h-1.1zM250.6 149.0h1.1v1.1h-1.1zM251.4 148.7h1.1v1.1h-1.1zM253.8 149.0h1.1v1.1h-1.1zM256.2 147.8h1.1v1.1h-1.1zM249.8 149.7h1.1v1.1h-1.1zM253.0 146.4h1.1v1.1h-1.1zM248.1 149.0h1.1v1.1h-1.1zM246.7 150.1h1.1v1.1h-1.1zM259.2 138.9h1.1v1.1h-1.1zM267.3 143.0h1.1v1.1h-1.1zM251.1 149.1h1.1v1.1h-1.1zM266.0 146.5h1.1v1.1h-1.1zM264.5 142.1h1.1v1.1h-1.1zM264.9 144.5h1.1v1.1h-1.1zM250.7 148.9h1.1v1.1h-1.1zM265.8 140.0h1.1v1.1h-1.1zM264.1 144.2h1.1v1.1h-1.1zM255.0 148.8h1.1v1.1h-1.1zM259.8 145.4h1.1v1.1h-1.1zM261.5 144.8h1.1v1.1h-1.1zM254.6 147.5h1.1v1.1h-1.1zM249.0 149.1h1.1v1.1h-1.1zM246.0 150.3h1.1v1.1h-1.1zM249.0 149.7h1.1v1.1h-1.1zM250.8 146.6h1.1v1.1h-1.1zM252.2 146.8h1.1v1.1h-1.1zM247.3 150.1h1.1v1.1h-1.1zM263.8 146.2h1.1v1.1h-1.1zM263.2 145.1h1.1v1.1h-1.1zM277.5 132.6h1.1v1.1h-1.1zM260.6 141.7h1.1v1.1h-1.1zM251.8 143.5h1.1v1.1h-1.1zM247.0 150.1h1.1v1.1h-1.1zM250.9 148.8h1.1v1.1h-1.1zM249.1 149.7h1.1v1.1h-1.1zM245.4 150.4h1.1v1.1h-1.1zM248.0 149.9h1.1v1.1h-1.1zM257.8 148.0h1.1v1.1h-1.1zM255.8 144.4h1.1v1.1h-1.1zM251.6 148.5h1.1v1.1h-1.1zM261.7 138.1h1.1v1.1h-1.1zM246.5 150.3h1.1v1.1h-1.1zM253.2 147.7h1.1v1.1h-1.1zM250.8 148.3h1.1v1.1h-1.1zM256.3 149.1h1.1v1.1h-1.1zM255.8 148.8h1.1v1.1h-1.1zM248.1 149.5h1.1v1.1h-1.1zM262.7 143.4h1.1v1.1h-1.1zM256.7 149.0h1.1v1.1h-1.1zM254.9 148.4h1.1v1.1h-1.1zM247.6 150.2h1.1v1.1h-1.1zM259.3 146.6h1.1v1.1h-1.1zM274.3 120.7h1.1v1.1h-1.1zM264.7 144.8h1.1v1.1h-1.1zM250.1 146.6h1.1v1.1h-1.1zM253.5 148.3h1.1v1.1h-1.1zM252.7 149.0h1.1v1.1h-1.1zM250.3 147.3h1.1v1.1h-1.1zM259.5 141.8h1.1v1.1h-1.1zM253.7 144.9h1.1v1.1h-1.1zM259.4 135.7h1.1v1.1h-1.1zM253.1 146.2h1.1v1.1h-1.1zM256.9 142.7h1.1v1.1h-1.1zM249.1 150.1h1.1v1.1h-1.1zM247.9 150.1h1.1v1.1h-1.1zM250.0 148.8h1.1v1.1h-1.1zM262.5 143.0h1.1v1.1h-1.1zM263.2 140.1h1.1v1.1h-1.1zM255.0 148.0h1.1v1.1h-1.1zM245.9 150.2h1.1v1.1h-1.1zM250.6 146.0h1.1v1.1h-1.1zM251.1 148.2h1.1v1.1h-1.1zM250.8 148.0h1.1v1.1h-1.1zM245.9 150.3h1.1v1.1h-1.1zM262.6 139.3h1.1v1.1h-1.1zM249.0 149.4h1.1v1.1h-1.1zM249.5 149.6h1.1v1.1h-1.1zM279.2 132.5h1.1v1.1h-1.1zM248.0 149.8h1.1v1.1h-1.1zM248.1 150.2h1.1v1.1h-1.1zM255.1 146.7h1.1v1.1h-1.1zM255.0 147.2h1.1v1.1h-1.1zM252.8 147.9h1.1v1.1h-1.1zM258.2 147.0h1.1v1.1h-1.1zM268.4 137.7h1.1v1.1h-1.1zM259.4 143.2h1.1v1.1h-1.1zM253.1 148.8h1.1v1.1h-1.1zM248.7 149.4h1.1v1.1h-1.1zM261.0 141.3h1.1v1.1h-1.1zM254.4 146.0h1.1v1.1h-1.1zM249.9 149.7h1.1v1.1h-1.1zM252.0 149.3h1.1v1.1h-1.1zM245.9 150.3h1.1v1.1h-1.1zM247.7 150.1h1.1v1.1h-1.1zM252.3 142.3h1.1v1.1h-1.1zM261.5 146.5h1.1v1.1h-1.1zM255.5 148.2h1.1v1.1h-1.1zM258.3 143.9h1.1v1.1h-1.1zM247.6 150.1h1.1v1.1h-1.1zM248.8 150.2h1.1v1.1h-1.1zM272.0 139.7h1.1v1.1h-1.1zM249.0 149.9h1.1v1.1h-1.1zM250.4 149.4h1.1v1.1h-1.1zM246.1 150.4h1.1v1.1h-1.1zM252.8 149.1h1.1v1.1h-1.1zM245.2 150.4h1.1v1.1h-1.1zM252.8 148.3h1.1v1.1h-1.1zM259.8 147.6h1.1v1.1h-1.1zM245.8 150.4h1.1v1.1h-1.1zM262.1 146.5h1.1v1.1h-1.1zM257.0 146.2h1.1v1.1h-1.1zM252.6 148.5h1.1v1.1h-1.1zM262.1 147.3h1.1v1.1h-1.1zM250.5 148.5h1.1v1.1h-1.1zM258.5 147.4h1.1v1.1h-1.1zM271.5 136.9h1.1v1.1h-1.1zM247.4 150.2h1.1v1.1h-1.1zM260.0 144.4h1.1v1.1h-1.1zM261.4 145.0h1.1v1.1h-1.1zM250.6 149.0h1.1v1.1h-1.1zM259.9 143.7h1.1v1.1h-1.1zM262.6 142.3h1.1v1.1h-1.1zM258.0 145.8h1.1v1.1h-1.1zM251.7 148.5h1.1v1.1h-1.1zM246.2 150.4h1.1v1.1h-1.1zM260.7 145.2h1.1v1.1h-1.1zM272.8 146.9h1.1v1.1h-1.1zM252.7 149.8h1.1v1.1h-1.1zM263.3 126.8h1.1v1.1h-1.1zM279.0 119.6h1.1v1.1h-1.1zM258.1 123.2h1.1v1.1h-1.1zM267.0 125.5h1.1v1.1h-1.1zM256.9 103.8h1.1v1.1h-1.1zM259.2 123.9h1.1v1.1h-1.1zM283.1 121.8h1.1v1.1h-1.1zM264.4 101.0h1.1v1.1h-1.1zM283.4 104.6h1.1v1.1h-1.1zM279.0 113.6h1.1v1.1h-1.1zM265.3 111.8h1.1v1.1h-1.1zM257.7 103.0h1.1v1.1h-1.1zM280.6 113.0h1.1v1.1h-1.1zM274.9 109.4h1.1v1.1h-1.1zM269.4 123.3h1.1v1.1h-1.1zM274.2 111.4h1.1v1.1h-1.1zM266.4 138.2h1.1v1.1h-1.1zM254.4 127.1h1.1v1.1h-1.1zM257.1 121.4h1.1v1.1h-1.1zM254.9 134.0h1.1v1.1h-1.1zM266.2 129.9h1.1v1.1h-1.1zM261.9 126.9h1.1v1.1h-1.1zM266.1 135.2h1.1v1.1h-1.1zM256.0 122.9h1.1v1.1h-1.1zM258.2 128.3h1.1v1.1h-1.1zM266.8 132.4h1.1v1.1h-1.1zM281.1 136.9h1.1v1.1h-1.1zM260.2 127.2h1.1v1.1h-1.1zM268.3 134.5h1.1v1.1h-1.1zM267.8 122.5h1.1v1.1h-1.1zM254.9 125.9h1.1v1.1h-1.1zM270.4 122.9h1.1v1.1h-1.1zM266.2 126.7h1.1v1.1h-1.1zM280.3 132.7h1.1v1.1h-1.1zM280.8 129.3h1.1v1.1h-1.1zM267.2 138.0h1.1v1.1h-1.1zM264.9 130.0h1.1v1.1h-1.1zM254.1 122.7h1.1v1.1h-1.1zM261.5 124.1h1.1v1.1h-1.1zM265.6 136.3h1.1v1.1h-1.1zM259.3 120.4h1.1v1.1h-1.1zM269.2 126.4h1.1v1.1h-1.1zM254.8 133.9h1.1v1.1h-1.1zM279.7 133.6h1.1v1.1h-1.1zM231.0 136.6h1.1v1.1h-1.1zM235.0 129.1h1.1v1.1h-1.1zM232.7 135.9h1.1v1.1h-1.1zM234.3 137.6h1.1v1.1h-1.1zM294.1 56.5h1.1v1.1h-1.1zM325.6 56.5h1.1v1.1h-1.1zM268.8 73.0h1.1v1.1h-1.1zM278.1 77.2h1.1v1.1h-1.1zM275.1 86.5h1.1v1.1h-1.1zM278.1 86.5h1.1v1.1h-1.1zM286.4 84.5h1.1v1.1h-1.1zM259.3 94.2h1.1v1.1h-1.1zM282.3 96.0h1.1v1.1h-1.1zM261.4 109.5h1.1v1.1h-1.1zM283.1 110.2h1.1v1.1h-1.1zM204.8 118.2h1.1v1.1h-1.1zM205.8 131.4h1.1v1.1h-1.1zM214.8 130.3h1.1v1.1h-1.1zM215.9 135.6h1.1v1.1h-1.1zM209.0 138.3h1.1v1.1h-1.1zM214.8 141.4h1.1v1.1h-1.1zM223.4 125.0h1.1v1.1h-1.1zM224.9 126.2h1.1v1.1h-1.1zM226.9 128.0h1.1v1.1h-1.1zM228.9 129.6h1.1v1.1h-1.1z" fill="#000"/>
<g stroke="#222" fill="none">
<path d="M188.5 53.6V151.8H332" stroke-width="1.3"/>
<path d="M188.5 56.7h-2.5M188.5 88.4h-2.5M188.5 120.1h-2.5M188.5 151.8h-2.5M188.4 151.8v2.5M199.9 151.8v1.3M211.3 151.8v1.3M222.8 151.8v1.3M234.2 151.8v1.3M245.7 151.8v2.5M257.1 151.8v1.3M268.6 151.8v1.3M280.0 151.8v1.3M291.5 151.8v1.3M302.9 151.8v2.5M314.4 151.8v1.3M325.8 151.8v1.3" stroke-width="0.8"/>
</g>
<text x="183.9" y="61.2" font-size="6.6" fill="#333" text-anchor="end" stroke="#333" stroke-width="0.12">10<tspan font-size="4.3" dy="-3.6">−300</tspan></text>
<text x="183.9" y="92.9" font-size="6.6" fill="#333" text-anchor="end" stroke="#333" stroke-width="0.12">10<tspan font-size="4.3" dy="-3.6">−200</tspan></text>
<text x="183.9" y="124.6" font-size="6.6" fill="#333" text-anchor="end" stroke="#333" stroke-width="0.12">10<tspan font-size="4.3" dy="-3.6">−100</tspan></text>
<text x="183.9" y="156.3" font-size="6.6" fill="#333" text-anchor="end" stroke="#333" stroke-width="0.12">10<tspan font-size="4.3" dy="-3.6">0</tspan></text>
<text x="188.45" y="164.10" font-size="7.4" fill="#333" text-anchor="middle"  stroke="#333" stroke-width="0.12">−5</text>
<text x="245.70" y="164.10" font-size="7.4" fill="#333" text-anchor="middle"  stroke="#333" stroke-width="0.12">0</text>
<text x="302.95" y="164.10" font-size="7.4" fill="#333" text-anchor="middle"  stroke="#333" stroke-width="0.12">5</text>
<text x="250.01" y="176.00" font-size="9" fill="#333" textLength="21.20" lengthAdjust="spacingAndGlyphs"  stroke="#333" stroke-width="0.12">Log<tspan font-size="5.5" dy="2">2</tspan><tspan dy="-2">FC</tspan></text>
<text transform="translate(161.2 127.2) rotate(-90)" font-size="9" fill="#333" textLength="50" lengthAdjust="spacingAndGlyphs" stroke="#333" stroke-width="0.12">Adjusted <tspan font-style="italic">P</tspan> value</text>
<text x="287.70" y="62.60" font-size="7.2" fill="#333" textLength="43.30" lengthAdjust="spacingAndGlyphs"  stroke="#333" stroke-width="0.12">TREM2 SPARC</text>
<text x="286.40" y="78.00" font-size="7.2" fill="#333" textLength="7.50" lengthAdjust="spacingAndGlyphs"  stroke="#333" stroke-width="0.12">C3</text>
<text x="299.00" y="80.80" font-size="7.2" fill="#333" textLength="20.00" lengthAdjust="spacingAndGlyphs"  stroke="#333" stroke-width="0.12">IL17RE</text>
<text x="291.30" y="94.80" font-size="7.2" fill="#333" textLength="22.30" lengthAdjust="spacingAndGlyphs"  stroke="#333" stroke-width="0.12">S100A9</text>
<text x="280.20" y="102.00" font-size="7.2" fill="#333" textLength="29.30" lengthAdjust="spacingAndGlyphs"  stroke="#333" stroke-width="0.12">SERPINB2</text>
<text x="300.30" y="118.00" font-size="7.2" fill="#333" textLength="25.50" lengthAdjust="spacingAndGlyphs"  stroke="#333" stroke-width="0.12">SIGLEC1</text>
<text x="294.00" y="127.90" font-size="7.2" fill="#333" textLength="28.00" lengthAdjust="spacingAndGlyphs"  stroke="#333" stroke-width="0.12">SIGLEC11</text>
<text x="288.00" y="136.70" font-size="7.2" fill="#333" textLength="20.60" lengthAdjust="spacingAndGlyphs"  stroke="#333" stroke-width="0.12">ABCA1</text>
<text x="194.80" y="115.40" font-size="7.2" fill="#333" textLength="15.30" lengthAdjust="spacingAndGlyphs"  stroke="#333" stroke-width="0.12">IGLL1</text>
<text x="191.90" y="129.80" font-size="7.2" fill="#333" textLength="23.00" lengthAdjust="spacingAndGlyphs"  stroke="#333" stroke-width="0.12">MMP15</text>
<text x="196.90" y="144.80" font-size="7.2" fill="#333" textLength="16.40" lengthAdjust="spacingAndGlyphs"  stroke="#333" stroke-width="0.12">IL2RA</text>
<path d="M298.5 79.6L290.8 86.5M289 105L287 112M290 117L299 116.5M285 113L294 125M284 125L289 131M283 131.5L283.3 134" stroke="#333" stroke-width="0.6" fill="none"/>
<text x="403.80" y="45.00" font-size="8" fill="#222" textLength="71.10" lengthAdjust="spacingAndGlyphs"  stroke="#222" stroke-width="0.12">Mezigdomide 50 nM</text>
<path d="M418.9 149.8h1.1v1.1h-1.1zM422.1 149.7h1.1v1.1h-1.1zM423.6 150.4h1.1v1.1h-1.1zM402.1 138.0h1.1v1.1h-1.1zM420.1 149.9h1.1v1.1h-1.1zM404.0 140.6h1.1v1.1h-1.1zM415.5 149.5h1.1v1.1h-1.1zM418.4 149.2h1.1v1.1h-1.1zM416.3 148.7h1.1v1.1h-1.1zM416.3 149.5h1.1v1.1h-1.1zM421.3 149.9h1.1v1.1h-1.1zM419.1 149.6h1.1v1.1h-1.1zM421.2 150.0h1.1v1.1h-1.1zM409.8 143.8h1.1v1.1h-1.1zM418.6 147.8h1.1v1.1h-1.1zM422.0 150.1h1.1v1.1h-1.1zM417.3 147.0h1.1v1.1h-1.1zM419.2 148.5h1.1v1.1h-1.1zM421.2 149.6h1.1v1.1h-1.1zM421.7 149.4h1.1v1.1h-1.1zM421.4 150.2h1.1v1.1h-1.1zM420.8 149.0h1.1v1.1h-1.1zM418.3 148.7h1.1v1.1h-1.1zM423.3 150.4h1.1v1.1h-1.1zM411.4 146.9h1.1v1.1h-1.1zM423.7 150.4h1.1v1.1h-1.1zM411.7 143.3h1.1v1.1h-1.1zM416.9 147.7h1.1v1.1h-1.1zM423.7 150.4h1.1v1.1h-1.1zM397.4 145.9h1.1v1.1h-1.1zM414.7 147.8h1.1v1.1h-1.1zM408.7 143.5h1.1v1.1h-1.1zM420.1 149.9h1.1v1.1h-1.1zM407.0 141.3h1.1v1.1h-1.1zM404.8 141.2h1.1v1.1h-1.1zM412.6 146.0h1.1v1.1h-1.1zM418.7 149.6h1.1v1.1h-1.1zM424.1 150.4h1.1v1.1h-1.1zM418.6 148.2h1.1v1.1h-1.1zM405.7 137.3h1.1v1.1h-1.1zM414.4 147.1h1.1v1.1h-1.1zM416.0 149.4h1.1v1.1h-1.1zM421.3 149.8h1.1v1.1h-1.1zM423.4 150.3h1.1v1.1h-1.1zM406.4 144.9h1.1v1.1h-1.1zM413.0 148.7h1.1v1.1h-1.1zM413.2 146.1h1.1v1.1h-1.1zM421.7 149.8h1.1v1.1h-1.1zM414.3 149.1h1.1v1.1h-1.1zM411.5 147.9h1.1v1.1h-1.1zM420.4 150.1h1.1v1.1h-1.1zM422.0 150.0h1.1v1.1h-1.1zM408.8 145.0h1.1v1.1h-1.1zM412.4 141.5h1.1v1.1h-1.1zM408.0 147.3h1.1v1.1h-1.1zM421.4 149.4h1.1v1.1h-1.1zM418.8 149.4h1.1v1.1h-1.1zM415.3 147.7h1.1v1.1h-1.1zM423.1 150.4h1.1v1.1h-1.1zM418.7 149.2h1.1v1.1h-1.1zM423.4 150.4h1.1v1.1h-1.1zM417.0 148.8h1.1v1.1h-1.1zM423.2 150.3h1.1v1.1h-1.1zM414.8 147.1h1.1v1.1h-1.1zM412.9 145.3h1.1v1.1h-1.1zM414.8 147.9h1.1v1.1h-1.1zM402.6 145.8h1.1v1.1h-1.1zM422.8 150.1h1.1v1.1h-1.1zM418.6 149.1h1.1v1.1h-1.1zM410.4 147.4h1.1v1.1h-1.1zM411.7 142.6h1.1v1.1h-1.1zM419.5 149.2h1.1v1.1h-1.1zM415.7 147.1h1.1v1.1h-1.1zM399.5 146.9h1.1v1.1h-1.1zM418.4 149.5h1.1v1.1h-1.1zM418.5 146.4h1.1v1.1h-1.1zM420.7 149.5h1.1v1.1h-1.1zM420.1 149.3h1.1v1.1h-1.1zM422.9 150.3h1.1v1.1h-1.1zM419.6 149.5h1.1v1.1h-1.1zM407.7 143.9h1.1v1.1h-1.1zM422.0 150.1h1.1v1.1h-1.1zM419.3 149.4h1.1v1.1h-1.1zM413.4 149.3h1.1v1.1h-1.1zM414.3 148.7h1.1v1.1h-1.1zM408.6 146.6h1.1v1.1h-1.1zM418.4 148.6h1.1v1.1h-1.1zM408.7 143.9h1.1v1.1h-1.1zM417.5 148.8h1.1v1.1h-1.1zM416.5 149.1h1.1v1.1h-1.1zM420.7 150.0h1.1v1.1h-1.1zM409.9 145.4h1.1v1.1h-1.1zM421.7 150.2h1.1v1.1h-1.1zM419.8 149.6h1.1v1.1h-1.1zM415.0 148.4h1.1v1.1h-1.1zM416.9 148.8h1.1v1.1h-1.1zM410.5 140.1h1.1v1.1h-1.1zM419.7 149.6h1.1v1.1h-1.1zM421.0 149.5h1.1v1.1h-1.1zM416.8 146.0h1.1v1.1h-1.1zM409.3 144.3h1.1v1.1h-1.1zM414.2 147.7h1.1v1.1h-1.1zM420.6 150.1h1.1v1.1h-1.1zM423.9 150.4h1.1v1.1h-1.1zM421.9 150.2h1.1v1.1h-1.1zM419.0 150.1h1.1v1.1h-1.1zM418.4 148.1h1.1v1.1h-1.1zM419.1 149.9h1.1v1.1h-1.1zM423.9 150.4h1.1v1.1h-1.1zM410.4 147.6h1.1v1.1h-1.1zM408.6 147.9h1.1v1.1h-1.1zM420.4 150.2h1.1v1.1h-1.1zM406.0 143.9h1.1v1.1h-1.1zM422.4 150.1h1.1v1.1h-1.1zM405.8 141.3h1.1v1.1h-1.1zM419.9 149.6h1.1v1.1h-1.1zM419.8 149.7h1.1v1.1h-1.1zM418.6 149.5h1.1v1.1h-1.1zM423.9 150.4h1.1v1.1h-1.1zM407.1 141.9h1.1v1.1h-1.1zM412.9 148.0h1.1v1.1h-1.1zM418.2 148.8h1.1v1.1h-1.1zM419.7 150.0h1.1v1.1h-1.1zM411.4 145.6h1.1v1.1h-1.1zM419.3 149.9h1.1v1.1h-1.1zM415.4 148.4h1.1v1.1h-1.1zM415.5 148.5h1.1v1.1h-1.1zM418.2 150.1h1.1v1.1h-1.1zM409.7 144.1h1.1v1.1h-1.1zM416.2 148.5h1.1v1.1h-1.1zM421.8 150.2h1.1v1.1h-1.1zM422.8 150.3h1.1v1.1h-1.1zM423.3 150.4h1.1v1.1h-1.1zM423.9 150.4h1.1v1.1h-1.1zM413.0 146.5h1.1v1.1h-1.1zM413.2 147.2h1.1v1.1h-1.1zM420.3 149.4h1.1v1.1h-1.1zM412.2 146.6h1.1v1.1h-1.1zM419.2 149.9h1.1v1.1h-1.1zM421.3 150.2h1.1v1.1h-1.1zM423.7 150.4h1.1v1.1h-1.1zM411.3 145.8h1.1v1.1h-1.1zM417.8 149.0h1.1v1.1h-1.1zM399.5 146.2h1.1v1.1h-1.1zM412.5 148.2h1.1v1.1h-1.1zM423.5 150.4h1.1v1.1h-1.1zM408.8 143.7h1.1v1.1h-1.1zM420.2 149.9h1.1v1.1h-1.1zM420.3 150.1h1.1v1.1h-1.1zM422.5 150.3h1.1v1.1h-1.1zM418.8 149.0h1.1v1.1h-1.1zM420.2 148.6h1.1v1.1h-1.1zM414.8 148.6h1.1v1.1h-1.1zM406.1 139.7h1.1v1.1h-1.1zM417.9 149.3h1.1v1.1h-1.1zM420.6 149.9h1.1v1.1h-1.1zM422.6 150.3h1.1v1.1h-1.1zM420.5 149.3h1.1v1.1h-1.1zM423.7 150.4h1.1v1.1h-1.1zM411.5 144.3h1.1v1.1h-1.1zM419.8 149.7h1.1v1.1h-1.1zM423.8 150.3h1.1v1.1h-1.1zM411.0 146.0h1.1v1.1h-1.1zM413.5 147.4h1.1v1.1h-1.1zM421.9 150.2h1.1v1.1h-1.1zM409.4 141.2h1.1v1.1h-1.1zM416.1 148.0h1.1v1.1h-1.1zM411.6 146.6h1.1v1.1h-1.1zM419.5 149.4h1.1v1.1h-1.1zM423.0 150.3h1.1v1.1h-1.1zM415.2 148.6h1.1v1.1h-1.1zM405.7 143.0h1.1v1.1h-1.1zM422.2 150.2h1.1v1.1h-1.1zM415.9 148.5h1.1v1.1h-1.1zM411.0 136.9h1.1v1.1h-1.1zM410.8 146.7h1.1v1.1h-1.1zM410.5 146.9h1.1v1.1h-1.1zM419.3 148.7h1.1v1.1h-1.1zM418.8 149.7h1.1v1.1h-1.1zM415.2 145.3h1.1v1.1h-1.1zM421.5 149.9h1.1v1.1h-1.1zM421.6 150.2h1.1v1.1h-1.1zM421.9 150.1h1.1v1.1h-1.1zM416.9 149.2h1.1v1.1h-1.1zM422.6 150.1h1.1v1.1h-1.1zM416.4 148.9h1.1v1.1h-1.1zM420.9 149.5h1.1v1.1h-1.1zM413.0 149.3h1.1v1.1h-1.1zM397.1 142.5h1.1v1.1h-1.1zM421.0 149.6h1.1v1.1h-1.1zM408.0 143.6h1.1v1.1h-1.1zM415.9 148.2h1.1v1.1h-1.1zM410.4 144.1h1.1v1.1h-1.1zM422.8 150.1h1.1v1.1h-1.1zM412.9 147.2h1.1v1.1h-1.1zM419.3 149.2h1.1v1.1h-1.1zM409.7 143.1h1.1v1.1h-1.1zM406.7 144.1h1.1v1.1h-1.1zM415.1 149.8h1.1v1.1h-1.1zM407.9 148.2h1.1v1.1h-1.1zM419.1 149.6h1.1v1.1h-1.1zM420.1 149.2h1.1v1.1h-1.1zM418.6 149.1h1.1v1.1h-1.1zM416.3 147.6h1.1v1.1h-1.1zM407.9 141.4h1.1v1.1h-1.1zM418.0 148.5h1.1v1.1h-1.1zM419.7 149.9h1.1v1.1h-1.1zM414.7 146.4h1.1v1.1h-1.1zM409.9 148.3h1.1v1.1h-1.1zM423.0 150.4h1.1v1.1h-1.1zM405.3 145.5h1.1v1.1h-1.1zM422.6 150.4h1.1v1.1h-1.1zM414.4 143.8h1.1v1.1h-1.1zM423.6 150.2h1.1v1.1h-1.1zM419.3 149.5h1.1v1.1h-1.1zM415.6 148.6h1.1v1.1h-1.1zM406.2 148.6h1.1v1.1h-1.1zM423.6 150.4h1.1v1.1h-1.1zM410.0 147.6h1.1v1.1h-1.1zM412.5 148.7h1.1v1.1h-1.1zM414.8 149.3h1.1v1.1h-1.1zM422.1 150.1h1.1v1.1h-1.1zM419.6 149.6h1.1v1.1h-1.1zM414.5 148.1h1.1v1.1h-1.1zM423.7 150.4h1.1v1.1h-1.1zM421.4 150.3h1.1v1.1h-1.1zM420.4 148.8h1.1v1.1h-1.1zM413.3 145.8h1.1v1.1h-1.1zM415.4 148.8h1.1v1.1h-1.1zM417.6 149.7h1.1v1.1h-1.1zM415.9 149.3h1.1v1.1h-1.1zM416.1 147.5h1.1v1.1h-1.1zM417.3 148.3h1.1v1.1h-1.1zM419.8 149.4h1.1v1.1h-1.1zM418.9 148.2h1.1v1.1h-1.1zM420.3 149.9h1.1v1.1h-1.1zM420.7 149.0h1.1v1.1h-1.1zM413.6 147.3h1.1v1.1h-1.1zM420.0 149.9h1.1v1.1h-1.1zM418.2 148.7h1.1v1.1h-1.1zM415.2 147.7h1.1v1.1h-1.1zM420.6 150.0h1.1v1.1h-1.1zM417.1 145.9h1.1v1.1h-1.1zM421.7 150.3h1.1v1.1h-1.1zM410.0 145.6h1.1v1.1h-1.1zM408.0 144.2h1.1v1.1h-1.1zM423.8 150.4h1.1v1.1h-1.1zM414.3 147.7h1.1v1.1h-1.1zM421.6 149.5h1.1v1.1h-1.1zM401.2 146.2h1.1v1.1h-1.1zM408.3 147.8h1.1v1.1h-1.1zM413.4 148.0h1.1v1.1h-1.1zM422.8 150.2h1.1v1.1h-1.1zM421.9 149.8h1.1v1.1h-1.1zM418.8 148.8h1.1v1.1h-1.1zM424.0 150.4h1.1v1.1h-1.1zM422.0 149.8h1.1v1.1h-1.1zM417.4 148.0h1.1v1.1h-1.1zM412.4 144.6h1.1v1.1h-1.1zM405.3 148.0h1.1v1.1h-1.1zM414.6 149.5h1.1v1.1h-1.1zM413.3 148.4h1.1v1.1h-1.1zM423.5 150.4h1.1v1.1h-1.1zM416.0 148.4h1.1v1.1h-1.1zM422.4 150.3h1.1v1.1h-1.1zM405.0 147.0h1.1v1.1h-1.1zM410.0 145.2h1.1v1.1h-1.1zM420.2 150.2h1.1v1.1h-1.1zM416.0 149.4h1.1v1.1h-1.1zM421.0 149.9h1.1v1.1h-1.1zM412.3 145.5h1.1v1.1h-1.1zM416.0 148.1h1.1v1.1h-1.1zM423.4 150.2h1.1v1.1h-1.1zM418.2 148.9h1.1v1.1h-1.1zM415.6 147.3h1.1v1.1h-1.1zM412.7 145.6h1.1v1.1h-1.1zM410.5 146.4h1.1v1.1h-1.1zM418.6 149.9h1.1v1.1h-1.1zM414.6 148.4h1.1v1.1h-1.1zM409.9 146.8h1.1v1.1h-1.1zM422.8 150.3h1.1v1.1h-1.1zM409.7 144.4h1.1v1.1h-1.1zM414.5 148.6h1.1v1.1h-1.1zM423.6 150.4h1.1v1.1h-1.1zM417.1 148.8h1.1v1.1h-1.1zM418.1 149.7h1.1v1.1h-1.1zM423.3 150.3h1.1v1.1h-1.1zM410.6 149.5h1.1v1.1h-1.1zM416.0 149.7h1.1v1.1h-1.1zM411.8 147.0h1.1v1.1h-1.1zM412.5 146.9h1.1v1.1h-1.1zM416.3 148.5h1.1v1.1h-1.1zM422.2 149.7h1.1v1.1h-1.1zM415.2 148.5h1.1v1.1h-1.1zM417.5 149.3h1.1v1.1h-1.1zM411.0 144.6h1.1v1.1h-1.1zM416.4 148.9h1.1v1.1h-1.1zM423.0 150.3h1.1v1.1h-1.1zM411.2 143.3h1.1v1.1h-1.1zM420.6 149.8h1.1v1.1h-1.1zM418.6 149.3h1.1v1.1h-1.1zM415.5 148.9h1.1v1.1h-1.1zM405.9 143.4h1.1v1.1h-1.1zM403.7 141.2h1.1v1.1h-1.1zM423.9 150.4h1.1v1.1h-1.1zM418.3 148.6h1.1v1.1h-1.1zM419.6 147.7h1.1v1.1h-1.1zM415.0 147.9h1.1v1.1h-1.1zM412.6 147.0h1.1v1.1h-1.1zM417.4 149.1h1.1v1.1h-1.1zM423.5 150.3h1.1v1.1h-1.1zM419.4 149.4h1.1v1.1h-1.1zM414.6 148.3h1.1v1.1h-1.1zM399.4 146.2h1.1v1.1h-1.1zM423.4 150.4h1.1v1.1h-1.1zM416.4 147.4h1.1v1.1h-1.1zM423.7 150.4h1.1v1.1h-1.1zM423.3 150.4h1.1v1.1h-1.1zM414.5 148.9h1.1v1.1h-1.1zM419.6 149.8h1.1v1.1h-1.1zM420.0 149.6h1.1v1.1h-1.1zM422.3 150.2h1.1v1.1h-1.1zM415.9 148.2h1.1v1.1h-1.1zM417.1 148.5h1.1v1.1h-1.1zM418.5 147.8h1.1v1.1h-1.1zM421.7 150.1h1.1v1.1h-1.1zM421.0 149.7h1.1v1.1h-1.1zM422.8 150.3h1.1v1.1h-1.1zM416.9 148.5h1.1v1.1h-1.1zM423.1 150.3h1.1v1.1h-1.1zM399.9 145.9h1.1v1.1h-1.1zM419.8 149.3h1.1v1.1h-1.1zM417.6 147.6h1.1v1.1h-1.1zM408.2 147.5h1.1v1.1h-1.1zM423.6 150.4h1.1v1.1h-1.1zM416.9 148.7h1.1v1.1h-1.1zM419.8 150.2h1.1v1.1h-1.1zM419.7 148.4h1.1v1.1h-1.1zM423.8 150.4h1.1v1.1h-1.1zM421.4 149.6h1.1v1.1h-1.1zM416.6 149.3h1.1v1.1h-1.1zM411.5 149.5h1.1v1.1h-1.1zM421.0 149.9h1.1v1.1h-1.1zM424.1 150.4h1.1v1.1h-1.1zM420.6 149.8h1.1v1.1h-1.1zM416.3 148.9h1.1v1.1h-1.1zM423.1 150.2h1.1v1.1h-1.1zM410.0 143.9h1.1v1.1h-1.1zM413.8 147.6h1.1v1.1h-1.1zM421.2 150.0h1.1v1.1h-1.1zM422.9 149.8h1.1v1.1h-1.1zM417.0 147.7h1.1v1.1h-1.1zM417.9 148.9h1.1v1.1h-1.1zM423.2 150.4h1.1v1.1h-1.1zM417.7 149.8h1.1v1.1h-1.1zM421.6 150.4h1.1v1.1h-1.1zM416.6 148.8h1.1v1.1h-1.1zM413.9 147.2h1.1v1.1h-1.1zM418.7 149.3h1.1v1.1h-1.1zM416.6 148.6h1.1v1.1h-1.1zM422.1 150.1h1.1v1.1h-1.1zM414.3 146.3h1.1v1.1h-1.1zM405.9 148.2h1.1v1.1h-1.1zM422.5 150.3h1.1v1.1h-1.1zM423.4 150.3h1.1v1.1h-1.1zM417.1 148.4h1.1v1.1h-1.1zM416.3 147.9h1.1v1.1h-1.1zM412.4 148.5h1.1v1.1h-1.1zM415.5 145.3h1.1v1.1h-1.1zM424.0 150.4h1.1v1.1h-1.1zM423.5 150.4h1.1v1.1h-1.1zM420.4 150.0h1.1v1.1h-1.1zM411.6 146.4h1.1v1.1h-1.1zM421.6 150.0h1.1v1.1h-1.1zM418.2 149.1h1.1v1.1h-1.1zM406.3 136.4h1.1v1.1h-1.1zM412.1 143.8h1.1v1.1h-1.1zM408.9 145.7h1.1v1.1h-1.1zM421.3 150.1h1.1v1.1h-1.1zM410.3 147.1h1.1v1.1h-1.1zM411.7 146.0h1.1v1.1h-1.1zM413.8 149.8h1.1v1.1h-1.1zM412.9 146.6h1.1v1.1h-1.1zM417.5 149.0h1.1v1.1h-1.1zM414.5 142.0h1.1v1.1h-1.1zM423.7 150.4h1.1v1.1h-1.1zM417.1 148.8h1.1v1.1h-1.1zM409.8 145.9h1.1v1.1h-1.1zM423.4 150.4h1.1v1.1h-1.1zM401.7 145.0h1.1v1.1h-1.1zM410.1 146.2h1.1v1.1h-1.1zM414.4 149.5h1.1v1.1h-1.1zM418.5 149.1h1.1v1.1h-1.1zM412.8 149.1h1.1v1.1h-1.1zM420.6 150.0h1.1v1.1h-1.1zM413.0 148.3h1.1v1.1h-1.1zM420.0 149.1h1.1v1.1h-1.1zM406.6 136.8h1.1v1.1h-1.1zM417.9 147.1h1.1v1.1h-1.1zM411.6 147.5h1.1v1.1h-1.1zM414.3 148.0h1.1v1.1h-1.1zM414.8 147.8h1.1v1.1h-1.1zM424.1 150.4h1.1v1.1h-1.1zM422.2 149.8h1.1v1.1h-1.1zM405.0 141.0h1.1v1.1h-1.1zM422.2 150.1h1.1v1.1h-1.1zM416.3 144.6h1.1v1.1h-1.1zM407.4 141.5h1.1v1.1h-1.1zM419.1 147.3h1.1v1.1h-1.1zM417.0 148.7h1.1v1.1h-1.1zM408.2 143.4h1.1v1.1h-1.1zM414.7 147.3h1.1v1.1h-1.1zM423.9 150.4h1.1v1.1h-1.1zM424.1 150.4h1.1v1.1h-1.1zM415.3 147.7h1.1v1.1h-1.1zM416.6 149.6h1.1v1.1h-1.1zM419.3 149.1h1.1v1.1h-1.1zM412.7 141.7h1.1v1.1h-1.1zM418.5 147.9h1.1v1.1h-1.1zM420.9 149.7h1.1v1.1h-1.1zM414.7 148.2h1.1v1.1h-1.1zM415.3 146.7h1.1v1.1h-1.1zM416.5 149.3h1.1v1.1h-1.1zM421.6 150.2h1.1v1.1h-1.1zM420.4 150.1h1.1v1.1h-1.1zM416.1 147.8h1.1v1.1h-1.1zM418.2 149.8h1.1v1.1h-1.1zM412.3 145.6h1.1v1.1h-1.1zM424.0 150.4h1.1v1.1h-1.1zM417.4 148.0h1.1v1.1h-1.1zM415.4 148.2h1.1v1.1h-1.1zM417.1 148.2h1.1v1.1h-1.1zM421.5 150.2h1.1v1.1h-1.1zM400.6 140.8h1.1v1.1h-1.1zM422.7 149.9h1.1v1.1h-1.1zM409.6 140.2h1.1v1.1h-1.1zM418.0 149.8h1.1v1.1h-1.1zM409.2 145.9h1.1v1.1h-1.1zM421.8 150.1h1.1v1.1h-1.1zM419.5 148.7h1.1v1.1h-1.1zM403.2 141.9h1.1v1.1h-1.1zM412.2 147.1h1.1v1.1h-1.1zM414.1 148.4h1.1v1.1h-1.1zM420.0 149.5h1.1v1.1h-1.1zM416.7 148.7h1.1v1.1h-1.1zM421.8 150.0h1.1v1.1h-1.1zM416.5 148.6h1.1v1.1h-1.1zM420.9 150.1h1.1v1.1h-1.1zM423.8 150.4h1.1v1.1h-1.1zM412.4 146.0h1.1v1.1h-1.1zM413.7 147.1h1.1v1.1h-1.1zM420.2 149.5h1.1v1.1h-1.1zM423.5 150.3h1.1v1.1h-1.1zM421.7 149.6h1.1v1.1h-1.1zM423.0 150.0h1.1v1.1h-1.1zM423.4 150.3h1.1v1.1h-1.1zM415.4 146.7h1.1v1.1h-1.1zM418.6 149.1h1.1v1.1h-1.1zM414.4 148.9h1.1v1.1h-1.1zM415.2 149.2h1.1v1.1h-1.1zM411.9 145.6h1.1v1.1h-1.1zM406.7 144.2h1.1v1.1h-1.1zM406.5 142.5h1.1v1.1h-1.1zM420.6 150.2h1.1v1.1h-1.1zM419.2 149.5h1.1v1.1h-1.1zM417.0 148.5h1.1v1.1h-1.1zM409.3 146.7h1.1v1.1h-1.1zM422.9 150.3h1.1v1.1h-1.1zM420.5 150.2h1.1v1.1h-1.1zM408.5 145.8h1.1v1.1h-1.1zM408.3 140.6h1.1v1.1h-1.1zM407.7 147.7h1.1v1.1h-1.1zM410.4 144.9h1.1v1.1h-1.1zM418.0 149.5h1.1v1.1h-1.1zM421.4 149.9h1.1v1.1h-1.1zM421.7 149.5h1.1v1.1h-1.1zM412.0 146.8h1.1v1.1h-1.1zM418.7 148.9h1.1v1.1h-1.1zM418.6 148.6h1.1v1.1h-1.1zM423.4 150.4h1.1v1.1h-1.1zM418.3 147.8h1.1v1.1h-1.1zM420.7 150.2h1.1v1.1h-1.1zM405.9 145.4h1.1v1.1h-1.1zM418.2 150.0h1.1v1.1h-1.1zM419.2 150.0h1.1v1.1h-1.1zM411.2 146.6h1.1v1.1h-1.1zM423.8 150.4h1.1v1.1h-1.1zM419.5 149.6h1.1v1.1h-1.1zM420.8 149.1h1.1v1.1h-1.1zM418.3 148.6h1.1v1.1h-1.1zM419.1 149.4h1.1v1.1h-1.1zM422.5 150.2h1.1v1.1h-1.1zM421.8 150.3h1.1v1.1h-1.1zM410.2 146.3h1.1v1.1h-1.1zM414.0 148.3h1.1v1.1h-1.1zM420.9 149.6h1.1v1.1h-1.1zM422.0 150.1h1.1v1.1h-1.1zM421.5 150.1h1.1v1.1h-1.1zM416.2 149.8h1.1v1.1h-1.1zM416.6 147.6h1.1v1.1h-1.1zM415.2 148.8h1.1v1.1h-1.1zM422.8 150.4h1.1v1.1h-1.1zM396.5 137.8h1.1v1.1h-1.1zM411.5 149.2h1.1v1.1h-1.1zM422.5 150.3h1.1v1.1h-1.1zM417.8 150.0h1.1v1.1h-1.1zM418.4 149.3h1.1v1.1h-1.1zM413.6 149.3h1.1v1.1h-1.1zM420.4 146.7h1.1v1.1h-1.1zM418.6 148.1h1.1v1.1h-1.1zM413.4 146.6h1.1v1.1h-1.1zM422.4 150.1h1.1v1.1h-1.1zM418.2 148.5h1.1v1.1h-1.1zM421.4 149.7h1.1v1.1h-1.1zM420.4 149.6h1.1v1.1h-1.1zM421.5 150.2h1.1v1.1h-1.1zM414.8 147.8h1.1v1.1h-1.1zM423.8 150.4h1.1v1.1h-1.1zM415.9 148.7h1.1v1.1h-1.1zM410.3 145.4h1.1v1.1h-1.1zM410.2 148.2h1.1v1.1h-1.1zM417.0 148.2h1.1v1.1h-1.1zM421.1 150.0h1.1v1.1h-1.1zM422.2 149.2h1.1v1.1h-1.1zM415.2 148.6h1.1v1.1h-1.1zM421.7 149.9h1.1v1.1h-1.1zM418.0 148.4h1.1v1.1h-1.1zM412.4 146.9h1.1v1.1h-1.1zM414.4 147.3h1.1v1.1h-1.1zM420.4 149.8h1.1v1.1h-1.1zM397.5 140.1h1.1v1.1h-1.1zM414.7 147.7h1.1v1.1h-1.1zM408.7 142.9h1.1v1.1h-1.1zM422.1 149.7h1.1v1.1h-1.1zM413.3 147.5h1.1v1.1h-1.1zM420.7 148.9h1.1v1.1h-1.1zM418.5 149.2h1.1v1.1h-1.1zM418.5 149.7h1.1v1.1h-1.1zM424.1 150.4h1.1v1.1h-1.1zM416.2 149.0h1.1v1.1h-1.1zM405.9 145.1h1.1v1.1h-1.1zM417.2 148.7h1.1v1.1h-1.1zM417.5 148.6h1.1v1.1h-1.1zM421.9 149.7h1.1v1.1h-1.1zM415.3 146.9h1.1v1.1h-1.1zM408.2 146.4h1.1v1.1h-1.1zM415.8 147.5h1.1v1.1h-1.1zM423.6 150.4h1.1v1.1h-1.1zM417.0 147.7h1.1v1.1h-1.1zM419.8 148.6h1.1v1.1h-1.1zM408.9 145.9h1.1v1.1h-1.1zM410.7 144.2h1.1v1.1h-1.1zM415.3 145.3h1.1v1.1h-1.1zM416.5 148.0h1.1v1.1h-1.1zM418.6 149.7h1.1v1.1h-1.1zM417.4 148.9h1.1v1.1h-1.1zM412.5 148.4h1.1v1.1h-1.1zM412.1 144.3h1.1v1.1h-1.1zM417.6 148.6h1.1v1.1h-1.1zM422.8 150.2h1.1v1.1h-1.1zM423.0 150.0h1.1v1.1h-1.1zM418.4 148.4h1.1v1.1h-1.1zM419.4 149.3h1.1v1.1h-1.1zM421.4 150.3h1.1v1.1h-1.1zM413.7 148.2h1.1v1.1h-1.1zM419.5 149.8h1.1v1.1h-1.1zM422.3 150.2h1.1v1.1h-1.1zM404.3 147.0h1.1v1.1h-1.1zM422.2 150.0h1.1v1.1h-1.1zM417.9 147.4h1.1v1.1h-1.1zM417.4 149.1h1.1v1.1h-1.1zM422.5 150.3h1.1v1.1h-1.1zM412.5 146.8h1.1v1.1h-1.1zM419.1 149.4h1.1v1.1h-1.1zM410.5 143.3h1.1v1.1h-1.1zM421.9 150.1h1.1v1.1h-1.1zM418.6 149.6h1.1v1.1h-1.1zM417.1 149.6h1.1v1.1h-1.1zM411.9 146.8h1.1v1.1h-1.1zM417.0 149.9h1.1v1.1h-1.1zM414.2 148.9h1.1v1.1h-1.1zM417.2 147.9h1.1v1.1h-1.1zM423.3 150.3h1.1v1.1h-1.1zM424.1 150.4h1.1v1.1h-1.1zM408.7 146.1h1.1v1.1h-1.1zM416.5 149.5h1.1v1.1h-1.1zM415.6 148.6h1.1v1.1h-1.1zM414.0 146.8h1.1v1.1h-1.1zM418.2 148.6h1.1v1.1h-1.1zM417.2 149.5h1.1v1.1h-1.1zM418.4 149.0h1.1v1.1h-1.1zM417.0 147.5h1.1v1.1h-1.1zM415.0 147.6h1.1v1.1h-1.1zM421.2 149.1h1.1v1.1h-1.1zM416.2 148.4h1.1v1.1h-1.1zM413.7 149.3h1.1v1.1h-1.1zM414.8 147.9h1.1v1.1h-1.1zM408.0 144.8h1.1v1.1h-1.1zM423.9 150.4h1.1v1.1h-1.1zM420.4 149.4h1.1v1.1h-1.1zM408.3 138.8h1.1v1.1h-1.1zM422.6 150.1h1.1v1.1h-1.1zM419.2 149.2h1.1v1.1h-1.1zM422.1 150.2h1.1v1.1h-1.1zM410.9 146.9h1.1v1.1h-1.1zM414.9 145.3h1.1v1.1h-1.1zM419.5 147.5h1.1v1.1h-1.1zM421.0 149.7h1.1v1.1h-1.1zM412.9 146.8h1.1v1.1h-1.1zM418.0 149.1h1.1v1.1h-1.1zM420.6 149.6h1.1v1.1h-1.1zM412.2 146.8h1.1v1.1h-1.1zM415.4 148.7h1.1v1.1h-1.1zM419.0 148.5h1.1v1.1h-1.1zM424.1 150.4h1.1v1.1h-1.1zM420.4 149.6h1.1v1.1h-1.1zM413.9 147.3h1.1v1.1h-1.1zM411.6 145.0h1.1v1.1h-1.1zM422.7 150.2h1.1v1.1h-1.1zM405.9 146.8h1.1v1.1h-1.1zM417.8 149.0h1.1v1.1h-1.1zM416.7 149.4h1.1v1.1h-1.1zM414.9 148.4h1.1v1.1h-1.1zM420.2 149.9h1.1v1.1h-1.1zM421.8 148.8h1.1v1.1h-1.1zM416.7 149.9h1.1v1.1h-1.1zM416.4 149.4h1.1v1.1h-1.1zM418.7 148.0h1.1v1.1h-1.1zM416.1 148.6h1.1v1.1h-1.1zM421.6 150.2h1.1v1.1h-1.1zM410.4 144.5h1.1v1.1h-1.1zM419.0 146.7h1.1v1.1h-1.1zM416.6 148.5h1.1v1.1h-1.1zM422.1 149.9h1.1v1.1h-1.1zM420.1 150.0h1.1v1.1h-1.1zM421.4 150.1h1.1v1.1h-1.1zM397.8 139.5h1.1v1.1h-1.1zM415.5 147.9h1.1v1.1h-1.1zM404.4 145.8h1.1v1.1h-1.1zM411.7 147.8h1.1v1.1h-1.1zM416.3 149.0h1.1v1.1h-1.1zM414.0 148.6h1.1v1.1h-1.1zM414.5 148.5h1.1v1.1h-1.1zM422.1 150.2h1.1v1.1h-1.1zM417.1 148.2h1.1v1.1h-1.1zM409.6 148.4h1.1v1.1h-1.1zM414.3 146.9h1.1v1.1h-1.1zM413.2 142.3h1.1v1.1h-1.1zM415.3 147.8h1.1v1.1h-1.1zM411.7 147.6h1.1v1.1h-1.1zM399.2 145.0h1.1v1.1h-1.1zM424.1 150.4h1.1v1.1h-1.1zM415.2 149.2h1.1v1.1h-1.1zM418.5 148.9h1.1v1.1h-1.1zM421.4 150.0h1.1v1.1h-1.1zM414.6 146.5h1.1v1.1h-1.1zM406.8 143.8h1.1v1.1h-1.1zM420.2 149.1h1.1v1.1h-1.1zM422.0 149.6h1.1v1.1h-1.1zM411.0 143.6h1.1v1.1h-1.1zM419.2 145.3h1.1v1.1h-1.1zM419.7 148.6h1.1v1.1h-1.1zM405.1 145.3h1.1v1.1h-1.1zM417.6 148.1h1.1v1.1h-1.1zM415.7 146.9h1.1v1.1h-1.1zM412.7 146.8h1.1v1.1h-1.1zM418.7 148.5h1.1v1.1h-1.1zM409.3 143.8h1.1v1.1h-1.1zM421.5 149.4h1.1v1.1h-1.1zM414.3 147.8h1.1v1.1h-1.1zM407.4 147.0h1.1v1.1h-1.1zM416.9 148.9h1.1v1.1h-1.1zM410.9 149.0h1.1v1.1h-1.1zM405.9 149.0h1.1v1.1h-1.1zM417.1 149.4h1.1v1.1h-1.1zM415.8 148.8h1.1v1.1h-1.1zM432.4 149.2h1.1v1.1h-1.1zM439.3 143.7h1.1v1.1h-1.1zM437.4 147.3h1.1v1.1h-1.1zM439.0 147.6h1.1v1.1h-1.1zM449.2 144.9h1.1v1.1h-1.1zM443.0 140.6h1.1v1.1h-1.1zM434.1 150.0h1.1v1.1h-1.1zM425.2 150.3h1.1v1.1h-1.1zM455.7 137.1h1.1v1.1h-1.1zM436.8 148.1h1.1v1.1h-1.1zM427.9 150.0h1.1v1.1h-1.1zM429.3 149.0h1.1v1.1h-1.1zM427.3 149.8h1.1v1.1h-1.1zM428.8 147.4h1.1v1.1h-1.1zM435.9 148.3h1.1v1.1h-1.1zM451.8 137.9h1.1v1.1h-1.1zM428.0 150.0h1.1v1.1h-1.1zM426.0 149.8h1.1v1.1h-1.1zM435.9 144.6h1.1v1.1h-1.1zM430.5 148.4h1.1v1.1h-1.1zM455.3 129.2h1.1v1.1h-1.1zM430.2 148.3h1.1v1.1h-1.1zM428.6 149.2h1.1v1.1h-1.1zM426.7 150.0h1.1v1.1h-1.1zM441.8 140.9h1.1v1.1h-1.1zM448.3 138.9h1.1v1.1h-1.1zM430.8 149.2h1.1v1.1h-1.1zM429.4 149.3h1.1v1.1h-1.1zM429.1 149.3h1.1v1.1h-1.1zM426.1 149.7h1.1v1.1h-1.1zM425.2 150.3h1.1v1.1h-1.1zM434.3 147.9h1.1v1.1h-1.1zM429.3 149.9h1.1v1.1h-1.1zM430.2 148.2h1.1v1.1h-1.1zM426.9 149.9h1.1v1.1h-1.1zM432.1 148.2h1.1v1.1h-1.1zM436.0 146.7h1.1v1.1h-1.1zM429.0 149.0h1.1v1.1h-1.1zM436.5 149.1h1.1v1.1h-1.1zM424.5 150.4h1.1v1.1h-1.1zM442.5 145.4h1.1v1.1h-1.1zM438.0 143.9h1.1v1.1h-1.1zM429.3 149.0h1.1v1.1h-1.1zM433.7 146.1h1.1v1.1h-1.1zM434.4 147.0h1.1v1.1h-1.1zM434.2 146.6h1.1v1.1h-1.1zM438.1 147.7h1.1v1.1h-1.1zM426.1 150.2h1.1v1.1h-1.1zM424.8 150.4h1.1v1.1h-1.1zM447.3 143.6h1.1v1.1h-1.1zM445.2 140.0h1.1v1.1h-1.1zM449.0 141.6h1.1v1.1h-1.1zM424.2 150.4h1.1v1.1h-1.1zM448.5 142.2h1.1v1.1h-1.1zM442.5 136.9h1.1v1.1h-1.1zM431.4 149.1h1.1v1.1h-1.1zM437.6 144.7h1.1v1.1h-1.1zM432.6 148.9h1.1v1.1h-1.1zM428.4 149.4h1.1v1.1h-1.1zM426.1 150.1h1.1v1.1h-1.1zM424.2 150.4h1.1v1.1h-1.1zM446.8 146.2h1.1v1.1h-1.1zM428.9 149.2h1.1v1.1h-1.1zM436.6 146.5h1.1v1.1h-1.1zM431.7 148.8h1.1v1.1h-1.1zM440.3 145.9h1.1v1.1h-1.1zM425.8 150.2h1.1v1.1h-1.1zM424.4 150.4h1.1v1.1h-1.1zM441.2 146.3h1.1v1.1h-1.1zM427.3 150.2h1.1v1.1h-1.1zM443.1 148.1h1.1v1.1h-1.1zM438.9 143.8h1.1v1.1h-1.1zM428.6 150.1h1.1v1.1h-1.1zM431.3 148.0h1.1v1.1h-1.1zM432.8 148.8h1.1v1.1h-1.1zM443.8 143.3h1.1v1.1h-1.1zM430.4 149.0h1.1v1.1h-1.1zM426.4 149.8h1.1v1.1h-1.1zM438.4 147.3h1.1v1.1h-1.1zM433.9 148.1h1.1v1.1h-1.1zM432.8 149.2h1.1v1.1h-1.1zM437.7 149.4h1.1v1.1h-1.1zM441.5 139.4h1.1v1.1h-1.1zM440.3 148.3h1.1v1.1h-1.1zM443.4 142.2h1.1v1.1h-1.1zM424.6 150.4h1.1v1.1h-1.1zM436.6 146.2h1.1v1.1h-1.1zM448.9 145.6h1.1v1.1h-1.1zM430.1 147.0h1.1v1.1h-1.1zM428.6 150.0h1.1v1.1h-1.1zM424.7 150.3h1.1v1.1h-1.1zM430.4 147.5h1.1v1.1h-1.1zM432.3 149.5h1.1v1.1h-1.1zM425.9 150.0h1.1v1.1h-1.1zM436.0 148.4h1.1v1.1h-1.1zM433.6 147.1h1.1v1.1h-1.1zM437.7 149.2h1.1v1.1h-1.1zM428.9 147.5h1.1v1.1h-1.1zM440.2 142.7h1.1v1.1h-1.1zM435.8 146.9h1.1v1.1h-1.1zM443.7 145.0h1.1v1.1h-1.1zM426.5 149.4h1.1v1.1h-1.1zM429.4 148.8h1.1v1.1h-1.1zM427.6 149.6h1.1v1.1h-1.1zM438.5 146.8h1.1v1.1h-1.1zM424.3 150.4h1.1v1.1h-1.1zM434.5 147.6h1.1v1.1h-1.1zM429.3 149.7h1.1v1.1h-1.1zM425.7 150.2h1.1v1.1h-1.1zM429.4 146.8h1.1v1.1h-1.1zM429.9 148.5h1.1v1.1h-1.1zM430.4 147.8h1.1v1.1h-1.1zM443.0 141.5h1.1v1.1h-1.1zM425.6 149.4h1.1v1.1h-1.1zM438.1 147.0h1.1v1.1h-1.1zM436.4 149.1h1.1v1.1h-1.1zM434.8 149.9h1.1v1.1h-1.1zM427.5 149.9h1.1v1.1h-1.1zM424.2 150.4h1.1v1.1h-1.1zM428.4 148.6h1.1v1.1h-1.1zM434.8 149.1h1.1v1.1h-1.1zM425.7 150.3h1.1v1.1h-1.1zM434.5 142.7h1.1v1.1h-1.1zM431.2 149.7h1.1v1.1h-1.1zM430.4 149.5h1.1v1.1h-1.1zM436.4 147.2h1.1v1.1h-1.1zM428.5 149.9h1.1v1.1h-1.1zM431.3 148.6h1.1v1.1h-1.1zM430.8 149.9h1.1v1.1h-1.1zM428.7 149.8h1.1v1.1h-1.1zM447.1 144.6h1.1v1.1h-1.1zM425.3 150.1h1.1v1.1h-1.1zM427.3 149.6h1.1v1.1h-1.1zM432.0 147.5h1.1v1.1h-1.1zM424.6 150.4h1.1v1.1h-1.1zM436.8 142.3h1.1v1.1h-1.1zM447.8 142.8h1.1v1.1h-1.1zM425.5 150.0h1.1v1.1h-1.1zM435.2 149.2h1.1v1.1h-1.1zM445.0 146.9h1.1v1.1h-1.1zM436.1 148.1h1.1v1.1h-1.1zM437.9 140.8h1.1v1.1h-1.1zM426.4 150.2h1.1v1.1h-1.1zM429.3 149.3h1.1v1.1h-1.1zM436.1 147.9h1.1v1.1h-1.1zM435.4 145.1h1.1v1.1h-1.1zM430.0 149.2h1.1v1.1h-1.1zM430.0 146.8h1.1v1.1h-1.1zM446.4 146.1h1.1v1.1h-1.1zM437.4 136.2h1.1v1.1h-1.1zM443.7 143.9h1.1v1.1h-1.1zM442.1 147.7h1.1v1.1h-1.1zM430.7 148.0h1.1v1.1h-1.1zM441.5 145.2h1.1v1.1h-1.1zM425.6 150.3h1.1v1.1h-1.1zM431.1 146.7h1.1v1.1h-1.1zM424.6 150.4h1.1v1.1h-1.1zM431.9 149.5h1.1v1.1h-1.1zM446.7 141.0h1.1v1.1h-1.1zM453.3 133.2h1.1v1.1h-1.1zM428.2 149.2h1.1v1.1h-1.1zM433.6 149.4h1.1v1.1h-1.1zM430.0 147.0h1.1v1.1h-1.1zM433.8 147.5h1.1v1.1h-1.1zM424.2 150.4h1.1v1.1h-1.1zM438.4 148.3h1.1v1.1h-1.1zM425.1 150.4h1.1v1.1h-1.1zM424.9 150.4h1.1v1.1h-1.1zM426.1 150.1h1.1v1.1h-1.1zM440.0 132.1h1.1v1.1h-1.1zM431.9 148.3h1.1v1.1h-1.1zM427.4 149.8h1.1v1.1h-1.1zM430.4 147.1h1.1v1.1h-1.1zM429.3 147.5h1.1v1.1h-1.1zM438.8 142.8h1.1v1.1h-1.1zM427.5 149.9h1.1v1.1h-1.1zM429.9 150.0h1.1v1.1h-1.1zM441.7 149.0h1.1v1.1h-1.1zM430.1 149.3h1.1v1.1h-1.1zM431.0 149.4h1.1v1.1h-1.1zM442.0 141.0h1.1v1.1h-1.1zM444.9 127.7h1.1v1.1h-1.1zM430.3 149.4h1.1v1.1h-1.1zM438.7 146.6h1.1v1.1h-1.1zM425.6 150.2h1.1v1.1h-1.1zM440.3 148.8h1.1v1.1h-1.1zM442.6 144.2h1.1v1.1h-1.1zM430.7 147.6h1.1v1.1h-1.1zM445.9 109.0h1.1v1.1h-1.1zM428.6 150.0h1.1v1.1h-1.1zM435.3 144.8h1.1v1.1h-1.1zM428.0 148.2h1.1v1.1h-1.1zM424.6 150.4h1.1v1.1h-1.1zM433.3 148.1h1.1v1.1h-1.1zM431.1 146.1h1.1v1.1h-1.1zM427.9 149.9h1.1v1.1h-1.1zM435.9 147.4h1.1v1.1h-1.1zM428.3 149.3h1.1v1.1h-1.1zM432.9 144.8h1.1v1.1h-1.1zM426.0 150.0h1.1v1.1h-1.1zM434.5 148.1h1.1v1.1h-1.1zM430.9 147.7h1.1v1.1h-1.1zM427.6 150.0h1.1v1.1h-1.1zM427.5 150.1h1.1v1.1h-1.1zM433.1 148.3h1.1v1.1h-1.1zM431.4 148.7h1.1v1.1h-1.1zM442.3 143.4h1.1v1.1h-1.1zM432.8 147.6h1.1v1.1h-1.1zM433.6 148.4h1.1v1.1h-1.1zM425.8 150.4h1.1v1.1h-1.1zM436.0 149.2h1.1v1.1h-1.1zM429.7 149.4h1.1v1.1h-1.1zM443.6 139.2h1.1v1.1h-1.1zM428.7 149.9h1.1v1.1h-1.1zM431.2 149.1h1.1v1.1h-1.1zM436.7 144.7h1.1v1.1h-1.1zM428.1 150.0h1.1v1.1h-1.1zM438.7 143.1h1.1v1.1h-1.1zM427.6 149.9h1.1v1.1h-1.1zM433.0 148.6h1.1v1.1h-1.1zM441.4 141.8h1.1v1.1h-1.1zM437.3 147.6h1.1v1.1h-1.1zM430.5 147.5h1.1v1.1h-1.1zM436.0 148.6h1.1v1.1h-1.1zM428.7 149.8h1.1v1.1h-1.1zM439.3 146.8h1.1v1.1h-1.1zM441.8 141.0h1.1v1.1h-1.1zM436.1 148.5h1.1v1.1h-1.1zM441.3 143.6h1.1v1.1h-1.1zM427.2 149.7h1.1v1.1h-1.1zM425.1 150.2h1.1v1.1h-1.1zM451.6 143.0h1.1v1.1h-1.1zM433.5 147.1h1.1v1.1h-1.1zM424.9 150.3h1.1v1.1h-1.1zM446.1 124.0h1.1v1.1h-1.1zM430.7 148.8h1.1v1.1h-1.1zM432.0 147.7h1.1v1.1h-1.1zM434.9 147.0h1.1v1.1h-1.1zM424.9 150.4h1.1v1.1h-1.1zM427.8 149.6h1.1v1.1h-1.1zM434.1 147.9h1.1v1.1h-1.1zM441.8 147.6h1.1v1.1h-1.1zM427.6 150.1h1.1v1.1h-1.1zM440.2 146.0h1.1v1.1h-1.1zM431.4 148.6h1.1v1.1h-1.1zM426.2 150.1h1.1v1.1h-1.1zM440.9 146.6h1.1v1.1h-1.1zM431.3 148.7h1.1v1.1h-1.1zM429.5 148.4h1.1v1.1h-1.1zM426.8 150.0h1.1v1.1h-1.1zM424.8 150.3h1.1v1.1h-1.1zM427.4 148.8h1.1v1.1h-1.1zM433.7 145.5h1.1v1.1h-1.1zM427.7 149.9h1.1v1.1h-1.1zM429.2 149.5h1.1v1.1h-1.1zM425.6 150.4h1.1v1.1h-1.1zM429.9 149.3h1.1v1.1h-1.1zM435.2 148.1h1.1v1.1h-1.1zM428.3 150.0h1.1v1.1h-1.1zM444.4 148.9h1.1v1.1h-1.1zM424.6 150.4h1.1v1.1h-1.1zM429.4 148.3h1.1v1.1h-1.1zM426.4 150.1h1.1v1.1h-1.1zM430.0 148.3h1.1v1.1h-1.1zM427.4 150.0h1.1v1.1h-1.1zM424.2 150.4h1.1v1.1h-1.1zM440.3 146.0h1.1v1.1h-1.1zM430.4 149.4h1.1v1.1h-1.1zM438.5 147.1h1.1v1.1h-1.1zM426.9 150.0h1.1v1.1h-1.1zM432.8 149.4h1.1v1.1h-1.1zM446.2 147.9h1.1v1.1h-1.1zM449.7 134.5h1.1v1.1h-1.1zM429.0 149.4h1.1v1.1h-1.1zM438.7 145.2h1.1v1.1h-1.1zM444.4 147.4h1.1v1.1h-1.1zM429.4 150.2h1.1v1.1h-1.1zM442.9 148.2h1.1v1.1h-1.1zM430.3 147.6h1.1v1.1h-1.1zM424.8 150.3h1.1v1.1h-1.1zM431.6 150.0h1.1v1.1h-1.1zM432.9 149.1h1.1v1.1h-1.1zM447.7 146.9h1.1v1.1h-1.1zM425.9 150.2h1.1v1.1h-1.1zM427.5 148.6h1.1v1.1h-1.1zM432.0 149.2h1.1v1.1h-1.1zM427.0 149.8h1.1v1.1h-1.1zM428.3 149.7h1.1v1.1h-1.1zM433.4 148.7h1.1v1.1h-1.1zM425.1 150.4h1.1v1.1h-1.1zM447.8 145.2h1.1v1.1h-1.1zM429.7 148.7h1.1v1.1h-1.1zM431.0 148.3h1.1v1.1h-1.1zM428.3 149.1h1.1v1.1h-1.1zM431.2 149.4h1.1v1.1h-1.1zM429.1 149.8h1.1v1.1h-1.1zM430.7 148.8h1.1v1.1h-1.1zM445.2 144.2h1.1v1.1h-1.1zM445.0 146.5h1.1v1.1h-1.1zM433.1 148.8h1.1v1.1h-1.1zM435.4 142.2h1.1v1.1h-1.1zM424.3 150.4h1.1v1.1h-1.1zM440.5 143.4h1.1v1.1h-1.1zM433.6 146.1h1.1v1.1h-1.1zM436.4 147.3h1.1v1.1h-1.1zM431.2 145.3h1.1v1.1h-1.1zM437.3 145.8h1.1v1.1h-1.1zM441.7 141.2h1.1v1.1h-1.1zM427.2 150.0h1.1v1.1h-1.1zM432.3 147.2h1.1v1.1h-1.1zM435.0 147.5h1.1v1.1h-1.1zM437.1 144.8h1.1v1.1h-1.1zM435.0 148.4h1.1v1.1h-1.1zM430.9 149.3h1.1v1.1h-1.1zM428.5 149.6h1.1v1.1h-1.1zM435.7 145.3h1.1v1.1h-1.1zM424.6 150.4h1.1v1.1h-1.1zM430.8 148.8h1.1v1.1h-1.1zM446.4 143.0h1.1v1.1h-1.1zM442.3 138.8h1.1v1.1h-1.1zM444.5 148.7h1.1v1.1h-1.1zM425.6 150.4h1.1v1.1h-1.1zM429.7 148.4h1.1v1.1h-1.1zM435.3 146.5h1.1v1.1h-1.1zM434.4 146.5h1.1v1.1h-1.1zM429.6 149.2h1.1v1.1h-1.1zM445.5 141.4h1.1v1.1h-1.1zM435.3 146.2h1.1v1.1h-1.1zM432.2 146.8h1.1v1.1h-1.1zM429.0 150.0h1.1v1.1h-1.1zM443.8 146.4h1.1v1.1h-1.1zM433.3 145.6h1.1v1.1h-1.1zM430.0 147.8h1.1v1.1h-1.1zM434.3 148.9h1.1v1.1h-1.1zM427.9 148.3h1.1v1.1h-1.1zM433.6 146.8h1.1v1.1h-1.1zM434.9 145.2h1.1v1.1h-1.1zM435.7 147.5h1.1v1.1h-1.1zM427.6 150.0h1.1v1.1h-1.1zM424.3 150.4h1.1v1.1h-1.1zM442.1 144.8h1.1v1.1h-1.1zM439.0 148.1h1.1v1.1h-1.1zM430.1 149.0h1.1v1.1h-1.1zM425.7 150.2h1.1v1.1h-1.1zM449.5 147.1h1.1v1.1h-1.1zM451.9 144.2h1.1v1.1h-1.1zM445.4 143.8h1.1v1.1h-1.1zM426.1 150.2h1.1v1.1h-1.1zM431.1 147.9h1.1v1.1h-1.1zM442.2 138.5h1.1v1.1h-1.1zM440.0 147.9h1.1v1.1h-1.1zM427.0 149.8h1.1v1.1h-1.1zM425.3 150.2h1.1v1.1h-1.1zM454.1 131.5h1.1v1.1h-1.1zM432.1 149.7h1.1v1.1h-1.1zM429.7 149.8h1.1v1.1h-1.1zM426.1 150.1h1.1v1.1h-1.1zM432.6 146.2h1.1v1.1h-1.1zM428.0 149.5h1.1v1.1h-1.1zM427.3 150.1h1.1v1.1h-1.1zM439.2 144.4h1.1v1.1h-1.1zM444.0 146.3h1.1v1.1h-1.1zM425.4 150.4h1.1v1.1h-1.1zM442.2 144.2h1.1v1.1h-1.1zM424.3 150.4h1.1v1.1h-1.1zM435.6 144.6h1.1v1.1h-1.1zM438.1 145.8h1.1v1.1h-1.1zM435.6 148.4h1.1v1.1h-1.1zM426.6 150.2h1.1v1.1h-1.1zM425.6 150.1h1.1v1.1h-1.1zM432.5 149.3h1.1v1.1h-1.1zM433.7 147.5h1.1v1.1h-1.1zM427.6 149.6h1.1v1.1h-1.1zM429.1 149.7h1.1v1.1h-1.1zM428.4 149.7h1.1v1.1h-1.1zM432.7 148.4h1.1v1.1h-1.1zM427.7 149.4h1.1v1.1h-1.1zM424.5 150.4h1.1v1.1h-1.1zM444.5 144.3h1.1v1.1h-1.1zM438.6 145.6h1.1v1.1h-1.1zM425.6 150.4h1.1v1.1h-1.1zM436.7 147.8h1.1v1.1h-1.1zM432.8 148.8h1.1v1.1h-1.1zM435.3 147.1h1.1v1.1h-1.1zM439.4 148.1h1.1v1.1h-1.1zM430.6 149.0h1.1v1.1h-1.1zM428.0 149.5h1.1v1.1h-1.1zM434.3 144.2h1.1v1.1h-1.1zM426.6 150.0h1.1v1.1h-1.1zM425.8 149.8h1.1v1.1h-1.1zM428.8 149.2h1.1v1.1h-1.1zM434.2 146.4h1.1v1.1h-1.1zM439.3 147.5h1.1v1.1h-1.1zM445.9 145.3h1.1v1.1h-1.1zM425.8 150.1h1.1v1.1h-1.1zM434.0 148.6h1.1v1.1h-1.1zM432.4 145.1h1.1v1.1h-1.1zM442.0 144.2h1.1v1.1h-1.1zM440.4 125.9h1.1v1.1h-1.1zM426.1 150.2h1.1v1.1h-1.1zM446.7 139.3h1.1v1.1h-1.1zM428.7 149.1h1.1v1.1h-1.1zM425.1 150.3h1.1v1.1h-1.1zM443.4 142.5h1.1v1.1h-1.1zM438.5 149.2h1.1v1.1h-1.1zM443.1 144.0h1.1v1.1h-1.1zM451.0 132.3h1.1v1.1h-1.1zM436.8 147.0h1.1v1.1h-1.1zM428.8 150.0h1.1v1.1h-1.1zM430.8 149.2h1.1v1.1h-1.1zM435.6 147.2h1.1v1.1h-1.1zM427.2 149.5h1.1v1.1h-1.1zM455.5 142.6h1.1v1.1h-1.1zM444.2 137.7h1.1v1.1h-1.1zM444.3 146.2h1.1v1.1h-1.1zM429.2 148.5h1.1v1.1h-1.1zM426.7 149.9h1.1v1.1h-1.1zM427.6 147.8h1.1v1.1h-1.1zM431.8 147.7h1.1v1.1h-1.1zM426.3 149.7h1.1v1.1h-1.1zM430.0 149.4h1.1v1.1h-1.1zM441.7 148.8h1.1v1.1h-1.1zM431.7 148.6h1.1v1.1h-1.1zM440.4 145.3h1.1v1.1h-1.1zM435.9 148.3h1.1v1.1h-1.1zM448.3 142.4h1.1v1.1h-1.1zM430.4 150.0h1.1v1.1h-1.1zM443.3 145.4h1.1v1.1h-1.1zM440.6 147.1h1.1v1.1h-1.1zM426.9 149.3h1.1v1.1h-1.1zM443.6 144.2h1.1v1.1h-1.1zM431.1 148.8h1.1v1.1h-1.1zM435.0 147.6h1.1v1.1h-1.1zM429.9 150.1h1.1v1.1h-1.1zM428.6 150.0h1.1v1.1h-1.1zM430.3 147.6h1.1v1.1h-1.1zM448.4 139.2h1.1v1.1h-1.1zM434.6 149.3h1.1v1.1h-1.1zM427.6 149.7h1.1v1.1h-1.1zM424.5 150.4h1.1v1.1h-1.1zM427.4 149.7h1.1v1.1h-1.1zM428.3 149.6h1.1v1.1h-1.1zM441.0 145.7h1.1v1.1h-1.1zM429.1 150.0h1.1v1.1h-1.1zM435.9 148.0h1.1v1.1h-1.1zM444.9 146.7h1.1v1.1h-1.1zM441.6 146.2h1.1v1.1h-1.1zM424.3 150.4h1.1v1.1h-1.1zM435.2 147.0h1.1v1.1h-1.1zM426.2 150.0h1.1v1.1h-1.1zM433.2 147.1h1.1v1.1h-1.1zM443.7 147.5h1.1v1.1h-1.1zM444.8 145.1h1.1v1.1h-1.1zM427.5 149.4h1.1v1.1h-1.1zM425.4 150.1h1.1v1.1h-1.1zM426.3 150.4h1.1v1.1h-1.1zM425.2 150.4h1.1v1.1h-1.1zM429.4 149.1h1.1v1.1h-1.1zM428.3 145.6h1.1v1.1h-1.1zM425.8 150.3h1.1v1.1h-1.1zM425.9 150.2h1.1v1.1h-1.1zM446.3 142.8h1.1v1.1h-1.1zM428.8 149.0h1.1v1.1h-1.1zM433.7 149.5h1.1v1.1h-1.1zM430.1 149.6h1.1v1.1h-1.1zM433.2 148.9h1.1v1.1h-1.1zM433.8 148.9h1.1v1.1h-1.1zM431.2 149.4h1.1v1.1h-1.1zM437.6 145.7h1.1v1.1h-1.1zM424.9 150.3h1.1v1.1h-1.1zM438.9 144.7h1.1v1.1h-1.1zM440.1 145.3h1.1v1.1h-1.1zM428.9 149.5h1.1v1.1h-1.1zM445.0 146.3h1.1v1.1h-1.1zM435.1 149.2h1.1v1.1h-1.1zM434.3 149.3h1.1v1.1h-1.1zM440.0 141.8h1.1v1.1h-1.1zM429.9 148.0h1.1v1.1h-1.1zM424.4 150.4h1.1v1.1h-1.1zM429.0 149.3h1.1v1.1h-1.1zM430.9 148.9h1.1v1.1h-1.1zM445.3 141.8h1.1v1.1h-1.1zM435.6 148.2h1.1v1.1h-1.1zM436.9 148.5h1.1v1.1h-1.1zM429.4 150.0h1.1v1.1h-1.1zM424.6 150.4h1.1v1.1h-1.1zM431.2 149.6h1.1v1.1h-1.1zM442.6 148.7h1.1v1.1h-1.1zM436.7 147.9h1.1v1.1h-1.1zM452.9 144.6h1.1v1.1h-1.1zM441.8 142.2h1.1v1.1h-1.1zM429.8 147.6h1.1v1.1h-1.1zM445.9 140.7h1.1v1.1h-1.1zM453.1 133.5h1.1v1.1h-1.1zM426.6 149.1h1.1v1.1h-1.1zM442.3 147.9h1.1v1.1h-1.1zM432.7 149.5h1.1v1.1h-1.1zM430.2 149.1h1.1v1.1h-1.1zM432.8 148.8h1.1v1.1h-1.1zM435.7 146.9h1.1v1.1h-1.1zM436.3 143.9h1.1v1.1h-1.1zM435.3 147.5h1.1v1.1h-1.1zM434.6 149.5h1.1v1.1h-1.1zM456.2 86.8h1.1v1.1h-1.1zM434.2 149.1h1.1v1.1h-1.1zM439.5 148.4h1.1v1.1h-1.1zM427.4 149.3h1.1v1.1h-1.1zM427.0 150.3h1.1v1.1h-1.1zM431.7 149.6h1.1v1.1h-1.1zM432.7 148.3h1.1v1.1h-1.1zM458.6 142.5h1.1v1.1h-1.1zM433.0 148.0h1.1v1.1h-1.1zM451.2 131.9h1.1v1.1h-1.1zM432.6 148.3h1.1v1.1h-1.1zM427.8 149.9h1.1v1.1h-1.1zM427.9 149.4h1.1v1.1h-1.1zM427.8 149.6h1.1v1.1h-1.1zM425.0 149.9h1.1v1.1h-1.1zM446.5 146.3h1.1v1.1h-1.1zM429.9 147.7h1.1v1.1h-1.1zM433.1 148.5h1.1v1.1h-1.1zM441.4 143.6h1.1v1.1h-1.1zM424.9 150.4h1.1v1.1h-1.1zM442.4 147.5h1.1v1.1h-1.1zM431.1 149.7h1.1v1.1h-1.1zM435.2 149.4h1.1v1.1h-1.1zM444.0 146.2h1.1v1.1h-1.1zM435.6 142.8h1.1v1.1h-1.1zM442.1 148.5h1.1v1.1h-1.1zM425.0 150.2h1.1v1.1h-1.1zM429.9 149.3h1.1v1.1h-1.1zM443.6 144.5h1.1v1.1h-1.1zM426.5 150.3h1.1v1.1h-1.1zM429.1 149.3h1.1v1.1h-1.1zM426.4 149.6h1.1v1.1h-1.1zM437.1 148.0h1.1v1.1h-1.1zM425.0 150.3h1.1v1.1h-1.1zM440.6 145.8h1.1v1.1h-1.1zM433.6 148.7h1.1v1.1h-1.1zM435.3 148.9h1.1v1.1h-1.1zM436.7 143.7h1.1v1.1h-1.1zM436.4 145.2h1.1v1.1h-1.1zM429.4 149.8h1.1v1.1h-1.1zM434.1 145.4h1.1v1.1h-1.1zM424.3 150.4h1.1v1.1h-1.1zM429.8 149.2h1.1v1.1h-1.1zM432.8 149.7h1.1v1.1h-1.1zM432.2 149.9h1.1v1.1h-1.1zM441.6 146.7h1.1v1.1h-1.1zM434.8 142.8h1.1v1.1h-1.1zM434.9 147.5h1.1v1.1h-1.1zM435.7 144.6h1.1v1.1h-1.1zM424.8 150.2h1.1v1.1h-1.1zM428.5 149.4h1.1v1.1h-1.1zM434.3 148.9h1.1v1.1h-1.1zM428.2 149.6h1.1v1.1h-1.1zM425.3 150.3h1.1v1.1h-1.1zM432.8 147.5h1.1v1.1h-1.1zM430.5 149.5h1.1v1.1h-1.1zM439.6 140.1h1.1v1.1h-1.1zM425.1 150.2h1.1v1.1h-1.1zM431.0 148.6h1.1v1.1h-1.1zM425.8 150.2h1.1v1.1h-1.1zM430.5 148.5h1.1v1.1h-1.1zM447.4 142.9h1.1v1.1h-1.1zM439.2 145.5h1.1v1.1h-1.1zM429.1 148.6h1.1v1.1h-1.1zM431.4 149.3h1.1v1.1h-1.1zM427.6 149.9h1.1v1.1h-1.1zM431.3 149.0h1.1v1.1h-1.1zM433.5 149.8h1.1v1.1h-1.1zM433.8 144.9h1.1v1.1h-1.1zM430.6 149.2h1.1v1.1h-1.1zM427.4 149.0h1.1v1.1h-1.1zM447.5 148.1h1.1v1.1h-1.1zM436.9 149.5h1.1v1.1h-1.1zM434.5 148.3h1.1v1.1h-1.1zM430.0 149.1h1.1v1.1h-1.1zM443.0 139.8h1.1v1.1h-1.1zM442.3 141.2h1.1v1.1h-1.1zM441.7 138.1h1.1v1.1h-1.1zM430.9 148.8h1.1v1.1h-1.1zM424.2 150.4h1.1v1.1h-1.1zM438.8 143.3h1.1v1.1h-1.1zM425.1 150.4h1.1v1.1h-1.1zM428.0 150.0h1.1v1.1h-1.1zM429.6 149.7h1.1v1.1h-1.1zM432.0 148.7h1.1v1.1h-1.1zM438.8 147.7h1.1v1.1h-1.1zM429.3 149.2h1.1v1.1h-1.1zM425.7 150.0h1.1v1.1h-1.1zM435.5 149.2h1.1v1.1h-1.1zM432.1 149.2h1.1v1.1h-1.1zM431.5 145.2h1.1v1.1h-1.1zM438.7 138.0h1.1v1.1h-1.1zM425.2 150.0h1.1v1.1h-1.1zM443.4 143.2h1.1v1.1h-1.1zM433.3 145.3h1.1v1.1h-1.1zM436.9 145.8h1.1v1.1h-1.1zM426.7 150.3h1.1v1.1h-1.1zM447.7 145.1h1.1v1.1h-1.1zM432.3 147.4h1.1v1.1h-1.1zM432.2 148.4h1.1v1.1h-1.1zM425.6 150.3h1.1v1.1h-1.1zM425.4 150.4h1.1v1.1h-1.1zM425.4 150.2h1.1v1.1h-1.1zM430.5 148.8h1.1v1.1h-1.1zM437.5 147.8h1.1v1.1h-1.1zM436.7 141.5h1.1v1.1h-1.1zM453.5 142.7h1.1v1.1h-1.1zM437.5 147.6h1.1v1.1h-1.1zM427.6 149.8h1.1v1.1h-1.1zM436.2 147.3h1.1v1.1h-1.1zM433.7 148.2h1.1v1.1h-1.1zM426.4 150.3h1.1v1.1h-1.1zM442.9 124.9h1.1v1.1h-1.1zM430.8 148.2h1.1v1.1h-1.1zM426.5 150.0h1.1v1.1h-1.1zM431.0 149.3h1.1v1.1h-1.1zM433.5 148.3h1.1v1.1h-1.1zM434.1 147.0h1.1v1.1h-1.1zM426.4 150.2h1.1v1.1h-1.1zM427.0 149.6h1.1v1.1h-1.1zM438.1 144.4h1.1v1.1h-1.1zM425.5 150.3h1.1v1.1h-1.1zM434.7 148.7h1.1v1.1h-1.1zM428.6 149.0h1.1v1.1h-1.1zM429.2 146.0h1.1v1.1h-1.1zM434.9 147.1h1.1v1.1h-1.1zM441.2 140.9h1.1v1.1h-1.1zM436.5 147.3h1.1v1.1h-1.1zM433.6 149.0h1.1v1.1h-1.1zM435.4 144.3h1.1v1.1h-1.1zM434.9 148.1h1.1v1.1h-1.1zM428.5 147.1h1.1v1.1h-1.1zM436.2 148.2h1.1v1.1h-1.1zM427.1 150.2h1.1v1.1h-1.1zM447.3 141.1h1.1v1.1h-1.1zM434.7 145.8h1.1v1.1h-1.1zM426.8 149.7h1.1v1.1h-1.1zM438.4 146.0h1.1v1.1h-1.1zM425.5 150.4h1.1v1.1h-1.1zM440.6 140.6h1.1v1.1h-1.1zM451.4 145.3h1.1v1.1h-1.1zM425.2 149.9h1.1v1.1h-1.1zM435.5 148.3h1.1v1.1h-1.1zM425.9 150.2h1.1v1.1h-1.1zM431.2 149.0h1.1v1.1h-1.1zM448.2 131.2h1.1v1.1h-1.1zM431.3 144.9h1.1v1.1h-1.1zM425.5 150.2h1.1v1.1h-1.1zM435.0 146.5h1.1v1.1h-1.1zM455.0 144.1h1.1v1.1h-1.1zM440.9 141.1h1.1v1.1h-1.1zM449.9 148.3h1.1v1.1h-1.1zM425.7 150.0h1.1v1.1h-1.1zM448.2 139.7h1.1v1.1h-1.1zM438.6 147.9h1.1v1.1h-1.1zM435.5 145.4h1.1v1.1h-1.1zM452.2 134.5h1.1v1.1h-1.1zM447.5 125.4h1.1v1.1h-1.1zM427.2 148.9h1.1v1.1h-1.1zM425.9 150.1h1.1v1.1h-1.1zM430.2 148.7h1.1v1.1h-1.1zM428.4 150.1h1.1v1.1h-1.1zM430.1 148.2h1.1v1.1h-1.1zM435.5 149.0h1.1v1.1h-1.1zM429.4 149.7h1.1v1.1h-1.1zM439.2 148.6h1.1v1.1h-1.1zM453.2 143.0h1.1v1.1h-1.1zM427.6 149.6h1.1v1.1h-1.1zM429.1 149.8h1.1v1.1h-1.1zM438.7 146.1h1.1v1.1h-1.1zM431.9 149.6h1.1v1.1h-1.1zM428.0 149.4h1.1v1.1h-1.1zM434.7 145.6h1.1v1.1h-1.1zM425.5 150.3h1.1v1.1h-1.1zM428.1 149.7h1.1v1.1h-1.1zM425.0 150.4h1.1v1.1h-1.1zM430.5 148.3h1.1v1.1h-1.1zM428.9 148.4h1.1v1.1h-1.1zM452.9 141.5h1.1v1.1h-1.1zM432.2 148.5h1.1v1.1h-1.1zM445.5 145.2h1.1v1.1h-1.1zM439.8 148.3h1.1v1.1h-1.1zM431.8 148.8h1.1v1.1h-1.1zM429.1 150.1h1.1v1.1h-1.1zM433.5 145.7h1.1v1.1h-1.1zM432.7 144.2h1.1v1.1h-1.1zM432.1 147.1h1.1v1.1h-1.1zM426.2 150.0h1.1v1.1h-1.1zM446.2 143.7h1.1v1.1h-1.1zM431.0 148.8h1.1v1.1h-1.1zM446.5 147.0h1.1v1.1h-1.1zM443.6 143.2h1.1v1.1h-1.1zM426.0 150.1h1.1v1.1h-1.1zM444.5 140.7h1.1v1.1h-1.1zM436.1 140.7h1.1v1.1h-1.1zM435.1 146.9h1.1v1.1h-1.1zM429.5 147.2h1.1v1.1h-1.1zM428.7 148.8h1.1v1.1h-1.1zM433.6 148.8h1.1v1.1h-1.1zM433.1 146.8h1.1v1.1h-1.1zM435.6 147.0h1.1v1.1h-1.1zM429.0 148.9h1.1v1.1h-1.1zM449.7 136.9h1.1v1.1h-1.1zM448.0 139.2h1.1v1.1h-1.1zM443.5 144.3h1.1v1.1h-1.1zM429.3 148.7h1.1v1.1h-1.1zM426.1 150.2h1.1v1.1h-1.1zM452.6 143.0h1.1v1.1h-1.1zM439.8 145.2h1.1v1.1h-1.1zM431.3 149.7h1.1v1.1h-1.1zM424.9 150.3h1.1v1.1h-1.1zM426.8 149.6h1.1v1.1h-1.1zM437.5 146.5h1.1v1.1h-1.1zM425.7 149.9h1.1v1.1h-1.1zM428.1 149.0h1.1v1.1h-1.1zM430.1 148.7h1.1v1.1h-1.1zM427.8 149.3h1.1v1.1h-1.1zM427.2 149.4h1.1v1.1h-1.1zM438.6 146.8h1.1v1.1h-1.1zM435.6 145.7h1.1v1.1h-1.1zM424.2 150.4h1.1v1.1h-1.1zM428.6 149.1h1.1v1.1h-1.1zM431.8 148.8h1.1v1.1h-1.1zM424.6 150.3h1.1v1.1h-1.1zM427.5 150.3h1.1v1.1h-1.1zM436.0 147.6h1.1v1.1h-1.1zM445.9 142.5h1.1v1.1h-1.1zM438.0 139.1h1.1v1.1h-1.1zM428.2 150.1h1.1v1.1h-1.1zM446.6 146.4h1.1v1.1h-1.1zM429.5 149.8h1.1v1.1h-1.1zM446.5 143.7h1.1v1.1h-1.1zM436.7 148.2h1.1v1.1h-1.1zM425.5 150.3h1.1v1.1h-1.1zM429.3 148.5h1.1v1.1h-1.1zM431.5 148.0h1.1v1.1h-1.1zM429.4 149.3h1.1v1.1h-1.1zM442.5 146.6h1.1v1.1h-1.1zM429.9 149.4h1.1v1.1h-1.1zM424.3 150.4h1.1v1.1h-1.1zM431.6 144.0h1.1v1.1h-1.1zM431.3 149.6h1.1v1.1h-1.1zM431.4 149.2h1.1v1.1h-1.1zM434.9 148.3h1.1v1.1h-1.1zM452.8 141.1h1.1v1.1h-1.1zM432.3 147.3h1.1v1.1h-1.1zM431.6 149.7h1.1v1.1h-1.1zM432.0 149.4h1.1v1.1h-1.1zM439.4 141.3h1.1v1.1h-1.1zM435.9 146.6h1.1v1.1h-1.1zM439.9 138.5h1.1v1.1h-1.1zM436.4 148.2h1.1v1.1h-1.1zM451.3 146.6h1.1v1.1h-1.1zM442.2 146.5h1.1v1.1h-1.1zM431.7 149.3h1.1v1.1h-1.1zM440.8 142.8h1.1v1.1h-1.1zM434.2 148.8h1.1v1.1h-1.1zM424.7 150.4h1.1v1.1h-1.1zM425.0 150.3h1.1v1.1h-1.1zM430.2 148.9h1.1v1.1h-1.1zM437.3 147.3h1.1v1.1h-1.1zM440.2 146.4h1.1v1.1h-1.1zM435.6 146.8h1.1v1.1h-1.1zM433.1 147.0h1.1v1.1h-1.1zM440.2 147.8h1.1v1.1h-1.1zM433.7 149.4h1.1v1.1h-1.1zM430.9 146.4h1.1v1.1h-1.1zM431.8 149.7h1.1v1.1h-1.1zM431.6 148.9h1.1v1.1h-1.1zM432.6 149.2h1.1v1.1h-1.1zM424.2 150.4h1.1v1.1h-1.1zM426.9 149.9h1.1v1.1h-1.1zM426.2 149.7h1.1v1.1h-1.1zM424.5 150.4h1.1v1.1h-1.1zM436.1 148.2h1.1v1.1h-1.1zM424.8 150.4h1.1v1.1h-1.1zM435.3 149.3h1.1v1.1h-1.1zM424.7 150.4h1.1v1.1h-1.1zM435.9 145.2h1.1v1.1h-1.1zM452.6 136.8h1.1v1.1h-1.1zM449.6 138.9h1.1v1.1h-1.1zM434.5 147.5h1.1v1.1h-1.1zM427.8 149.9h1.1v1.1h-1.1zM429.7 148.6h1.1v1.1h-1.1zM448.2 141.1h1.1v1.1h-1.1zM441.5 145.0h1.1v1.1h-1.1zM427.8 149.1h1.1v1.1h-1.1zM426.9 150.1h1.1v1.1h-1.1zM454.0 115.6h1.1v1.1h-1.1zM442.0 145.3h1.1v1.1h-1.1zM434.5 142.6h1.1v1.1h-1.1zM427.0 149.8h1.1v1.1h-1.1zM426.3 150.2h1.1v1.1h-1.1zM433.5 148.2h1.1v1.1h-1.1zM442.5 141.2h1.1v1.1h-1.1zM428.6 149.2h1.1v1.1h-1.1zM444.7 140.1h1.1v1.1h-1.1zM425.5 150.2h1.1v1.1h-1.1zM424.4 150.4h1.1v1.1h-1.1zM429.7 149.6h1.1v1.1h-1.1zM427.7 150.0h1.1v1.1h-1.1zM433.4 148.4h1.1v1.1h-1.1zM426.9 150.3h1.1v1.1h-1.1zM431.5 148.4h1.1v1.1h-1.1zM429.0 149.4h1.1v1.1h-1.1zM445.3 143.8h1.1v1.1h-1.1zM436.9 148.3h1.1v1.1h-1.1zM440.4 145.5h1.1v1.1h-1.1zM426.3 149.9h1.1v1.1h-1.1zM426.1 150.3h1.1v1.1h-1.1zM431.2 149.5h1.1v1.1h-1.1zM431.0 149.1h1.1v1.1h-1.1zM429.5 149.1h1.1v1.1h-1.1zM444.3 147.2h1.1v1.1h-1.1zM441.7 142.1h1.1v1.1h-1.1zM431.4 149.9h1.1v1.1h-1.1zM436.3 141.3h1.1v1.1h-1.1zM430.4 149.8h1.1v1.1h-1.1zM427.4 150.1h1.1v1.1h-1.1zM429.0 149.7h1.1v1.1h-1.1zM424.2 150.4h1.1v1.1h-1.1zM437.4 147.1h1.1v1.1h-1.1zM424.8 150.4h1.1v1.1h-1.1zM456.5 121.0h1.1v1.1h-1.1zM438.1 146.4h1.1v1.1h-1.1zM439.3 142.7h1.1v1.1h-1.1zM435.3 147.2h1.1v1.1h-1.1zM441.6 139.5h1.1v1.1h-1.1zM433.1 147.5h1.1v1.1h-1.1zM438.2 148.7h1.1v1.1h-1.1zM428.5 149.7h1.1v1.1h-1.1zM433.4 147.4h1.1v1.1h-1.1zM434.2 147.0h1.1v1.1h-1.1zM429.8 150.1h1.1v1.1h-1.1zM425.5 150.3h1.1v1.1h-1.1zM427.7 150.2h1.1v1.1h-1.1zM427.1 150.2h1.1v1.1h-1.1zM426.6 150.0h1.1v1.1h-1.1zM424.8 150.4h1.1v1.1h-1.1zM427.6 150.3h1.1v1.1h-1.1zM428.3 150.1h1.1v1.1h-1.1zM425.1 150.2h1.1v1.1h-1.1zM431.1 147.2h1.1v1.1h-1.1zM436.1 145.1h1.1v1.1h-1.1zM425.2 150.4h1.1v1.1h-1.1zM439.2 145.6h1.1v1.1h-1.1zM432.7 146.4h1.1v1.1h-1.1zM434.9 147.7h1.1v1.1h-1.1zM430.6 149.3h1.1v1.1h-1.1zM425.3 150.4h1.1v1.1h-1.1zM424.5 150.4h1.1v1.1h-1.1zM436.8 144.4h1.1v1.1h-1.1zM449.6 125.1h1.1v1.1h-1.1zM427.6 149.8h1.1v1.1h-1.1zM444.2 143.8h1.1v1.1h-1.1zM435.5 149.2h1.1v1.1h-1.1zM426.2 149.8h1.1v1.1h-1.1zM425.0 150.4h1.1v1.1h-1.1zM440.9 138.6h1.1v1.1h-1.1zM426.6 150.2h1.1v1.1h-1.1zM439.7 146.1h1.1v1.1h-1.1zM432.3 147.5h1.1v1.1h-1.1zM426.2 150.1h1.1v1.1h-1.1zM436.1 149.7h1.1v1.1h-1.1zM429.3 149.5h1.1v1.1h-1.1zM431.6 148.5h1.1v1.1h-1.1zM448.2 114.7h1.1v1.1h-1.1zM433.4 145.1h1.1v1.1h-1.1zM424.3 150.4h1.1v1.1h-1.1zM431.9 147.6h1.1v1.1h-1.1zM427.2 149.1h1.1v1.1h-1.1zM431.4 148.6h1.1v1.1h-1.1zM446.9 147.0h1.1v1.1h-1.1zM435.3 148.5h1.1v1.1h-1.1zM426.8 149.8h1.1v1.1h-1.1zM430.6 149.4h1.1v1.1h-1.1zM449.4 142.0h1.1v1.1h-1.1zM426.1 150.2h1.1v1.1h-1.1zM427.3 149.0h1.1v1.1h-1.1zM444.3 149.1h1.1v1.1h-1.1zM434.2 149.3h1.1v1.1h-1.1zM435.9 146.9h1.1v1.1h-1.1zM432.9 148.6h1.1v1.1h-1.1zM425.0 150.1h1.1v1.1h-1.1zM426.1 149.9h1.1v1.1h-1.1zM427.8 149.7h1.1v1.1h-1.1zM429.0 149.7h1.1v1.1h-1.1zM427.1 149.9h1.1v1.1h-1.1zM435.7 147.6h1.1v1.1h-1.1zM434.7 149.3h1.1v1.1h-1.1zM430.9 149.5h1.1v1.1h-1.1zM441.7 142.8h1.1v1.1h-1.1zM426.2 150.0h1.1v1.1h-1.1zM437.4 146.5h1.1v1.1h-1.1zM425.2 150.1h1.1v1.1h-1.1zM427.1 150.1h1.1v1.1h-1.1zM443.9 145.3h1.1v1.1h-1.1zM432.4 147.1h1.1v1.1h-1.1zM429.3 148.2h1.1v1.1h-1.1zM432.7 149.0h1.1v1.1h-1.1zM438.8 145.1h1.1v1.1h-1.1zM426.3 150.2h1.1v1.1h-1.1zM447.9 145.9h1.1v1.1h-1.1zM435.0 147.4h1.1v1.1h-1.1zM446.2 145.6h1.1v1.1h-1.1zM433.8 146.0h1.1v1.1h-1.1zM427.5 149.6h1.1v1.1h-1.1zM436.1 147.5h1.1v1.1h-1.1zM436.9 143.0h1.1v1.1h-1.1zM447.5 131.5h1.1v1.1h-1.1zM426.4 150.2h1.1v1.1h-1.1zM425.9 150.3h1.1v1.1h-1.1zM430.6 149.5h1.1v1.1h-1.1zM430.1 149.0h1.1v1.1h-1.1zM434.5 149.8h1.1v1.1h-1.1zM429.0 150.2h1.1v1.1h-1.1zM431.5 146.9h1.1v1.1h-1.1zM431.8 148.6h1.1v1.1h-1.1zM424.7 150.4h1.1v1.1h-1.1zM454.6 139.0h1.1v1.1h-1.1zM428.8 149.8h1.1v1.1h-1.1zM425.9 150.1h1.1v1.1h-1.1zM447.1 143.8h1.1v1.1h-1.1zM447.4 135.8h1.1v1.1h-1.1zM427.6 149.8h1.1v1.1h-1.1zM448.5 140.7h1.1v1.1h-1.1zM424.5 150.4h1.1v1.1h-1.1zM440.1 148.1h1.1v1.1h-1.1zM429.7 149.7h1.1v1.1h-1.1zM451.9 136.0h1.1v1.1h-1.1zM434.1 149.0h1.1v1.1h-1.1zM436.4 147.1h1.1v1.1h-1.1zM424.9 150.4h1.1v1.1h-1.1zM436.7 147.6h1.1v1.1h-1.1zM429.9 147.6h1.1v1.1h-1.1zM446.7 147.0h1.1v1.1h-1.1zM426.9 150.2h1.1v1.1h-1.1zM425.6 150.3h1.1v1.1h-1.1zM428.2 148.8h1.1v1.1h-1.1zM438.9 144.7h1.1v1.1h-1.1zM434.3 149.4h1.1v1.1h-1.1zM431.5 149.5h1.1v1.1h-1.1zM441.1 146.2h1.1v1.1h-1.1zM427.9 149.9h1.1v1.1h-1.1zM443.8 146.4h1.1v1.1h-1.1zM426.3 149.9h1.1v1.1h-1.1zM426.6 150.2h1.1v1.1h-1.1zM439.2 145.1h1.1v1.1h-1.1zM427.9 149.8h1.1v1.1h-1.1zM425.2 150.3h1.1v1.1h-1.1zM441.8 148.7h1.1v1.1h-1.1zM434.3 149.0h1.1v1.1h-1.1zM442.8 138.0h1.1v1.1h-1.1zM436.1 146.2h1.1v1.1h-1.1zM430.8 149.8h1.1v1.1h-1.1zM444.9 142.9h1.1v1.1h-1.1zM457.6 146.1h1.1v1.1h-1.1zM433.4 146.8h1.1v1.1h-1.1zM424.7 150.4h1.1v1.1h-1.1zM425.3 150.0h1.1v1.1h-1.1zM431.0 147.1h1.1v1.1h-1.1zM442.1 141.8h1.1v1.1h-1.1zM436.5 148.7h1.1v1.1h-1.1zM434.5 147.7h1.1v1.1h-1.1zM425.2 150.4h1.1v1.1h-1.1zM429.1 149.7h1.1v1.1h-1.1zM447.7 145.7h1.1v1.1h-1.1zM431.6 148.9h1.1v1.1h-1.1zM440.0 143.8h1.1v1.1h-1.1zM433.4 146.9h1.1v1.1h-1.1zM434.5 149.7h1.1v1.1h-1.1zM426.3 150.3h1.1v1.1h-1.1zM425.7 150.3h1.1v1.1h-1.1zM452.0 132.9h1.1v1.1h-1.1zM431.4 149.6h1.1v1.1h-1.1zM426.2 150.0h1.1v1.1h-1.1zM436.5 146.8h1.1v1.1h-1.1zM443.4 140.7h1.1v1.1h-1.1zM429.7 149.5h1.1v1.1h-1.1zM435.9 148.1h1.1v1.1h-1.1zM438.7 143.6h1.1v1.1h-1.1zM429.4 148.3h1.1v1.1h-1.1zM426.3 150.1h1.1v1.1h-1.1zM440.3 146.6h1.1v1.1h-1.1zM437.8 147.6h1.1v1.1h-1.1zM427.3 150.0h1.1v1.1h-1.1zM443.3 139.8h1.1v1.1h-1.1zM435.2 148.6h1.1v1.1h-1.1zM429.4 148.1h1.1v1.1h-1.1zM436.2 149.0h1.1v1.1h-1.1zM435.1 147.2h1.1v1.1h-1.1zM431.3 149.4h1.1v1.1h-1.1zM430.8 148.6h1.1v1.1h-1.1zM431.2 143.5h1.1v1.1h-1.1zM455.4 118.5h1.1v1.1h-1.1zM446.6 127.4h1.1v1.1h-1.1zM447.3 120.6h1.1v1.1h-1.1zM453.9 117.6h1.1v1.1h-1.1zM451.5 119.3h1.1v1.1h-1.1zM460.8 123.3h1.1v1.1h-1.1zM455.7 121.5h1.1v1.1h-1.1zM441.2 113.6h1.1v1.1h-1.1zM446.4 121.4h1.1v1.1h-1.1zM443.9 121.6h1.1v1.1h-1.1zM433.6 129.3h1.1v1.1h-1.1zM447.6 116.9h1.1v1.1h-1.1zM447.8 121.5h1.1v1.1h-1.1zM447.0 120.4h1.1v1.1h-1.1zM460.9 112.9h1.1v1.1h-1.1zM450.0 120.5h1.1v1.1h-1.1zM452.3 127.2h1.1v1.1h-1.1zM451.1 113.9h1.1v1.1h-1.1zM458.7 123.4h1.1v1.1h-1.1zM448.0 130.2h1.1v1.1h-1.1zM451.6 131.2h1.1v1.1h-1.1zM434.6 113.6h1.1v1.1h-1.1zM449.8 134.2h1.1v1.1h-1.1zM455.0 141.4h1.1v1.1h-1.1zM444.1 138.9h1.1v1.1h-1.1zM442.4 132.8h1.1v1.1h-1.1zM455.7 137.3h1.1v1.1h-1.1zM431.9 134.3h1.1v1.1h-1.1zM443.1 139.7h1.1v1.1h-1.1zM456.5 139.0h1.1v1.1h-1.1zM456.0 131.2h1.1v1.1h-1.1zM448.7 131.8h1.1v1.1h-1.1zM436.6 131.4h1.1v1.1h-1.1zM430.8 131.4h1.1v1.1h-1.1zM452.9 139.5h1.1v1.1h-1.1zM451.0 131.6h1.1v1.1h-1.1zM456.9 136.1h1.1v1.1h-1.1zM442.1 128.6h1.1v1.1h-1.1zM432.4 136.4h1.1v1.1h-1.1zM439.2 127.6h1.1v1.1h-1.1zM431.1 127.9h1.1v1.1h-1.1zM439.4 130.4h1.1v1.1h-1.1zM445.0 138.9h1.1v1.1h-1.1zM444.6 133.0h1.1v1.1h-1.1zM445.9 136.9h1.1v1.1h-1.1zM439.1 134.5h1.1v1.1h-1.1zM436.5 130.0h1.1v1.1h-1.1zM437.1 136.9h1.1v1.1h-1.1zM444.7 132.6h1.1v1.1h-1.1zM432.6 129.8h1.1v1.1h-1.1zM445.6 128.9h1.1v1.1h-1.1zM454.7 138.9h1.1v1.1h-1.1zM452.4 132.6h1.1v1.1h-1.1zM449.1 133.7h1.1v1.1h-1.1zM441.0 130.2h1.1v1.1h-1.1zM453.8 136.0h1.1v1.1h-1.1zM404.3 137.7h1.1v1.1h-1.1zM407.5 137.7h1.1v1.1h-1.1zM405.7 140.7h1.1v1.1h-1.1zM399.3 139.1h1.1v1.1h-1.1zM410.9 142.3h1.1v1.1h-1.1zM406.4 140.7h1.1v1.1h-1.1zM397.8 138.9h1.1v1.1h-1.1zM415.2 134.1h1.1v1.1h-1.1zM450.1 58.5h1.1v1.1h-1.1zM458.6 72.0h1.1v1.1h-1.1zM472.8 76.2h1.1v1.1h-1.1zM454.8 84.2h1.1v1.1h-1.1zM453.9 97.5h1.1v1.1h-1.1zM464.2 100.2h1.1v1.1h-1.1zM465.2 103.2h1.1v1.1h-1.1zM466.1 111.2h1.1v1.1h-1.1zM463.2 123.2h1.1v1.1h-1.1zM461.9 130.8h1.1v1.1h-1.1zM460.8 135.1h1.1v1.1h-1.1zM447.4 104.5h1.1v1.1h-1.1zM443.4 111.5h1.1v1.1h-1.1zM377.4 111.7h1.1v1.1h-1.1zM384.9 126.0h1.1v1.1h-1.1zM396.8 107.2h1.1v1.1h-1.1zM402.1 113.9h1.1v1.1h-1.1zM402.4 119.7h1.1v1.1h-1.1zM395.8 120.7h1.1v1.1h-1.1zM391.4 134.4h1.1v1.1h-1.1zM394.4 137.4h1.1v1.1h-1.1zM388.4 139.4h1.1v1.1h-1.1z" fill="#000"/>
<g stroke="#222" fill="none">
<path d="M367.8 53.5V151.8H511.5" stroke-width="1.3"/>
<path d="M367.8 56.7h-2.5M367.8 88.4h-2.5M367.8 120.1h-2.5M367.8 151.8h-2.5M368.2 151.8v2.5M379.5 151.8v1.3M390.8 151.8v1.3M402.1 151.8v1.3M413.4 151.8v1.3M424.7 151.8v2.5M436.0 151.8v1.3M447.3 151.8v1.3M458.6 151.8v1.3M469.9 151.8v1.3M481.2 151.8v2.5M492.5 151.8v1.3M503.8 151.8v1.3" stroke-width="0.8"/>
</g>
<text x="363.2" y="61.2" font-size="6.6" fill="#333" text-anchor="end" stroke="#333" stroke-width="0.12">10<tspan font-size="4.3" dy="-3.6">−300</tspan></text>
<text x="363.2" y="92.9" font-size="6.6" fill="#333" text-anchor="end" stroke="#333" stroke-width="0.12">10<tspan font-size="4.3" dy="-3.6">−200</tspan></text>
<text x="363.2" y="124.6" font-size="6.6" fill="#333" text-anchor="end" stroke="#333" stroke-width="0.12">10<tspan font-size="4.3" dy="-3.6">−100</tspan></text>
<text x="363.2" y="156.3" font-size="6.6" fill="#333" text-anchor="end" stroke="#333" stroke-width="0.12">10<tspan font-size="4.3" dy="-3.6">0</tspan></text>
<text x="368.20" y="164.10" font-size="7.4" fill="#333" text-anchor="middle"  stroke="#333" stroke-width="0.12">−5</text>
<text x="424.70" y="164.10" font-size="7.4" fill="#333" text-anchor="middle"  stroke="#333" stroke-width="0.12">0</text>
<text x="481.20" y="164.10" font-size="7.4" fill="#333" text-anchor="middle"  stroke="#333" stroke-width="0.12">5</text>
<text x="428.95" y="176.00" font-size="9" fill="#333" textLength="21.20" lengthAdjust="spacingAndGlyphs"  stroke="#333" stroke-width="0.12">Log<tspan font-size="5.5" dy="2">2</tspan><tspan dy="-2">FC</tspan></text>
<text x="454.10" y="61.70" font-size="7.2" fill="#333" textLength="20.70" lengthAdjust="spacingAndGlyphs"  stroke="#333" stroke-width="0.12">TREM2</text>
<text x="493.00" y="62.20" font-size="7.2" fill="#333" textLength="19.80" lengthAdjust="spacingAndGlyphs"  stroke="#333" stroke-width="0.12">SPARC</text>
<text x="475.20" y="68.80" font-size="7.2" fill="#333" textLength="22.20" lengthAdjust="spacingAndGlyphs"  stroke="#333" stroke-width="0.12">S100A9</text>
<text x="464.80" y="73.50" font-size="7.2" fill="#333" textLength="8.10" lengthAdjust="spacingAndGlyphs"  stroke="#333" stroke-width="0.12">C3</text>
<text x="475.20" y="78.60" font-size="7.2" fill="#333" textLength="19.80" lengthAdjust="spacingAndGlyphs"  stroke="#333" stroke-width="0.12">IL17RE</text>
<text x="481.20" y="86.70" font-size="7.2" fill="#333" textLength="24.10" lengthAdjust="spacingAndGlyphs"  stroke="#333" stroke-width="0.12">SIGLEC1</text>
<text x="462.00" y="97.10" font-size="7.2" fill="#333" textLength="15.10" lengthAdjust="spacingAndGlyphs"  stroke="#333" stroke-width="0.12">NRP1</text>
<text x="483.10" y="99.00" font-size="7.2" fill="#333" textLength="23.20" lengthAdjust="spacingAndGlyphs"  stroke="#333" stroke-width="0.12">WNT7B</text>
<text x="471.00" y="107.40" font-size="7.2" fill="#333" textLength="30.20" lengthAdjust="spacingAndGlyphs"  stroke="#333" stroke-width="0.12">SERPINB2</text>
<text x="468.60" y="114.00" font-size="7.2" fill="#333" textLength="28.80" lengthAdjust="spacingAndGlyphs"  stroke="#333" stroke-width="0.12">SIGLEC11</text>
<text x="470.00" y="120.00" font-size="7.2" fill="#333" textLength="19.90" lengthAdjust="spacingAndGlyphs"  stroke="#333" stroke-width="0.12">CD209</text>
<text x="480.50" y="130.00" font-size="7.2" fill="#333" textLength="17.70" lengthAdjust="spacingAndGlyphs"  stroke="#333" stroke-width="0.12">VSIG4</text>
<text x="476.00" y="137.50" font-size="7.2" fill="#333" textLength="12.70" lengthAdjust="spacingAndGlyphs"  stroke="#333" stroke-width="0.12">ACE</text>
<text x="465.00" y="143.70" font-size="7.2" fill="#333" textLength="23.70" lengthAdjust="spacingAndGlyphs"  stroke="#333" stroke-width="0.12">RNASE1</text>
<text x="370.10" y="109.40" font-size="7.2" fill="#333" textLength="16.00" lengthAdjust="spacingAndGlyphs"  stroke="#333" stroke-width="0.12">IGLL1</text>
<text x="382.20" y="115.20" font-size="7.2" fill="#333" textLength="15.00" lengthAdjust="spacingAndGlyphs"  stroke="#333" stroke-width="0.12">KLC2</text>
<text x="369.00" y="124.60" font-size="7.2" fill="#333" textLength="19.40" lengthAdjust="spacingAndGlyphs"  stroke="#333" stroke-width="0.12">LRFN3</text>
<text x="368.70" y="133.90" font-size="7.2" fill="#333" textLength="22.30" lengthAdjust="spacingAndGlyphs"  stroke="#333" stroke-width="0.12">MMP15</text>
<text x="393.90" y="130.60" font-size="7.2" fill="#333" textLength="27.00" lengthAdjust="spacingAndGlyphs"  stroke="#333" stroke-width="0.12">C11orf95</text>
<text x="371.00" y="149.80" font-size="7.2" fill="#333" textLength="17.20" lengthAdjust="spacingAndGlyphs"  stroke="#333" stroke-width="0.12">IL2RA</text>
<path d="M510.5 55.8L511.3 57.2L512.3 55.5M462 66L465 68M474.2 64.1L476.1 66M480.8 88.6L479.9 94.2M464.8 101.8L482.7 98.6M467.7 124.4L479.9 129.1M465.8 125.3L476.1 133.8M465.6 127.5L469.4 137.6M391.5 117.4L389.5 124.4M387 129.2L392.1 128.4M384 128.4V131M376.9 146.1L389 138" stroke="#333" stroke-width="0.6" fill="none"/>
<text x="53.20" y="205.90" font-size="11.4" fill="#000" font-weight="bold"  stroke="#000" stroke-width="0.12">H</text>
<text x="165.80" y="219.20" font-size="8.7" fill="#222" textLength="188.40" lengthAdjust="spacingAndGlyphs"  stroke="#222" stroke-width="0.12">MOLM-13 RNA-seq, Day 3 Mezigdomide 50 nM</text>
<rect x="53" y="240" width="197.2" height="204.5" fill="#f3f3f5"/>
<rect x="92.7" y="250.5" width="149.6" height="138.7" fill="#fff" stroke="#c0c0c6" stroke-width="0.8"/>
<text x="116.90" y="233.60" font-size="7.2" fill="#222" textLength="70.40" lengthAdjust="spacingAndGlyphs"  stroke="#222" stroke-width="0.12">HOXA9_DN_V1_DN</text>
<text x="113.30" y="246.60" font-size="6.9" fill="#333" textLength="107.70" lengthAdjust="spacingAndGlyphs"  stroke="#333" stroke-width="0.12">Enrichment plot: HOXA9_DN.V1_DN</text>
<text transform="translate(68.8 316) rotate(-90)" font-size="9.2" fill="#2a2a2a" textLength="66" lengthAdjust="spacingAndGlyphs" stroke="#2a2a2a" stroke-width="0.12">Enrichment score (ES)</text>
<text x="86.40" y="263.80" font-size="7.1" fill="#333" text-anchor="end"  stroke="#333" stroke-width="0.12">0.0</text>
<text x="86.40" y="275.10" font-size="7.1" fill="#333" text-anchor="end"  stroke="#333" stroke-width="0.12">−0.1</text>
<text x="86.40" y="286.40" font-size="7.1" fill="#333" text-anchor="end"  stroke="#333" stroke-width="0.12">−0.2</text>
<text x="86.40" y="297.70" font-size="7.1" fill="#333" text-anchor="end"  stroke="#333" stroke-width="0.12">−0.3</text>
<text x="86.40" y="309.00" font-size="7.1" fill="#333" text-anchor="end"  stroke="#333" stroke-width="0.12">−0.4</text>
<path d="M92.7 261.3h-1.8M92.7 272.6h-1.8M92.7 283.9h-1.8M92.7 295.2h-1.8M92.7 306.5h-1.8" stroke="#999" stroke-width="0.7"/>
<path d="M92.7 261.3H241.3" stroke="#b0b0b0" stroke-width="0.7"/>
<path d="M93.1 261.8 L94.0 259.5 L94.6 258.0 L95.5 257.5 L96.9 255.7 L98.0 256.2 L99.2 254.9 L100.5 256.0 L102.3 255.7 L103.5 254.6 L105.4 254.5 L106.5 255.3 L108.5 253.4 L110.0 254.0 L111.5 254.5 L116.2 256.5 L120.8 259.5 L126.9 262.6 L136.2 268.0 L143.8 273.4 L151.5 279.5 L159.2 285.7 L165.0 290.3 L172.7 295.7 L180.4 301.1 L188.1 304.9 L195.8 308.8 L203.5 311.1 L208.1 312.6 L211.0 312.2 L214.2 311.8 L217.0 312.8 L219.6 313.4 L221.5 312.5 L222.7 311.1 L224.2 306.5 L226.5 300.3 L228.0 297.5 L229.6 293.4 L231.9 284.9 L233.5 275.7 L235.0 261.1" stroke="#d4ee9c" stroke-width="2.6" fill="none" stroke-linejoin="round" transform="translate(0.3 0.3)"/>
<path d="M93.1 261.8 L94.0 259.5 L94.6 258.0 L95.5 257.5 L96.9 255.7 L98.0 256.2 L99.2 254.9 L100.5 256.0 L102.3 255.7 L103.5 254.6 L105.4 254.5 L106.5 255.3 L108.5 253.4 L110.0 254.0 L111.5 254.5 L116.2 256.5 L120.8 259.5 L126.9 262.6 L136.2 268.0 L143.8 273.4 L151.5 279.5 L159.2 285.7 L165.0 290.3 L172.7 295.7 L180.4 301.1 L188.1 304.9 L195.8 308.8 L203.5 311.1 L208.1 312.6 L211.0 312.2 L214.2 311.8 L217.0 312.8 L219.6 313.4 L221.5 312.5 L222.7 311.1 L224.2 306.5 L226.5 300.3 L228.0 297.5 L229.6 293.4 L231.9 284.9 L233.5 275.7 L235.0 261.1" stroke="#62803a" stroke-width="1.1" fill="none" stroke-linejoin="round"/>
<rect x="93" y="317.4" width="7" height="21.3" fill="#e4e4e4"/>
<rect x="104" y="317.4" width="14" height="21.3" fill="#d8d8d8"/>
<rect x="128" y="317.4" width="10" height="21.3" fill="#d0d0d0"/>
<rect x="176" y="317.4" width="60" height="21.3" fill="#bcbcbc"/>
<rect x="196" y="317.4" width="18" height="21.3" fill="#a8a8a8"/>
<rect x="221" y="317.4" width="14" height="21.3" fill="#888"/>
<rect x="93.4" y="317.4" width="1.5" height="21.3" fill="#888"/>
<rect x="96.5" y="317.4" width="0.8" height="21.3" fill="#999"/>
<rect x="99.5" y="317.4" width="0.8" height="21.3" fill="#bbb"/>
<rect x="101.8" y="317.4" width="1.2" height="21.3" fill="#333"/>
<rect x="104.9" y="317.4" width="1.2" height="21.3" fill="#444"/>
<rect x="106.3" y="317.4" width="1.6" height="21.3" fill="#777"/>
<rect x="111.0" y="317.4" width="1.6" height="21.3" fill="#888"/>
<rect x="113.4" y="317.4" width="2.2" height="21.3" fill="#555"/>
<rect x="116.5" y="317.4" width="0.8" height="21.3" fill="#888"/>
<rect x="121.0" y="317.4" width="1.4" height="21.3" fill="#666"/>
<rect x="122.8" y="317.4" width="2" height="21.3" fill="#555"/>
<rect x="128.0" y="317.4" width="1.5" height="21.3" fill="#999"/>
<rect x="131.0" y="317.4" width="1.6" height="21.3" fill="#777"/>
<rect x="133.0" y="317.4" width="1.2" height="21.3" fill="#555"/>
<rect x="134.6" y="317.4" width="1.2" height="21.3" fill="#888"/>
<rect x="136.2" y="317.4" width="1.2" height="21.3" fill="#333"/>
<rect x="138.8" y="317.4" width="2.2" height="21.3" fill="#ccc"/>
<rect x="144.2" y="317.4" width="2.3" height="21.3" fill="#444"/>
<rect x="151.0" y="317.4" width="1.6" height="21.3" fill="#888"/>
<rect x="155.0" y="317.4" width="1.5" height="21.3" fill="#444"/>
<rect x="160.0" y="317.4" width="1.6" height="21.3" fill="#bbb"/>
<rect x="165.8" y="317.4" width="1.1" height="21.3" fill="#444"/>
<rect x="168.9" y="317.4" width="0.7" height="21.3" fill="#666"/>
<rect x="170.5" y="317.4" width="0.6" height="21.3" fill="#777"/>
<rect x="172.3" y="317.4" width="0.8" height="21.3" fill="#555"/>
<rect x="174.6" y="317.4" width="0.9" height="21.3" fill="#555"/>
<rect x="176.9" y="317.4" width="2.3" height="21.3" fill="#333"/>
<rect x="180.8" y="317.4" width="2.2" height="21.3" fill="#222"/>
<rect x="184.6" y="317.4" width="1.6" height="21.3" fill="#666"/>
<rect x="187.4" y="317.4" width="1.5" height="21.3" fill="#222"/>
<rect x="190.0" y="317.4" width="0.8" height="21.3" fill="#555"/>
<rect x="193.0" y="317.4" width="1.6" height="21.3" fill="#444"/>
<rect x="195.4" y="317.4" width="1.6" height="21.3" fill="#666"/>
<rect x="198.5" y="317.4" width="3" height="21.3" fill="#444"/>
<rect x="203.0" y="317.4" width="3" height="21.3" fill="#888"/>
<rect x="207.7" y="317.4" width="1.5" height="21.3" fill="#222"/>
<rect x="210.8" y="317.4" width="2.2" height="21.3" fill="#777"/>
<rect x="214.6" y="317.4" width="1.6" height="21.3" fill="#444"/>
<rect x="217.0" y="317.4" width="1.5" height="21.3" fill="#555"/>
<rect x="220.0" y="317.4" width="1.5" height="21.3" fill="#444"/>
<rect x="222.3" y="317.4" width="2.3" height="21.3" fill="#222"/>
<rect x="226.0" y="317.4" width="2.5" height="21.3" fill="#222"/>
<rect x="230.0" y="317.4" width="3.8" height="21.3" fill="#1a1a1a"/>
<defs><linearGradient id="cb0" x1="0" x2="1" y1="0" y2="0"><stop offset="0" stop-color="#b8303a"/><stop offset="0.19" stop-color="#c4444e"/><stop offset="0.2" stop-color="#cc5a64"/><stop offset="0.29" stop-color="#d67a84"/><stop offset="0.3" stop-color="#dcb4d0"/><stop offset="0.44" stop-color="#e2cce2"/><stop offset="0.46" stop-color="#e6e2f2"/><stop offset="0.6" stop-color="#dcdcf0"/><stop offset="0.7" stop-color="#c8c6e6"/><stop offset="0.72" stop-color="#a8a4d8"/><stop offset="0.735" stop-color="#6a62b6"/><stop offset="0.8" stop-color="#4c42a4"/><stop offset="0.86" stop-color="#3c3098"/><stop offset="1" stop-color="#302490"/></linearGradient></defs>
<rect x="92.7" y="338.7" width="142.6" height="5.7" fill="url(#cb0)"/>
<text x="95.00" y="349.00" font-size="4.6" fill="#8a4a4a" textLength="58.00" lengthAdjust="spacingAndGlyphs"  stroke="#8a4a4a" stroke-width="0.12">‘na_pos’ (positively correlated)</text>
<path d="M156.6 345V389" stroke="#d8d8d8" stroke-width="0.7"/>
<text x="139.20" y="368.00" font-size="4.8" fill="#222" textLength="35.40" lengthAdjust="spacingAndGlyphs"  stroke="#222" stroke-width="0.12">Zero cross at 7416</text>
<text x="162.30" y="387.00" font-size="4.6" fill="#505a8a" textLength="61.50" lengthAdjust="spacingAndGlyphs"  stroke="#505a8a" stroke-width="0.12">‘na_neg’ (negatively correlated)</text>
<path d="M93.0 372.5 L93.0 362.5 C93.5 367.5,95.2 370,99.7 371.3 L156.6 372.5 L227.0 373.6 C232.0 374.2,234.0 376,234.7 381.5 L235.0 372.5 Z" fill="#dadada" stroke="#b4b4b4" stroke-width="0.5"/>
<text x="86.9" y="347.9" font-size="7" fill="#333" text-anchor="end" stroke="#333" stroke-width="0.12">8</text>
<text x="86.9" y="354.8" font-size="7" fill="#333" text-anchor="end" stroke="#333" stroke-width="0.12">6</text>
<text x="86.9" y="361.7" font-size="7" fill="#333" text-anchor="end" stroke="#333" stroke-width="0.12">4</text>
<text x="86.9" y="368.7" font-size="7" fill="#333" text-anchor="end" stroke="#333" stroke-width="0.12">2</text>
<text x="86.9" y="375.6" font-size="7" fill="#333" text-anchor="end" stroke="#333" stroke-width="0.12">0</text>
<text x="86.9" y="382.5" font-size="7" fill="#333" text-anchor="end" stroke="#333" stroke-width="0.12">−2</text>
<text x="86.9" y="389.4" font-size="7" fill="#333" text-anchor="end" stroke="#333" stroke-width="0.12">−4</text>
<text transform="translate(95.8 398.0) rotate(-45)" font-size="7.6" fill="#333" text-anchor="end" textLength="4.2" lengthAdjust="spacingAndGlyphs" stroke="#333" stroke-width="0.12">0</text>
<text transform="translate(112.8 398.0) rotate(-45)" font-size="7.6" fill="#333" text-anchor="end" textLength="17.6" lengthAdjust="spacingAndGlyphs" stroke="#333" stroke-width="0.12">2,000</text>
<text transform="translate(129.7 398.0) rotate(-45)" font-size="7.6" fill="#333" text-anchor="end" textLength="17.6" lengthAdjust="spacingAndGlyphs" stroke="#333" stroke-width="0.12">4,000</text>
<text transform="translate(146.7 398.0) rotate(-45)" font-size="7.6" fill="#333" text-anchor="end" textLength="17.6" lengthAdjust="spacingAndGlyphs" stroke="#333" stroke-width="0.12">6,000</text>
<text transform="translate(163.6 398.0) rotate(-45)" font-size="7.6" fill="#333" text-anchor="end" textLength="17.6" lengthAdjust="spacingAndGlyphs" stroke="#333" stroke-width="0.12">8,000</text>
<text transform="translate(180.6 398.0) rotate(-45)" font-size="7.6" fill="#333" text-anchor="end" textLength="20.4" lengthAdjust="spacingAndGlyphs" stroke="#333" stroke-width="0.12">10,000</text>
<text transform="translate(197.5 398.0) rotate(-45)" font-size="7.6" fill="#333" text-anchor="end" textLength="20.4" lengthAdjust="spacingAndGlyphs" stroke="#333" stroke-width="0.12">12,000</text>
<text transform="translate(214.5 398.0) rotate(-45)" font-size="7.6" fill="#333" text-anchor="end" textLength="20.4" lengthAdjust="spacingAndGlyphs" stroke="#333" stroke-width="0.12">14,000</text>
<text transform="translate(231.4 398.0) rotate(-45)" font-size="7.6" fill="#333" text-anchor="end" textLength="20.4" lengthAdjust="spacingAndGlyphs" stroke="#333" stroke-width="0.12">16,000</text>
<path d="M92.7 345.4h-1.8M92.7 352.3h-1.8M92.7 359.2h-1.8M92.7 366.2h-1.8M92.7 373.1h-1.8M92.7 380.0h-1.8M92.7 386.9h-1.8M93.4 389.2v2.2M110.4 389.2v2.2M127.3 389.2v2.2M144.2 389.2v2.2M161.2 389.2v2.2M178.2 389.2v2.2M195.1 389.2v2.2M212.1 389.2v2.2M229.0 389.2v2.2" stroke="#999" stroke-width="0.7"/>
<text transform="translate(64.2 393.6) rotate(-90)" font-size="8.4" fill="#333" textLength="55" lengthAdjust="spacingAndGlyphs" stroke="#333" stroke-width="0.12">Ranked list metric</text>
<text transform="translate(74.4 383.2) rotate(-90)" font-size="8.4" fill="#333" textLength="35" lengthAdjust="spacingAndGlyphs" stroke="#333" stroke-width="0.12">(Preranked)</text>
<text x="132.00" y="424.40" font-size="8.2" fill="#222" textLength="73.00" lengthAdjust="spacingAndGlyphs"  stroke="#222" stroke-width="0.12">Rank in ordered dataset</text>
<path d="M81.5 437.4h5.7" stroke="#8ab440" stroke-width="0.9"/><path d="M151 437.4h5.7" stroke="#555" stroke-width="0.7"/><path d="M176.4 437.4h4.6" stroke="#bbb" stroke-width="0.9"/>
<text x="91.20" y="439.50" font-size="6.6" fill="#333" textLength="53.80" lengthAdjust="spacingAndGlyphs"  stroke="#333" stroke-width="0.12">Enrichment profile</text>
<text x="161.00" y="439.50" font-size="6.6" fill="#333" textLength="11.00" lengthAdjust="spacingAndGlyphs"  stroke="#333" stroke-width="0.12">Hits</text>
<text x="184.50" y="439.50" font-size="6.6" fill="#333" textLength="64.20" lengthAdjust="spacingAndGlyphs"  stroke="#333" stroke-width="0.12">Ranking metric scores</text>
<text x="124.20" y="453.70" font-size="6.4" fill="#222"  stroke="#222" stroke-width="0.12">NES: −1.72</text>
<text x="124.20" y="461.40" font-size="6.4" fill="#222"  stroke="#222" stroke-width="0.12">Nom. P-value: .00</text>
<text x="124.20" y="469.30" font-size="6.4" fill="#222"  stroke="#222" stroke-width="0.12">FDR q-value: 0.023</text>
<rect x="268.5" y="240" width="198" height="204.5" fill="#f3f3f5"/>
<rect x="308.2" y="250.5" width="150.4" height="138.7" fill="#fff" stroke="#c0c0c6" stroke-width="0.8"/>
<text x="332.40" y="233.60" font-size="7.2" fill="#222" textLength="68.40" lengthAdjust="spacingAndGlyphs"  stroke="#222" stroke-width="0.12">HOXA9_DN_V1_UP</text>
<text x="328.80" y="246.60" font-size="6.9" fill="#333" textLength="107.70" lengthAdjust="spacingAndGlyphs"  stroke="#333" stroke-width="0.12">Enrichment plot: HOXA9_DN.V1_UP</text>
<text transform="translate(284.3 316) rotate(-90)" font-size="9.2" fill="#2a2a2a" textLength="66" lengthAdjust="spacingAndGlyphs" stroke="#2a2a2a" stroke-width="0.12">Enrichment score (ES)</text>
<text x="301.90" y="255.70" font-size="7.1" fill="#333" text-anchor="end"  stroke="#333" stroke-width="0.12">0.7</text>
<text x="301.90" y="264.41" font-size="7.1" fill="#333" text-anchor="end"  stroke="#333" stroke-width="0.12">0.6</text>
<text x="301.90" y="273.12" font-size="7.1" fill="#333" text-anchor="end"  stroke="#333" stroke-width="0.12">0.5</text>
<text x="301.90" y="281.83" font-size="7.1" fill="#333" text-anchor="end"  stroke="#333" stroke-width="0.12">0.4</text>
<text x="301.90" y="290.54" font-size="7.1" fill="#333" text-anchor="end"  stroke="#333" stroke-width="0.12">0.3</text>
<text x="301.90" y="299.25" font-size="7.1" fill="#333" text-anchor="end"  stroke="#333" stroke-width="0.12">0.2</text>
<text x="301.90" y="307.96" font-size="7.1" fill="#333" text-anchor="end"  stroke="#333" stroke-width="0.12">0.1</text>
<text x="301.90" y="316.67" font-size="7.1" fill="#333" text-anchor="end"  stroke="#333" stroke-width="0.12">0.0</text>
<path d="M308.2 253.2h-1.8M308.2 261.9h-1.8M308.2 270.6h-1.8M308.2 279.3h-1.8M308.2 288.0h-1.8M308.2 296.8h-1.8M308.2 305.5h-1.8M308.2 314.2h-1.8" stroke="#999" stroke-width="0.7"/>
<path d="M308.2 313.6H457.6" stroke="#b0b0b0" stroke-width="0.7"/>
<path d="M308.4 313.6 L308.9 304.9 L309.6 286.5 L311.2 268.0 L312.7 262.6 L314.0 259.0 L315.0 256.5 L316.0 256.0 L317.3 255.4 L318.5 256.2 L319.6 255.4 L321.0 254.8 L321.9 254.2 L324.0 254.4 L326.5 253.7 L329.5 254.0 L332.7 254.5 L338.8 256.5 L351.2 262.6 L366.5 271.8 L380.0 279.5 L389.2 285.7 L400.0 291.8 L410.8 297.5 L421.5 301.8 L430.8 304.9 L438.5 308.8 L446.2 312.6 L450.8 313.4" stroke="#d4ee9c" stroke-width="2.6" fill="none" stroke-linejoin="round" transform="translate(0.3 0.3)"/>
<path d="M308.4 313.6 L308.9 304.9 L309.6 286.5 L311.2 268.0 L312.7 262.6 L314.0 259.0 L315.0 256.5 L316.0 256.0 L317.3 255.4 L318.5 256.2 L319.6 255.4 L321.0 254.8 L321.9 254.2 L324.0 254.4 L326.5 253.7 L329.5 254.0 L332.7 254.5 L338.8 256.5 L351.2 262.6 L366.5 271.8 L380.0 279.5 L389.2 285.7 L400.0 291.8 L410.8 297.5 L421.5 301.8 L430.8 304.9 L438.5 308.8 L446.2 312.6 L450.8 313.4" stroke="#62803a" stroke-width="1.1" fill="none" stroke-linejoin="round"/>
<rect x="309" y="317.4" width="41" height="21.3" fill="#b4b4b4"/>
<rect x="350" y="317.4" width="7" height="21.3" fill="#e8e8e8"/>
<rect x="357" y="317.4" width="23" height="21.3" fill="#d4d4d4"/>
<rect x="386" y="317.4" width="66" height="21.3" fill="#dedede"/>
<rect x="396" y="317.4" width="8" height="21.3" fill="#aaa"/>
<rect x="308.8" y="317.4" width="3.1" height="21.3" fill="#1a1a1a"/>
<rect x="312.7" y="317.4" width="2.3" height="21.3" fill="#333"/>
<rect x="316.5" y="317.4" width="0.9" height="21.3" fill="#777"/>
<rect x="318.0" y="317.4" width="2.4" height="21.3" fill="#999"/>
<rect x="322.0" y="317.4" width="3" height="21.3" fill="#444"/>
<rect x="326.5" y="317.4" width="1.5" height="21.3" fill="#666"/>
<rect x="328.8" y="317.4" width="2.4" height="21.3" fill="#333"/>
<rect x="332.7" y="317.4" width="2.3" height="21.3" fill="#555"/>
<rect x="336.5" y="317.4" width="3.1" height="21.3" fill="#999"/>
<rect x="341.0" y="317.4" width="1.7" height="21.3" fill="#888"/>
<rect x="344.2" y="317.4" width="1.6" height="21.3" fill="#333"/>
<rect x="346.5" y="317.4" width="2.3" height="21.3" fill="#777"/>
<rect x="351.0" y="317.4" width="3" height="21.3" fill="#d8d8d8"/>
<rect x="357.3" y="317.4" width="3.1" height="21.3" fill="#666"/>
<rect x="362.0" y="317.4" width="1.5" height="21.3" fill="#555"/>
<rect x="365.0" y="317.4" width="1.5" height="21.3" fill="#666"/>
<rect x="368.0" y="317.4" width="0.9" height="21.3" fill="#777"/>
<rect x="371.0" y="317.4" width="1.7" height="21.3" fill="#666"/>
<rect x="375.0" y="317.4" width="1" height="21.3" fill="#555"/>
<rect x="377.3" y="317.4" width="1.5" height="21.3" fill="#777"/>
<rect x="386.2" y="317.4" width="1.5" height="21.3" fill="#444"/>
<rect x="390.0" y="317.4" width="1.5" height="21.3" fill="#888"/>
<rect x="393.0" y="317.4" width="0.9" height="21.3" fill="#666"/>
<rect x="397.7" y="317.4" width="5.3" height="21.3" fill="#777"/>
<rect x="405.4" y="317.4" width="0.9" height="21.3" fill="#666"/>
<rect x="409.2" y="317.4" width="3.1" height="21.3" fill="#444"/>
<rect x="413.8" y="317.4" width="1.6" height="21.3" fill="#666"/>
<rect x="417.0" y="317.4" width="1.5" height="21.3" fill="#777"/>
<rect x="420.0" y="317.4" width="2.3" height="21.3" fill="#333"/>
<rect x="423.8" y="317.4" width="0.9" height="21.3" fill="#666"/>
<rect x="426.2" y="317.4" width="1.5" height="21.3" fill="#333"/>
<rect x="430.0" y="317.4" width="3" height="21.3" fill="#444"/>
<rect x="436.2" y="317.4" width="1.5" height="21.3" fill="#888"/>
<rect x="440.8" y="317.4" width="0.8" height="21.3" fill="#888"/>
<rect x="443.0" y="317.4" width="1.6" height="21.3" fill="#666"/>
<rect x="446.0" y="317.4" width="1.7" height="21.3" fill="#aaa"/>
<rect x="450.0" y="317.4" width="0.9" height="21.3" fill="#777"/>
<defs><linearGradient id="cb215" x1="0" x2="1" y1="0" y2="0"><stop offset="0" stop-color="#a82434"/><stop offset="0.18" stop-color="#b83a46"/><stop offset="0.28" stop-color="#cc6070"/><stop offset="0.29" stop-color="#dcb0cc"/><stop offset="0.45" stop-color="#e4d0e6"/><stop offset="0.46" stop-color="#dcd4ea"/><stop offset="0.6" stop-color="#d8d6ec"/><stop offset="0.61" stop-color="#c8c4e4"/><stop offset="0.72" stop-color="#b0acd8"/><stop offset="0.73" stop-color="#7c74bc"/><stop offset="0.85" stop-color="#5a50ac"/><stop offset="0.86" stop-color="#3a2e96"/><stop offset="1" stop-color="#2a1e86"/></linearGradient></defs>
<rect x="308.2" y="338.7" width="143.1" height="5.7" fill="url(#cb215)"/>
<text x="310.50" y="349.00" font-size="4.6" fill="#8a4a4a" textLength="58.00" lengthAdjust="spacingAndGlyphs"  stroke="#8a4a4a" stroke-width="0.12">‘na_pos’ (positively correlated)</text>
<path d="M372.1 345V389" stroke="#d8d8d8" stroke-width="0.7"/>
<text x="354.70" y="368.00" font-size="4.8" fill="#222" textLength="35.40" lengthAdjust="spacingAndGlyphs"  stroke="#222" stroke-width="0.12">Zero cross at 7416</text>
<text x="377.80" y="387.00" font-size="4.6" fill="#505a8a" textLength="61.50" lengthAdjust="spacingAndGlyphs"  stroke="#505a8a" stroke-width="0.12">‘na_neg’ (negatively correlated)</text>
<path d="M308.5 372.5 L308.5 362.5 C309.0 367.5,310.7 370,315.2 371.3 L372.1 372.5 L442.5 373.6 C447.5 374.2,449.5 376,450.2 381.5 L450.5 372.5 Z" fill="#dadada" stroke="#b4b4b4" stroke-width="0.5"/>
<text x="302.4" y="347.9" font-size="7" fill="#333" text-anchor="end" stroke="#333" stroke-width="0.12">8</text>
<text x="302.4" y="354.8" font-size="7" fill="#333" text-anchor="end" stroke="#333" stroke-width="0.12">6</text>
<text x="302.4" y="361.7" font-size="7" fill="#333" text-anchor="end" stroke="#333" stroke-width="0.12">4</text>
<text x="302.4" y="368.7" font-size="7" fill="#333" text-anchor="end" stroke="#333" stroke-width="0.12">2</text>
<text x="302.4" y="375.6" font-size="7" fill="#333" text-anchor="end" stroke="#333" stroke-width="0.12">0</text>
<text x="302.4" y="382.5" font-size="7" fill="#333" text-anchor="end" stroke="#333" stroke-width="0.12">−2</text>
<text x="302.4" y="389.4" font-size="7" fill="#333" text-anchor="end" stroke="#333" stroke-width="0.12">−4</text>
<text transform="translate(311.3 398.0) rotate(-45)" font-size="7.6" fill="#333" text-anchor="end" textLength="4.2" lengthAdjust="spacingAndGlyphs" stroke="#333" stroke-width="0.12">0</text>
<text transform="translate(328.2 398.0) rotate(-45)" font-size="7.6" fill="#333" text-anchor="end" textLength="17.6" lengthAdjust="spacingAndGlyphs" stroke="#333" stroke-width="0.12">2,000</text>
<text transform="translate(345.2 398.0) rotate(-45)" font-size="7.6" fill="#333" text-anchor="end" textLength="17.6" lengthAdjust="spacingAndGlyphs" stroke="#333" stroke-width="0.12">4,000</text>
<text transform="translate(362.1 398.0) rotate(-45)" font-size="7.6" fill="#333" text-anchor="end" textLength="17.6" lengthAdjust="spacingAndGlyphs" stroke="#333" stroke-width="0.12">6,000</text>
<text transform="translate(379.1 398.0) rotate(-45)" font-size="7.6" fill="#333" text-anchor="end" textLength="17.6" lengthAdjust="spacingAndGlyphs" stroke="#333" stroke-width="0.12">8,000</text>
<text transform="translate(396.0 398.0) rotate(-45)" font-size="7.6" fill="#333" text-anchor="end" textLength="20.4" lengthAdjust="spacingAndGlyphs" stroke="#333" stroke-width="0.12">10,000</text>
<text transform="translate(413.0 398.0) rotate(-45)" font-size="7.6" fill="#333" text-anchor="end" textLength="20.4" lengthAdjust="spacingAndGlyphs" stroke="#333" stroke-width="0.12">12,000</text>
<text transform="translate(429.9 398.0) rotate(-45)" font-size="7.6" fill="#333" text-anchor="end" textLength="20.4" lengthAdjust="spacingAndGlyphs" stroke="#333" stroke-width="0.12">14,000</text>
<text transform="translate(446.9 398.0) rotate(-45)" font-size="7.6" fill="#333" text-anchor="end" textLength="20.4" lengthAdjust="spacingAndGlyphs" stroke="#333" stroke-width="0.12">16,000</text>
<path d="M308.2 345.4h-1.8M308.2 352.3h-1.8M308.2 359.2h-1.8M308.2 366.2h-1.8M308.2 373.1h-1.8M308.2 380.0h-1.8M308.2 386.9h-1.8M308.9 389.2v2.2M325.8 389.2v2.2M342.8 389.2v2.2M359.8 389.2v2.2M376.7 389.2v2.2M393.6 389.2v2.2M410.6 389.2v2.2M427.5 389.2v2.2M444.5 389.2v2.2" stroke="#999" stroke-width="0.7"/>
<text transform="translate(279.7 393.6) rotate(-90)" font-size="8.4" fill="#333" textLength="55" lengthAdjust="spacingAndGlyphs" stroke="#333" stroke-width="0.12">Ranked list metric</text>
<text transform="translate(289.9 383.2) rotate(-90)" font-size="8.4" fill="#333" textLength="35" lengthAdjust="spacingAndGlyphs" stroke="#333" stroke-width="0.12">(Preranked)</text>
<text x="347.50" y="424.40" font-size="8.2" fill="#222" textLength="73.00" lengthAdjust="spacingAndGlyphs"  stroke="#222" stroke-width="0.12">Rank in ordered dataset</text>
<path d="M297.0 437.4h5.7" stroke="#8ab440" stroke-width="0.9"/><path d="M366.5 437.4h5.7" stroke="#555" stroke-width="0.7"/><path d="M391.9 437.4h4.6" stroke="#bbb" stroke-width="0.9"/>
<text x="306.70" y="439.50" font-size="6.6" fill="#333" textLength="53.80" lengthAdjust="spacingAndGlyphs"  stroke="#333" stroke-width="0.12">Enrichment profile</text>
<text x="376.50" y="439.50" font-size="6.6" fill="#333" textLength="11.00" lengthAdjust="spacingAndGlyphs"  stroke="#333" stroke-width="0.12">Hits</text>
<text x="400.00" y="439.50" font-size="6.6" fill="#333" textLength="64.20" lengthAdjust="spacingAndGlyphs"  stroke="#333" stroke-width="0.12">Ranking metric scores</text>
<text x="339.70" y="453.70" font-size="6.4" fill="#222"  stroke="#222" stroke-width="0.12">NES: +2.45</text>
<text x="339.70" y="461.40" font-size="6.4" fill="#222"  stroke="#222" stroke-width="0.12">Nom. <tspan font-style="italic">P</tspan>-value: .00</text>
<text x="339.70" y="469.30" font-size="6.4" fill="#222"  stroke="#222" stroke-width="0.12">FDR q-value: 0.00</text>
<rect x="0.5" y="0.5" width="519" height="477" fill="none" stroke="#666" stroke-width="1"/>
</svg></body></html>
